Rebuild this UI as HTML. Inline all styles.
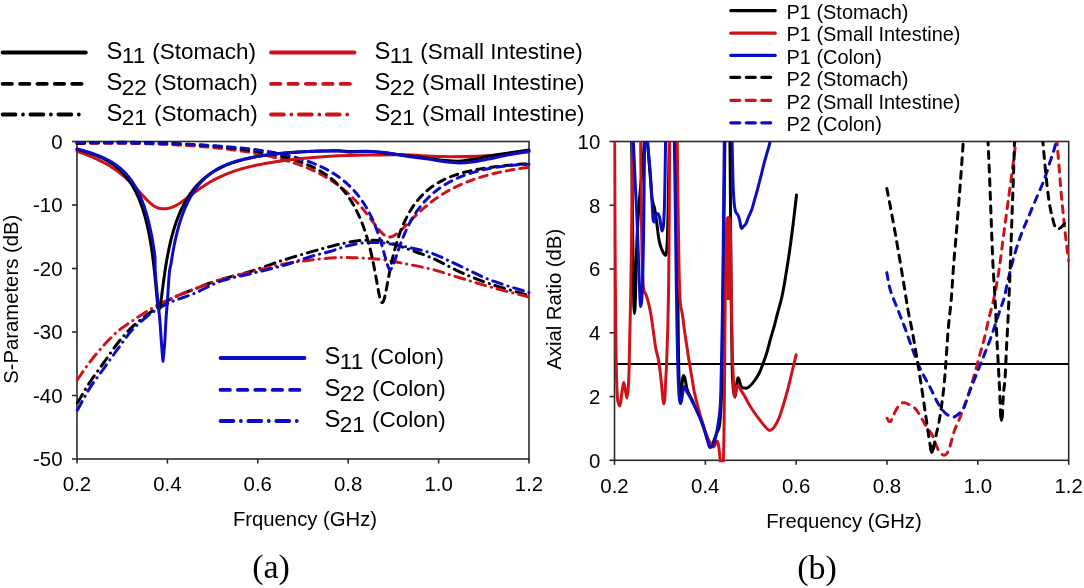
<!DOCTYPE html><html><head><meta charset="utf-8"><title>S-parameters and Axial Ratio</title><style>html,body{margin:0;padding:0;background:#fff;}svg{display:block;will-change:transform}</style></head><body>
<svg width="1084" height="588" viewBox="0 0 1084 588">
<rect width="1084" height="588" fill="#fff"/>
<defs><clipPath id="ca"><rect x="75.0" y="139.5" width="456.0" height="321.5"/></clipPath><clipPath id="cb"><rect x="613.5" y="141.5" width="456.2" height="320.8"/></clipPath></defs>
<g stroke="#2a2a2a" stroke-width="1.6" fill="none">
<rect x="77.0" y="141.5" width="452.0" height="317.5"/>
<line x1="72.0" y1="141.50" x2="77.0" y2="141.50"/>
<line x1="72.0" y1="205.00" x2="77.0" y2="205.00"/>
<line x1="72.0" y1="268.50" x2="77.0" y2="268.50"/>
<line x1="72.0" y1="332.00" x2="77.0" y2="332.00"/>
<line x1="72.0" y1="395.50" x2="77.0" y2="395.50"/>
<line x1="72.0" y1="459.00" x2="77.0" y2="459.00"/>
<line x1="77.00" y1="459.0" x2="77.00" y2="463.5"/>
<line x1="167.40" y1="459.0" x2="167.40" y2="463.5"/>
<line x1="257.80" y1="459.0" x2="257.80" y2="463.5"/>
<line x1="348.20" y1="459.0" x2="348.20" y2="463.5"/>
<line x1="438.60" y1="459.0" x2="438.60" y2="463.5"/>
<line x1="529.00" y1="459.0" x2="529.00" y2="463.5"/>
</g>
<path d="M77.30,403.00 C81.37,396.27 85.13,389.46 89.50,382.80 C93.98,375.96 99.08,369.25 103.90,362.50 C108.72,355.75 113.39,348.50 118.40,342.30 C123.05,336.54 127.35,331.48 132.80,326.40 C138.78,320.83 146.54,315.19 153.10,310.50 C158.90,306.35 163.65,302.89 170.00,299.50 C177.37,295.56 186.57,292.13 195.00,288.80 C203.44,285.47 211.62,282.33 220.60,279.50 C230.28,276.45 241.06,274.43 251.20,271.30 C261.46,268.14 271.55,263.92 281.80,260.60 C291.99,257.29 303.68,253.93 312.50,251.40 C319.13,249.50 324.38,248.04 330.00,246.60 C335.18,245.27 340.16,243.99 345.00,243.00 C349.47,242.09 353.74,241.27 358.00,240.80 C362.07,240.36 366.09,240.23 370.00,240.20 C373.75,240.17 377.21,240.04 381.00,240.60 C385.19,241.22 389.73,242.67 394.00,244.00 C398.26,245.33 401.67,246.79 406.60,248.60 C413.62,251.17 423.54,254.29 432.10,258.00 C441.23,261.95 450.23,267.55 459.70,271.80 C469.35,276.13 478.78,279.95 489.50,283.70 C501.66,287.95 515.83,291.63 529.00,295.60" fill="none" stroke="#000000" stroke-width="3.0" stroke-linecap="round" stroke-linejoin="round" stroke-dasharray="10 5.9 0.2 5.9" clip-path="url(#ca)"/>
<path d="M77.30,379.90 C81.37,374.10 85.14,368.20 89.50,362.50 C93.99,356.63 98.96,350.61 103.90,345.20 C108.61,340.04 113.39,334.91 118.40,330.70 C123.04,326.80 127.55,324.12 132.80,320.60 C138.95,316.48 146.55,311.35 153.10,307.60 C158.91,304.27 163.75,301.86 170.00,299.00 C177.46,295.59 186.58,292.01 195.00,288.80 C203.45,285.58 211.62,282.42 220.60,279.70 C230.28,276.77 241.00,274.55 251.20,272.00 C261.40,269.45 271.54,266.44 281.80,264.40 C291.98,262.38 302.53,260.96 312.50,259.80 C321.90,258.70 332.13,257.75 340.00,257.50 C345.90,257.31 350.42,257.63 355.50,257.80 C360.42,257.97 365.50,258.21 370.00,258.50 C373.92,258.76 376.59,258.82 381.00,259.40 C387.77,260.28 398.09,262.33 406.60,264.00 C415.12,265.67 423.48,267.18 432.10,269.40 C441.17,271.74 450.32,274.97 459.70,277.80 C469.44,280.74 478.84,283.71 489.50,286.70 C501.71,290.13 515.83,293.63 529.00,297.10" fill="none" stroke="#cf1119" stroke-width="3.0" stroke-linecap="round" stroke-linejoin="round" stroke-dasharray="10 5.9 0.2 5.9" clip-path="url(#ca)"/>
<path d="M77.30,410.30 C81.37,403.07 85.07,395.60 89.50,388.60 C93.93,381.60 99.08,375.05 103.90,368.30 C108.72,361.55 113.52,354.68 118.40,348.10 C123.16,341.68 127.24,335.17 132.80,329.30 C138.71,323.06 146.41,316.56 153.10,311.90 C158.79,307.94 163.70,305.42 170.00,302.50 C177.41,299.07 186.68,296.59 195.00,293.10 C203.55,289.51 211.52,284.40 220.60,281.20 C230.19,277.81 241.00,276.15 251.20,273.60 C261.40,271.05 271.64,268.81 281.80,265.90 C292.07,262.95 303.66,258.56 312.50,256.00 C319.11,254.08 324.42,253.15 330.00,251.50 C335.22,249.96 340.15,247.85 345.00,246.50 C349.46,245.26 353.73,244.27 358.00,243.60 C362.06,242.96 366.08,242.63 370.00,242.50 C373.74,242.38 377.19,242.50 381.00,242.80 C385.16,243.13 389.71,243.80 394.00,244.50 C398.24,245.20 401.73,245.92 406.60,247.00 C413.42,248.51 422.67,250.13 431.00,253.00 C440.32,256.21 450.06,261.50 459.70,265.90 C469.55,270.40 478.73,275.47 489.50,279.70 C501.61,284.46 515.83,288.30 529.00,292.60" fill="none" stroke="#0c0cc4" stroke-width="3.0" stroke-linecap="round" stroke-linejoin="round" stroke-dasharray="10 5.9 0.2 5.9" clip-path="url(#ca)"/>
<path d="M77.00,143.55 C77.67,143.54 78.33,143.53 79.00,143.51 C79.67,143.50 80.33,143.49 81.00,143.48 C81.67,143.47 82.33,143.45 83.00,143.44 C83.67,143.43 84.33,143.42 85.00,143.41 C85.67,143.40 86.33,143.39 87.00,143.38 C87.67,143.37 88.33,143.37 89.00,143.36 C89.67,143.35 90.33,143.34 91.00,143.33 C91.67,143.33 92.33,143.32 93.00,143.31 C93.67,143.31 94.33,143.30 95.00,143.29 C95.67,143.29 96.33,143.28 97.00,143.28 C97.67,143.27 98.33,143.27 99.00,143.26 C99.67,143.26 100.33,143.25 101.00,143.25 C101.67,143.25 102.33,143.24 103.00,143.24 C103.67,143.24 104.33,143.23 105.00,143.23 C105.67,143.23 106.33,143.23 107.00,143.23 C107.67,143.23 108.33,143.23 109.00,143.23 C109.67,143.23 110.33,143.23 111.00,143.23 C111.67,143.23 112.33,143.23 113.00,143.23 C113.67,143.23 114.33,143.23 115.00,143.24 C115.67,143.24 116.33,143.24 117.00,143.24 C117.67,143.25 118.33,143.25 119.00,143.25 C119.67,143.26 120.33,143.26 121.00,143.27 C121.67,143.27 122.33,143.28 123.00,143.28 C123.67,143.29 124.33,143.30 125.00,143.30 C125.67,143.31 126.33,143.32 127.00,143.33 C127.67,143.33 128.33,143.34 129.00,143.35 C129.67,143.36 130.33,143.37 131.00,143.38 C131.67,143.39 132.33,143.40 133.00,143.41 C133.67,143.42 134.33,143.43 135.00,143.44 C135.67,143.45 136.33,143.47 137.00,143.48 C137.67,143.49 138.33,143.50 139.00,143.52 C139.67,143.53 140.33,143.54 141.00,143.56 C141.67,143.57 142.33,143.59 143.00,143.60 C143.67,143.62 144.33,143.64 145.00,143.65 C145.67,143.67 146.33,143.69 147.00,143.70 C147.67,143.72 148.33,143.74 149.00,143.76 C149.67,143.78 150.33,143.80 151.00,143.82 C151.67,143.84 152.33,143.86 153.00,143.88 C153.67,143.90 154.33,143.92 155.00,143.94 C155.67,143.96 156.33,143.99 157.00,144.01 C157.67,144.03 158.33,144.06 159.00,144.08 C159.67,144.10 160.33,144.13 161.00,144.15 C161.67,144.18 162.33,144.21 163.00,144.23 C163.67,144.26 164.33,144.29 165.00,144.31 C165.67,144.34 166.33,144.37 167.00,144.40 C167.67,144.43 168.33,144.46 169.00,144.49 C169.67,144.52 170.33,144.55 171.00,144.58 C171.67,144.61 172.33,144.64 173.00,144.68 C173.67,144.71 174.33,144.74 175.00,144.78 C175.67,144.81 176.33,144.85 177.00,144.88 C177.67,144.92 178.33,144.95 179.00,144.99 C179.67,145.03 180.33,145.06 181.00,145.10 C181.67,145.14 182.33,145.18 183.00,145.22 C183.67,145.26 184.33,145.30 185.00,145.34 C185.67,145.38 186.33,145.42 187.00,145.47 C187.67,145.51 188.33,145.55 189.00,145.60 C189.67,145.64 190.33,145.68 191.00,145.73 C191.67,145.78 192.33,145.82 193.00,145.87 C193.67,145.92 194.33,145.96 195.00,146.01 C195.67,146.06 196.33,146.11 197.00,146.16 C197.67,146.21 198.33,146.26 199.00,146.31 C199.67,146.37 200.33,146.42 201.00,146.47 C201.67,146.53 202.33,146.58 203.00,146.64 C203.67,146.69 204.33,146.75 205.00,146.80 C205.67,146.86 206.33,146.92 207.00,146.98 C207.67,147.04 208.33,147.10 209.00,147.16 C209.67,147.22 210.33,147.28 211.00,147.34 C211.67,147.41 212.33,147.47 213.00,147.54 C213.67,147.60 214.33,147.67 215.00,147.73 C215.67,147.80 216.33,147.87 217.00,147.94 C217.67,148.01 218.33,148.08 219.00,148.15 C219.67,148.22 220.33,148.29 221.00,148.36 C221.67,148.44 222.33,148.51 223.00,148.59 C223.67,148.66 224.33,148.74 225.00,148.81 C225.67,148.89 226.33,148.97 227.00,149.05 C227.67,149.13 228.33,149.21 229.00,149.29 C229.67,149.38 230.33,149.46 231.00,149.55 C231.67,149.63 232.33,149.72 233.00,149.80 C233.67,149.89 234.33,149.98 235.00,150.07 C235.67,150.16 236.33,150.25 237.00,150.34 C237.67,150.44 238.33,150.53 239.00,150.63 C239.67,150.72 240.33,150.82 241.00,150.92 C241.67,151.02 242.33,151.12 243.00,151.22 C243.67,151.32 244.33,151.42 245.00,151.53 C245.67,151.63 246.33,151.74 247.00,151.84 C247.67,151.95 248.33,152.06 249.00,152.17 C249.67,152.28 250.33,152.39 251.00,152.51 C251.67,152.62 252.33,152.74 253.00,152.86 C253.67,152.97 254.33,153.09 255.00,153.21 C255.67,153.34 256.33,153.46 257.00,153.58 C257.67,153.71 258.33,153.83 259.00,153.96 C259.67,154.09 260.33,154.22 261.00,154.36 C261.67,154.49 262.33,154.62 263.00,154.76 C263.67,154.90 264.33,155.03 265.00,155.18 C265.67,155.32 266.33,155.46 267.00,155.60 C267.67,155.75 268.33,155.90 269.00,156.05 C269.67,156.20 270.33,156.35 271.00,156.50 C271.67,156.66 272.33,156.81 273.00,156.97 C273.67,157.13 274.33,157.29 275.00,157.46 C275.67,157.62 276.33,157.79 277.00,157.96 C277.67,158.13 278.33,158.30 279.00,158.47 C279.67,158.65 280.33,158.83 281.00,159.01 C281.67,159.19 282.33,159.37 283.00,159.56 C283.67,159.74 284.33,159.93 285.00,160.12 C285.67,160.32 286.33,160.51 287.00,160.71 C287.67,160.91 288.33,161.11 289.00,161.32 C289.67,161.52 290.33,161.73 291.00,161.94 C291.67,162.15 292.33,162.37 293.00,162.59 C293.67,162.81 294.33,163.03 295.00,163.25 C295.67,163.48 296.33,163.71 297.00,163.94 C297.67,164.18 298.33,164.42 299.00,164.66 C299.67,164.90 300.33,165.14 301.00,165.39 C301.67,165.64 302.33,165.90 303.00,166.16 C303.67,166.42 304.33,166.68 305.00,166.95 C305.67,167.21 306.33,167.49 307.00,167.76 C307.67,168.04 308.33,168.32 309.00,168.61 C309.67,168.90 310.33,169.19 311.00,169.49 C311.67,169.78 312.33,170.09 313.00,170.39 C313.67,170.70 314.33,171.01 315.00,171.33 C315.67,171.65 316.33,171.98 317.00,172.31 C317.67,172.64 318.33,172.98 319.00,173.32 C319.67,173.66 320.33,174.01 321.00,174.37 C321.67,174.72 322.33,175.09 323.00,175.45 C323.67,175.82 324.33,176.20 325.00,176.58 C325.67,176.97 326.33,177.36 327.00,177.75 C327.67,178.15 328.45,178.63 329.00,178.97 C329.39,179.21 329.72,179.42 330.00,179.60 C330.20,179.72 330.33,179.81 330.50,179.91 C330.67,180.02 330.83,180.13 331.00,180.24 C331.17,180.34 331.33,180.45 331.50,180.56 C331.67,180.67 331.83,180.78 332.00,180.89 C332.17,181.00 332.33,181.11 332.50,181.22 C332.67,181.33 332.83,181.44 333.00,181.55 C333.17,181.66 333.33,181.77 333.50,181.89 C333.67,182.00 333.83,182.11 334.00,182.23 C334.17,182.34 334.33,182.45 334.50,182.57 C334.67,182.68 334.83,182.80 335.00,182.92 C335.17,183.03 335.33,183.15 335.50,183.27 C335.67,183.38 335.83,183.50 336.00,183.62 C336.17,183.74 336.33,183.86 336.50,183.98 C336.67,184.10 336.83,184.22 337.00,184.34 C337.17,184.46 337.33,184.58 337.50,184.70 C337.67,184.82 337.83,184.95 338.00,185.07 C338.17,185.19 338.33,185.32 338.50,185.44 C338.67,185.56 338.83,185.69 339.00,185.82 C339.17,185.94 339.33,186.07 339.50,186.19 C339.67,186.32 339.83,186.45 340.00,186.58 C340.17,186.71 340.33,186.83 340.50,186.96 C340.67,187.09 340.83,187.22 341.00,187.35 C341.17,187.48 341.33,187.62 341.50,187.75 C341.67,187.88 341.83,188.01 342.00,188.15 C342.17,188.28 342.33,188.41 342.50,188.55 C342.67,188.68 342.83,188.82 343.00,188.96 C343.17,189.09 343.33,189.23 343.50,189.37 C343.67,189.50 343.83,189.64 344.00,189.78 C344.17,189.92 344.33,190.06 344.50,190.20 C344.67,190.34 344.83,190.48 345.00,190.62 C345.17,190.76 345.33,190.91 345.50,191.05 C345.67,191.19 345.83,191.34 346.00,191.48 C346.17,191.63 346.33,191.77 346.50,191.92 C346.67,192.06 346.83,192.21 347.00,192.36 C347.17,192.51 347.33,192.66 347.50,192.80 C347.67,192.95 347.83,193.10 348.00,193.25 C348.17,193.40 348.33,193.56 348.50,193.71 C348.67,193.86 348.83,194.01 349.00,194.17 C349.17,194.32 349.33,194.48 349.50,194.63 C349.67,194.79 349.83,194.94 350.00,195.10 C350.17,195.26 350.33,195.41 350.50,195.57 C350.67,195.73 350.83,195.89 351.00,196.05 C351.17,196.21 351.33,196.37 351.50,196.53 C351.67,196.70 351.83,196.86 352.00,197.02 C352.17,197.19 352.33,197.35 352.50,197.51 C352.67,197.68 352.83,197.85 353.00,198.01 C353.17,198.18 353.33,198.35 353.50,198.51 C353.67,198.68 353.83,198.85 354.00,199.02 C354.17,199.19 354.33,199.36 354.50,199.54 C354.67,199.71 354.83,199.88 355.00,200.05 C355.17,200.23 355.33,200.40 355.50,200.58 C355.67,200.75 355.83,200.93 356.00,201.11 C356.17,201.28 356.33,201.46 356.50,201.64 C356.67,201.82 356.83,202.00 357.00,202.18 C357.17,202.36 357.33,202.54 357.50,202.72 C357.67,202.90 357.83,203.09 358.00,203.27 C358.17,203.46 358.33,203.64 358.50,203.83 C358.67,204.01 358.83,204.20 359.00,204.39 C359.17,204.57 359.33,204.76 359.50,204.95 C359.67,205.14 359.83,205.33 360.00,205.52 C360.17,205.71 360.33,205.91 360.50,206.10 C360.67,206.29 360.83,206.48 361.00,206.68 C361.17,206.87 361.33,207.07 361.50,207.27 C361.67,207.46 361.83,207.66 362.00,207.86 C362.17,208.06 362.33,208.25 362.50,208.45 C362.67,208.65 362.83,208.85 363.00,209.06 C363.17,209.26 363.33,209.46 363.50,209.66 C363.67,209.87 363.83,210.07 364.00,210.27 C364.17,210.48 364.33,210.68 364.50,210.89 C364.67,211.10 364.83,211.30 365.00,211.51 C365.17,211.72 365.33,211.93 365.50,212.14 C365.67,212.35 365.83,212.56 366.00,212.77 C366.17,212.98 366.33,213.19 366.50,213.40 C366.67,213.62 366.83,213.83 367.00,214.04 C367.17,214.26 367.33,214.47 367.50,214.69 C367.67,214.90 367.83,215.12 368.00,215.33 C368.17,215.55 368.33,215.77 368.50,215.98 C368.67,216.20 368.83,216.42 369.00,216.64 C369.17,216.86 369.33,217.08 369.50,217.29 C369.67,217.51 369.83,217.73 370.00,217.95 C370.17,218.17 370.33,218.40 370.50,218.62 C370.67,218.84 370.83,219.06 371.00,219.28 C371.17,219.50 371.33,219.72 371.50,219.95 C371.67,220.17 371.83,220.39 372.00,220.61 C372.17,220.83 372.33,221.06 372.50,221.28 C372.67,221.50 372.83,221.72 373.00,221.95 C373.17,222.17 373.33,222.39 373.50,222.61 C373.67,222.84 373.83,223.06 374.00,223.28 C374.17,223.50 374.33,223.72 374.50,223.94 C374.67,224.17 374.83,224.39 375.00,224.61 C375.17,224.83 375.33,225.05 375.50,225.26 C375.67,225.48 375.83,225.70 376.00,225.92 C376.17,226.14 376.33,226.35 376.50,226.57 C376.67,226.78 376.83,227.00 377.00,227.21 C377.17,227.42 377.33,227.64 377.50,227.85 C377.67,228.06 377.83,228.27 378.00,228.47 C378.17,228.68 378.33,228.89 378.50,229.09 C378.67,229.30 378.83,229.50 379.00,229.70 C379.17,229.90 379.33,230.10 379.50,230.30 C379.67,230.49 379.83,230.69 380.00,230.88 C380.17,231.07 380.33,231.26 380.50,231.45 C380.67,231.63 380.83,231.82 381.00,232.00 C381.17,232.18 381.33,232.36 381.50,232.53 C381.67,232.71 381.83,232.88 382.00,233.05 C382.17,233.21 382.33,233.38 382.50,233.54 C382.67,233.70 382.83,233.86 383.00,234.01 C383.17,234.16 383.33,234.31 383.50,234.45 C383.67,234.60 383.83,234.74 384.00,234.87 C384.17,235.01 384.33,235.14 384.50,235.26 C384.67,235.39 384.83,235.51 385.00,235.62 C385.17,235.74 385.33,235.85 385.50,235.95 C385.67,236.05 385.83,236.15 386.00,236.24 C386.17,236.33 386.33,236.42 386.50,236.50 C386.67,236.58 386.83,236.65 387.00,236.72 C387.17,236.78 387.33,236.84 387.50,236.89 C387.67,236.94 387.83,236.99 388.00,237.02 C388.17,237.06 388.33,237.08 388.50,237.10 C388.67,237.12 388.83,237.12 389.00,237.12 C389.17,237.12 389.33,237.11 389.50,237.10 C389.67,237.08 389.83,237.06 390.00,237.04 C390.17,237.01 390.33,236.98 390.50,236.95 C390.67,236.91 390.83,236.87 391.00,236.83 C391.17,236.78 391.33,236.74 391.50,236.68 C391.67,236.63 391.83,236.57 392.00,236.51 C392.17,236.45 392.33,236.38 392.50,236.31 C392.67,236.24 392.83,236.17 393.00,236.09 C393.17,236.01 393.33,235.93 393.50,235.84 C393.67,235.76 393.83,235.67 394.00,235.58 C394.17,235.49 394.33,235.39 394.50,235.29 C394.67,235.19 394.83,235.09 395.00,234.99 C395.17,234.88 395.33,234.77 395.50,234.66 C395.67,234.55 395.83,234.44 396.00,234.32 C396.17,234.21 396.33,234.09 396.50,233.97 C396.67,233.85 396.83,233.72 397.00,233.60 C397.17,233.47 397.33,233.34 397.50,233.21 C397.67,233.08 397.83,232.95 398.00,232.81 C398.17,232.68 398.33,232.54 398.50,232.40 C398.67,232.26 398.83,232.12 399.00,231.98 C399.17,231.83 399.33,231.69 399.50,231.54 C399.67,231.40 399.83,231.25 400.00,231.10 C400.17,230.95 400.33,230.80 400.50,230.65 C400.67,230.50 400.83,230.34 401.00,230.19 C401.17,230.04 401.33,229.88 401.50,229.72 C401.67,229.57 401.83,229.41 402.00,229.25 C402.17,229.09 402.33,228.93 402.50,228.77 C402.67,228.61 402.83,228.45 403.00,228.28 C403.17,228.12 403.33,227.96 403.50,227.79 C403.67,227.63 403.83,227.46 404.00,227.30 C404.17,227.13 404.33,226.97 404.50,226.80 C404.67,226.63 404.83,226.47 405.00,226.30 C405.17,226.13 405.33,225.96 405.50,225.79 C405.67,225.63 405.83,225.46 406.00,225.29 C406.17,225.12 406.33,224.95 406.50,224.78 C406.67,224.61 406.83,224.44 407.00,224.27 C407.17,224.10 407.33,223.93 407.50,223.76 C407.67,223.59 407.83,223.42 408.00,223.25 C408.17,223.08 408.33,222.91 408.50,222.74 C408.67,222.57 408.83,222.40 409.00,222.23 C409.17,222.06 409.33,221.89 409.50,221.72 C409.67,221.55 409.83,221.38 410.00,221.21 C410.17,221.04 410.33,220.87 410.50,220.70 C410.67,220.53 410.83,220.36 411.00,220.19 C411.17,220.02 411.33,219.85 411.50,219.68 C411.67,219.51 411.83,219.34 412.00,219.18 C412.17,219.01 412.33,218.84 412.50,218.67 C412.67,218.51 412.83,218.34 413.00,218.17 C413.17,218.00 413.33,217.84 413.50,217.67 C413.67,217.51 413.83,217.34 414.00,217.18 C414.17,217.01 414.33,216.84 414.50,216.68 C414.67,216.52 414.83,216.35 415.00,216.19 C415.17,216.02 415.33,215.86 415.50,215.70 C415.67,215.54 415.83,215.37 416.00,215.21 C416.17,215.05 416.33,214.89 416.50,214.73 C416.67,214.57 416.83,214.41 417.00,214.25 C417.17,214.09 417.33,213.93 417.50,213.77 C417.67,213.61 417.83,213.45 418.00,213.29 C418.17,213.14 418.33,212.98 418.50,212.82 C418.67,212.67 418.83,212.51 419.00,212.35 C419.17,212.20 419.33,212.04 419.50,211.89 C419.67,211.73 419.83,211.58 420.00,211.43 C420.17,211.27 420.33,211.12 420.50,210.97 C420.67,210.82 420.83,210.66 421.00,210.51 C421.17,210.36 421.33,210.21 421.50,210.06 C421.67,209.91 421.83,209.76 422.00,209.61 C422.17,209.47 422.33,209.32 422.50,209.17 C422.67,209.02 422.83,208.87 423.00,208.73 C423.17,208.58 423.33,208.44 423.50,208.29 C423.67,208.15 423.83,208.00 424.00,207.86 C424.17,207.71 424.33,207.57 424.50,207.43 C424.67,207.28 424.83,207.14 425.00,207.00 C425.17,206.86 425.33,206.72 425.50,206.58 C425.67,206.44 425.83,206.30 426.00,206.16 C426.17,206.02 426.33,205.88 426.50,205.74 C426.67,205.60 426.83,205.46 427.00,205.33 C427.17,205.19 427.33,205.05 427.50,204.92 C427.67,204.78 427.83,204.65 428.00,204.51 C428.17,204.38 428.33,204.24 428.50,204.11 C428.67,203.98 428.83,203.84 429.00,203.71 C429.17,203.58 429.33,203.45 429.50,203.32 C429.67,203.19 429.83,203.06 430.00,202.93 C430.17,202.80 430.33,202.67 430.50,202.54 C430.67,202.41 430.83,202.28 431.00,202.15 C431.17,202.03 431.33,201.90 431.50,201.77 C431.67,201.65 431.83,201.52 432.00,201.39 C432.17,201.27 432.33,201.14 432.50,201.02 C432.67,200.90 432.83,200.77 433.00,200.65 C433.17,200.53 433.33,200.40 433.50,200.28 C433.67,200.16 433.83,200.04 434.00,199.92 C434.17,199.80 434.33,199.68 434.50,199.56 C434.67,199.44 434.83,199.32 435.00,199.20 C435.17,199.08 435.33,198.96 435.50,198.84 C435.67,198.73 435.83,198.61 436.00,198.49 C436.17,198.38 436.33,198.26 436.50,198.15 C436.67,198.03 436.83,197.91 437.00,197.80 C437.17,197.69 437.33,197.57 437.50,197.46 C437.67,197.35 437.83,197.23 438.00,197.12 C438.17,197.01 438.33,196.90 438.50,196.78 C438.67,196.67 438.83,196.56 439.00,196.45 C439.17,196.34 439.29,196.26 439.50,196.12 C439.87,195.88 440.46,195.50 441.00,195.15 C441.62,194.76 442.33,194.31 443.00,193.90 C443.66,193.49 444.33,193.09 445.00,192.70 C445.67,192.30 446.33,191.92 447.00,191.54 C447.67,191.16 448.33,190.78 449.00,190.42 C449.67,190.05 450.33,189.69 451.00,189.34 C451.67,188.98 452.33,188.64 453.00,188.30 C453.67,187.96 454.33,187.62 455.00,187.30 C455.67,186.97 456.33,186.65 457.00,186.33 C457.67,186.01 458.33,185.70 459.00,185.40 C459.67,185.09 460.33,184.80 461.00,184.50 C461.67,184.21 462.33,183.92 463.00,183.64 C463.67,183.35 464.33,183.08 465.00,182.80 C465.67,182.53 466.33,182.26 467.00,182.00 C467.67,181.74 468.33,181.48 469.00,181.22 C469.67,180.97 470.33,180.72 471.00,180.47 C471.67,180.23 472.33,179.99 473.00,179.75 C473.67,179.52 474.33,179.29 475.00,179.06 C475.67,178.83 476.33,178.61 477.00,178.39 C477.67,178.17 478.33,177.95 479.00,177.74 C479.67,177.53 480.33,177.32 481.00,177.11 C481.67,176.91 482.33,176.71 483.00,176.51 C483.67,176.31 484.33,176.12 485.00,175.93 C485.67,175.74 486.33,175.55 487.00,175.37 C487.67,175.18 488.33,175.00 489.00,174.83 C489.67,174.65 490.33,174.48 491.00,174.30 C491.67,174.13 492.33,173.97 493.00,173.80 C493.67,173.64 494.33,173.47 495.00,173.31 C495.67,173.16 496.33,173.00 497.00,172.85 C497.67,172.69 498.33,172.54 499.00,172.39 C499.67,172.25 500.33,172.10 501.00,171.96 C501.67,171.81 502.33,171.67 503.00,171.54 C503.67,171.40 504.33,171.26 505.00,171.13 C505.67,171.00 506.33,170.87 507.00,170.74 C507.67,170.61 508.33,170.48 509.00,170.36 C509.67,170.24 510.33,170.11 511.00,170.00 C511.67,169.88 512.33,169.76 513.00,169.64 C513.67,169.53 514.33,169.42 515.00,169.31 C515.67,169.19 516.33,169.09 517.00,168.98 C517.67,168.87 518.33,168.77 519.00,168.66 C519.67,168.56 520.33,168.46 521.00,168.36 C521.67,168.26 522.33,168.16 523.00,168.07 C523.67,167.97 524.33,167.88 525.00,167.79 C525.67,167.70 526.33,167.61 527.00,167.52 C527.67,167.43 528.33,167.34 529.00,167.26" fill="none" stroke="#cf1119" stroke-width="3.0" stroke-linecap="round" stroke-linejoin="round" stroke-dasharray="7.6 6.1" clip-path="url(#ca)"/>
<path d="M77.00,143.38 C77.67,143.35 78.33,143.32 79.00,143.29 C79.67,143.26 80.33,143.23 81.00,143.20 C81.67,143.17 82.33,143.14 83.00,143.12 C83.67,143.09 84.33,143.06 85.00,143.04 C85.67,143.01 86.33,142.99 87.00,142.96 C87.67,142.94 88.33,142.91 89.00,142.89 C89.67,142.87 90.33,142.85 91.00,142.83 C91.67,142.80 92.33,142.78 93.00,142.76 C93.67,142.74 94.33,142.72 95.00,142.70 C95.67,142.69 96.33,142.67 97.00,142.65 C97.67,142.63 98.33,142.62 99.00,142.60 C99.67,142.58 100.33,142.57 101.00,142.55 C101.67,142.54 102.33,142.52 103.00,142.51 C103.67,142.50 104.33,142.48 105.00,142.47 C105.67,142.46 106.33,142.45 107.00,142.44 C107.67,142.43 108.33,142.42 109.00,142.41 C109.67,142.40 110.33,142.39 111.00,142.38 C111.67,142.37 112.33,142.36 113.00,142.36 C113.67,142.35 114.33,142.34 115.00,142.34 C115.67,142.33 116.33,142.33 117.00,142.32 C117.67,142.32 118.33,142.32 119.00,142.31 C119.67,142.31 120.33,142.31 121.00,142.31 C121.67,142.30 122.33,142.30 123.00,142.30 C123.67,142.30 124.33,142.30 125.00,142.30 C125.67,142.30 126.33,142.30 127.00,142.31 C127.67,142.31 128.33,142.31 129.00,142.31 C129.67,142.32 130.33,142.32 131.00,142.33 C131.67,142.33 132.33,142.34 133.00,142.34 C133.67,142.35 134.33,142.35 135.00,142.36 C135.67,142.37 136.33,142.38 137.00,142.38 C137.67,142.39 138.33,142.40 139.00,142.41 C139.67,142.42 140.33,142.43 141.00,142.44 C141.67,142.45 142.33,142.46 143.00,142.48 C143.67,142.49 144.33,142.50 145.00,142.51 C145.67,142.53 146.33,142.54 147.00,142.56 C147.67,142.57 148.33,142.59 149.00,142.60 C149.67,142.62 150.33,142.63 151.00,142.65 C151.67,142.67 152.33,142.69 153.00,142.70 C153.67,142.72 154.33,142.74 155.00,142.76 C155.67,142.78 156.33,142.80 157.00,142.82 C157.67,142.84 158.33,142.86 159.00,142.89 C159.67,142.91 160.33,142.93 161.00,142.95 C161.67,142.98 162.33,143.00 163.00,143.02 C163.67,143.05 164.33,143.07 165.00,143.10 C165.67,143.13 166.33,143.15 167.00,143.18 C167.67,143.21 168.33,143.23 169.00,143.26 C169.67,143.29 170.33,143.32 171.00,143.35 C171.67,143.38 172.33,143.41 173.00,143.44 C173.67,143.47 174.33,143.50 175.00,143.53 C175.67,143.57 176.33,143.60 177.00,143.63 C177.67,143.67 178.33,143.70 179.00,143.73 C179.67,143.77 180.33,143.80 181.00,143.84 C181.67,143.88 182.33,143.91 183.00,143.95 C183.67,143.99 184.33,144.03 185.00,144.06 C185.67,144.10 186.33,144.14 187.00,144.18 C187.67,144.22 188.33,144.26 189.00,144.30 C189.67,144.35 190.33,144.39 191.00,144.43 C191.67,144.47 192.33,144.52 193.00,144.56 C193.67,144.60 194.33,144.65 195.00,144.70 C195.67,144.74 196.33,144.79 197.00,144.83 C197.67,144.88 198.33,144.93 199.00,144.98 C199.67,145.02 200.33,145.07 201.00,145.12 C201.67,145.17 202.33,145.22 203.00,145.28 C203.67,145.33 204.33,145.38 205.00,145.43 C205.67,145.48 206.33,145.54 207.00,145.59 C207.67,145.65 208.33,145.70 209.00,145.76 C209.67,145.81 210.33,145.87 211.00,145.93 C211.67,145.98 212.33,146.04 213.00,146.10 C213.67,146.16 214.33,146.22 215.00,146.28 C215.67,146.34 216.33,146.40 217.00,146.46 C217.67,146.53 218.33,146.59 219.00,146.65 C219.67,146.72 220.33,146.78 221.00,146.85 C221.67,146.91 222.33,146.98 223.00,147.05 C223.67,147.12 224.33,147.18 225.00,147.25 C225.67,147.32 226.33,147.39 227.00,147.47 C227.67,147.54 228.33,147.61 229.00,147.68 C229.67,147.76 230.33,147.83 231.00,147.91 C231.67,147.98 232.33,148.06 233.00,148.13 C233.67,148.21 234.33,148.29 235.00,148.37 C235.67,148.45 236.33,148.53 237.00,148.61 C237.67,148.69 238.33,148.78 239.00,148.86 C239.67,148.94 240.33,149.03 241.00,149.11 C241.67,149.20 242.33,149.29 243.00,149.38 C243.67,149.47 244.33,149.56 245.00,149.65 C245.67,149.74 246.33,149.83 247.00,149.92 C247.67,150.02 248.33,150.11 249.00,150.21 C249.67,150.31 250.33,150.40 251.00,150.50 C251.67,150.60 252.33,150.70 253.00,150.81 C253.67,150.91 254.33,151.01 255.00,151.12 C255.67,151.22 256.33,151.33 257.00,151.44 C257.67,151.55 258.33,151.66 259.00,151.77 C259.67,151.88 260.33,151.99 261.00,152.11 C261.67,152.23 262.33,152.34 263.00,152.46 C263.67,152.58 264.33,152.70 265.00,152.82 C265.67,152.95 266.33,153.07 267.00,153.20 C267.67,153.33 268.33,153.45 269.00,153.59 C269.67,153.72 270.33,153.85 271.00,153.99 C271.67,154.12 272.33,154.26 273.00,154.40 C273.67,154.54 274.33,154.68 275.00,154.83 C275.67,154.97 276.33,155.12 277.00,155.27 C277.67,155.42 278.33,155.57 279.00,155.73 C279.67,155.89 280.33,156.04 281.00,156.21 C281.67,156.37 282.33,156.53 283.00,156.70 C283.67,156.87 284.33,157.04 285.00,157.21 C285.67,157.39 286.33,157.56 287.00,157.74 C287.67,157.92 288.33,158.11 289.00,158.30 C289.67,158.49 290.33,158.68 291.00,158.87 C291.67,159.07 292.33,159.27 293.00,159.47 C293.67,159.68 294.33,159.88 295.00,160.10 C295.67,160.31 296.33,160.53 297.00,160.75 C297.67,160.97 298.33,161.20 299.00,161.43 C299.67,161.66 300.33,161.90 301.00,162.14 C301.67,162.38 302.33,162.63 303.00,162.88 C303.67,163.13 304.33,163.39 305.00,163.66 C305.67,163.92 306.33,164.20 307.00,164.47 C307.67,164.75 308.33,165.04 309.00,165.33 C309.67,165.62 310.33,165.92 311.00,166.22 C311.67,166.53 312.33,166.84 313.00,167.16 C313.67,167.49 314.34,167.82 315.00,168.15 C315.67,168.49 316.34,168.84 317.00,169.20 C317.67,169.56 318.34,169.92 319.00,170.30 C319.67,170.67 320.34,171.06 321.00,171.46 C321.67,171.85 322.34,172.26 323.00,172.68 C323.67,173.10 324.34,173.53 325.00,173.97 C325.67,174.42 326.34,174.88 327.00,175.34 C327.67,175.82 328.45,176.39 329.00,176.80 C329.39,177.09 329.78,177.39 330.00,177.56 C330.11,177.64 330.17,177.68 330.25,177.75 C330.33,177.81 330.42,177.88 330.50,177.94 C330.58,178.01 330.67,178.07 330.75,178.14 C330.83,178.21 330.92,178.27 331.00,178.34 C331.08,178.40 331.17,178.47 331.25,178.54 C331.33,178.60 331.42,178.67 331.50,178.74 C331.58,178.80 331.67,178.87 331.75,178.94 C331.83,179.01 331.92,179.07 332.00,179.14 C332.08,179.21 332.17,179.28 332.25,179.35 C332.33,179.42 332.42,179.49 332.50,179.56 C332.58,179.62 332.67,179.69 332.75,179.76 C332.83,179.83 332.92,179.90 333.00,179.97 C333.08,180.04 333.17,180.12 333.25,180.19 C333.33,180.26 333.42,180.33 333.50,180.40 C333.58,180.47 333.67,180.54 333.75,180.61 C333.83,180.69 333.92,180.76 334.00,180.83 C334.08,180.90 334.17,180.98 334.25,181.05 C334.33,181.12 334.42,181.20 334.50,181.27 C334.58,181.34 334.67,181.42 334.75,181.49 C334.83,181.57 334.92,181.64 335.00,181.72 C335.08,181.79 335.17,181.87 335.25,181.94 C335.33,182.02 335.42,182.09 335.50,182.17 C335.58,182.24 335.67,182.32 335.75,182.40 C335.83,182.47 335.92,182.55 336.00,182.63 C336.08,182.71 336.17,182.78 336.25,182.86 C336.33,182.94 336.42,183.02 336.50,183.10 C336.58,183.17 336.67,183.25 336.75,183.33 C336.83,183.41 336.92,183.49 337.00,183.57 C337.08,183.65 337.17,183.73 337.25,183.81 C337.33,183.89 337.42,183.97 337.50,184.05 C337.58,184.14 337.67,184.22 337.75,184.30 C337.83,184.38 337.92,184.46 338.00,184.55 C338.08,184.63 338.17,184.71 338.25,184.79 C338.33,184.88 338.42,184.96 338.50,185.04 C338.58,185.13 338.67,185.21 338.75,185.30 C338.83,185.38 338.92,185.47 339.00,185.55 C339.08,185.64 339.17,185.72 339.25,185.81 C339.33,185.89 339.42,185.98 339.50,186.07 C339.58,186.15 339.67,186.24 339.75,186.33 C339.83,186.42 339.92,186.50 340.00,186.59 C340.08,186.68 340.17,186.77 340.25,186.86 C340.33,186.95 340.42,187.03 340.50,187.12 C340.58,187.21 340.67,187.30 340.75,187.39 C340.83,187.48 340.92,187.58 341.00,187.67 C341.08,187.76 341.17,187.85 341.25,187.94 C341.33,188.03 341.42,188.13 341.50,188.22 C341.58,188.31 341.67,188.40 341.75,188.50 C341.83,188.59 341.92,188.68 342.00,188.78 C342.08,188.87 342.17,188.97 342.25,189.06 C342.33,189.16 342.42,189.25 342.50,189.35 C342.58,189.45 342.67,189.54 342.75,189.64 C342.83,189.74 342.92,189.83 343.00,189.93 C343.08,190.03 343.17,190.13 343.25,190.22 C343.33,190.32 343.42,190.42 343.50,190.52 C343.58,190.62 343.67,190.72 343.75,190.82 C343.83,190.92 343.92,191.02 344.00,191.12 C344.08,191.22 344.17,191.33 344.25,191.43 C344.33,191.53 344.42,191.63 344.50,191.73 C344.58,191.84 344.67,191.94 344.75,192.05 C344.83,192.15 344.92,192.25 345.00,192.36 C345.08,192.46 345.17,192.57 345.25,192.67 C345.33,192.78 345.42,192.89 345.50,192.99 C345.58,193.10 345.67,193.21 345.75,193.31 C345.83,193.42 345.92,193.53 346.00,193.64 C346.08,193.75 346.17,193.86 346.25,193.97 C346.33,194.08 346.42,194.19 346.50,194.30 C346.58,194.41 346.67,194.52 346.75,194.63 C346.83,194.74 346.92,194.85 347.00,194.97 C347.08,195.08 347.17,195.19 347.25,195.31 C347.33,195.42 347.42,195.53 347.50,195.65 C347.58,195.76 347.67,195.88 347.75,195.99 C347.83,196.11 347.92,196.23 348.00,196.34 C348.08,196.46 348.17,196.58 348.25,196.70 C348.33,196.81 348.42,196.93 348.50,197.05 C348.58,197.17 348.67,197.29 348.75,197.41 C348.83,197.53 348.92,197.65 349.00,197.77 C349.08,197.89 349.17,198.02 349.25,198.14 C349.33,198.26 349.42,198.39 349.50,198.51 C349.58,198.63 349.67,198.76 349.75,198.88 C349.83,199.01 349.92,199.13 350.00,199.26 C350.08,199.39 350.17,199.51 350.25,199.64 C350.33,199.77 350.42,199.89 350.50,200.02 C350.58,200.15 350.67,200.28 350.75,200.41 C350.83,200.54 350.92,200.67 351.00,200.80 C351.08,200.93 351.17,201.07 351.25,201.20 C351.33,201.33 351.42,201.46 351.50,201.60 C351.58,201.73 351.67,201.87 351.75,202.00 C351.83,202.14 351.92,202.27 352.00,202.41 C352.08,202.55 352.17,202.68 352.25,202.82 C352.33,202.96 352.42,203.10 352.50,203.24 C352.58,203.38 352.67,203.52 352.75,203.66 C352.83,203.80 352.92,203.94 353.00,204.08 C353.08,204.22 353.17,204.36 353.25,204.51 C353.33,204.65 353.42,204.80 353.50,204.94 C353.58,205.09 353.67,205.23 353.75,205.38 C353.83,205.53 353.92,205.67 354.00,205.82 C354.08,205.97 354.17,206.12 354.25,206.27 C354.33,206.42 354.42,206.57 354.50,206.72 C354.58,206.87 354.67,207.02 354.75,207.17 C354.83,207.33 354.92,207.48 355.00,207.64 C355.08,207.79 355.17,207.95 355.25,208.10 C355.33,208.26 355.42,208.41 355.50,208.57 C355.58,208.73 355.67,208.89 355.75,209.05 C355.83,209.21 355.92,209.37 356.00,209.53 C356.08,209.69 356.17,209.85 356.25,210.01 C356.33,210.18 356.42,210.34 356.50,210.51 C356.58,210.67 356.67,210.84 356.75,211.00 C356.83,211.17 356.92,211.34 357.00,211.51 C357.08,211.67 357.17,211.84 357.25,212.01 C357.33,212.18 357.42,212.35 357.50,212.53 C357.58,212.70 357.67,212.87 357.75,213.05 C357.83,213.22 357.92,213.40 358.00,213.57 C358.08,213.75 358.17,213.92 358.25,214.10 C358.33,214.28 358.42,214.46 358.50,214.64 C358.58,214.82 358.67,215.00 358.75,215.18 C358.83,215.37 358.92,215.55 359.00,215.73 C359.08,215.92 359.17,216.10 359.25,216.29 C359.33,216.48 359.42,216.66 359.50,216.85 C359.58,217.04 359.67,217.23 359.75,217.42 C359.83,217.61 359.92,217.80 360.00,218.00 C360.08,218.19 360.17,218.38 360.25,218.58 C360.33,218.78 360.42,218.97 360.50,219.17 C360.58,219.37 360.67,219.57 360.75,219.77 C360.83,219.97 360.92,220.17 361.00,220.37 C361.08,220.57 361.17,220.78 361.25,220.98 C361.33,221.19 361.42,221.39 361.50,221.60 C361.58,221.81 361.67,222.02 361.75,222.23 C361.83,222.44 361.92,222.65 362.00,222.86 C362.08,223.08 362.17,223.29 362.25,223.51 C362.33,223.72 362.42,223.94 362.50,224.16 C362.58,224.38 362.67,224.60 362.75,224.82 C362.83,225.04 362.92,225.26 363.00,225.48 C363.08,225.71 363.17,225.93 363.25,226.16 C363.33,226.39 363.42,226.62 363.50,226.84 C363.58,227.08 363.67,227.31 363.75,227.54 C363.83,227.77 363.92,228.01 364.00,228.24 C364.08,228.48 364.17,228.72 364.25,228.95 C364.33,229.19 364.42,229.43 364.50,229.68 C364.58,229.92 364.67,230.16 364.75,230.41 C364.83,230.65 364.92,230.90 365.00,231.15 C365.08,231.40 365.17,231.65 365.25,231.90 C365.33,232.15 365.42,232.41 365.50,232.66 C365.58,232.92 365.67,233.18 365.75,233.44 C365.83,233.70 365.92,233.96 366.00,234.22 C366.08,234.48 366.17,234.75 366.25,235.01 C366.33,235.28 366.42,235.55 366.50,235.82 C366.58,236.09 366.67,236.36 366.75,236.64 C366.83,236.91 366.92,237.19 367.00,237.47 C367.08,237.75 367.17,238.03 367.25,238.31 C367.33,238.59 367.42,238.88 367.50,239.16 C367.58,239.45 367.67,239.74 367.75,240.03 C367.83,240.32 367.92,240.61 368.00,240.91 C368.08,241.20 368.17,241.50 368.25,241.80 C368.33,242.10 368.42,242.40 368.50,242.70 C368.58,243.01 368.67,243.31 368.75,243.62 C368.83,243.93 368.92,244.24 369.00,244.56 C369.08,244.87 369.17,245.19 369.25,245.50 C369.33,245.82 369.42,246.14 369.50,246.46 C369.58,246.79 369.67,247.11 369.75,247.44 C369.83,247.77 369.92,248.10 370.00,248.43 C370.08,248.77 370.17,249.10 370.25,249.44 C370.33,249.78 370.42,250.12 370.50,250.46 C370.58,250.81 370.67,251.15 370.75,251.50 C370.83,251.85 370.92,252.20 371.00,252.55 C371.08,252.91 371.17,253.27 371.25,253.63 C371.33,253.99 371.42,254.35 371.50,254.71 C371.58,255.08 371.67,255.45 371.75,255.82 C371.83,256.19 371.92,256.57 372.00,256.94 C372.08,257.32 372.17,257.70 372.25,258.08 C372.33,258.47 372.42,258.85 372.50,259.24 C372.58,259.63 372.67,260.02 372.75,260.42 C372.83,260.81 372.92,261.21 373.00,261.61 C373.08,262.01 373.17,262.42 373.25,262.82 C373.33,263.23 373.42,263.64 373.50,264.05 C373.58,264.47 373.67,264.88 373.75,265.30 C373.83,265.72 373.92,266.14 374.00,266.57 C374.08,266.99 374.17,267.42 374.25,267.85 C374.33,268.28 374.42,268.72 374.50,269.15 C374.58,269.59 374.67,270.03 374.75,270.47 C374.83,270.91 374.92,271.36 375.00,271.80 C375.08,272.25 375.17,272.70 375.25,273.15 C375.33,273.61 375.42,274.06 375.50,274.52 C375.58,274.98 375.67,275.44 375.75,275.90 C375.83,276.36 375.92,276.82 376.00,277.28 C376.08,277.75 376.17,278.22 376.25,278.68 C376.33,279.15 376.42,279.62 376.50,280.09 C376.58,280.56 376.67,281.03 376.75,281.50 C376.83,281.97 376.92,282.44 377.00,282.92 C377.08,283.39 377.17,283.86 377.25,284.33 C377.33,284.80 377.42,285.27 377.50,285.74 C377.58,286.20 377.67,286.67 377.75,287.14 C377.83,287.60 377.92,288.06 378.00,288.52 C378.08,288.97 378.17,289.43 378.25,289.88 C378.33,290.33 378.42,290.77 378.50,291.22 C378.58,291.65 378.67,292.09 378.75,292.52 C378.83,292.94 378.92,293.36 379.00,293.78 C379.08,294.19 379.17,294.59 379.25,294.99 C379.33,295.38 379.42,295.76 379.50,296.14 C379.58,296.50 379.67,296.87 379.75,297.22 C379.83,297.56 379.91,297.90 380.00,298.22 C380.08,298.54 380.16,298.85 380.25,299.14 C380.33,299.42 380.41,299.70 380.50,299.96 C380.58,300.21 380.66,300.46 380.75,300.68 C380.83,300.90 380.91,301.10 381.00,301.29 C381.08,301.46 381.16,301.63 381.25,301.78 C381.33,301.92 381.41,302.04 381.50,302.15 C381.58,302.25 381.66,302.33 381.75,302.40 C381.83,302.46 381.91,302.50 382.00,302.53 C382.08,302.55 382.17,302.55 382.25,302.54 C382.33,302.53 382.42,302.50 382.50,302.45 C382.59,302.41 382.67,302.33 382.75,302.25 C382.84,302.16 382.92,302.05 383.00,301.94 C383.09,301.81 383.17,301.66 383.25,301.51 C383.34,301.34 383.42,301.15 383.50,300.96 C383.59,300.76 383.67,300.54 383.75,300.32 C383.84,300.08 383.92,299.83 384.00,299.57 C384.09,299.30 384.17,299.02 384.25,298.73 C384.34,298.43 384.42,298.13 384.50,297.81 C384.58,297.49 384.67,297.15 384.75,296.82 C384.83,296.47 384.92,296.11 385.00,295.75 C385.08,295.38 385.17,295.01 385.25,294.63 C385.33,294.24 385.42,293.85 385.50,293.46 C385.58,293.06 385.67,292.65 385.75,292.24 C385.83,291.83 385.92,291.41 386.00,290.99 C386.08,290.57 386.17,290.14 386.25,289.71 C386.33,289.28 386.42,288.85 386.50,288.41 C386.58,287.97 386.67,287.53 386.75,287.09 C386.83,286.65 386.92,286.21 387.00,285.77 C387.08,285.32 387.17,284.87 387.25,284.43 C387.33,283.98 387.42,283.54 387.50,283.09 C387.58,282.64 387.67,282.19 387.75,281.75 C387.83,281.30 387.92,280.86 388.00,280.41 C388.08,279.97 388.17,279.52 388.25,279.08 C388.33,278.64 388.42,278.20 388.50,277.76 C388.58,277.32 388.67,276.88 388.75,276.44 C388.83,276.01 388.92,275.57 389.00,275.14 C389.08,274.71 389.17,274.28 389.25,273.85 C389.33,273.43 389.42,273.00 389.50,272.58 C389.58,272.15 389.67,271.73 389.75,271.32 C389.83,270.90 389.92,270.48 390.00,270.07 C390.08,269.66 390.17,269.25 390.25,268.84 C390.33,268.43 390.42,268.03 390.50,267.63 C390.58,267.23 390.67,266.83 390.75,266.43 C390.83,266.03 390.92,265.64 391.00,265.25 C391.08,264.86 391.17,264.47 391.25,264.09 C391.33,263.70 391.42,263.32 391.50,262.94 C391.58,262.56 391.67,262.19 391.75,261.81 C391.83,261.44 391.92,261.07 392.00,260.70 C392.08,260.33 392.17,259.97 392.25,259.60 C392.33,259.24 392.42,258.88 392.50,258.52 C392.58,258.17 392.67,257.81 392.75,257.46 C392.83,257.11 392.92,256.76 393.00,256.42 C393.08,256.07 393.17,255.73 393.25,255.39 C393.33,255.05 393.42,254.71 393.50,254.37 C393.58,254.04 393.67,253.71 393.75,253.38 C393.83,253.05 393.92,252.72 394.00,252.39 C394.08,252.07 394.17,251.75 394.25,251.43 C394.33,251.11 394.42,250.79 394.50,250.47 C394.58,250.16 394.67,249.85 394.75,249.54 C394.83,249.23 394.92,248.92 395.00,248.61 C395.08,248.31 395.17,248.00 395.25,247.70 C395.33,247.40 395.42,247.10 395.50,246.81 C395.58,246.51 395.67,246.22 395.75,245.93 C395.83,245.64 395.92,245.35 396.00,245.06 C396.08,244.77 396.17,244.49 396.25,244.20 C396.33,243.92 396.42,243.64 396.50,243.36 C396.58,243.08 396.67,242.80 396.75,242.53 C396.83,242.25 396.92,241.98 397.00,241.71 C397.08,241.44 397.17,241.17 397.25,240.90 C397.33,240.64 397.42,240.37 397.50,240.11 C397.58,239.85 397.67,239.59 397.75,239.33 C397.83,239.07 397.92,238.81 398.00,238.55 C398.08,238.30 398.17,238.05 398.25,237.79 C398.33,237.54 398.42,237.29 398.50,237.04 C398.58,236.80 398.67,236.55 398.75,236.31 C398.83,236.06 398.92,235.82 399.00,235.58 C399.08,235.34 399.17,235.10 399.25,234.86 C399.33,234.62 399.42,234.38 399.50,234.15 C399.58,233.92 399.67,233.68 399.75,233.45 C399.83,233.22 399.92,232.99 400.00,232.76 C400.08,232.53 400.17,232.31 400.25,232.08 C400.33,231.86 400.42,231.63 400.50,231.41 C400.58,231.19 400.67,230.97 400.75,230.75 C400.83,230.53 400.92,230.31 401.00,230.10 C401.08,229.88 401.17,229.66 401.25,229.45 C401.33,229.24 401.42,229.03 401.50,228.81 C401.58,228.60 401.67,228.40 401.75,228.19 C401.83,227.98 401.92,227.77 402.00,227.57 C402.08,227.36 402.17,227.16 402.25,226.96 C402.33,226.75 402.42,226.55 402.50,226.35 C402.58,226.15 402.67,225.96 402.75,225.76 C402.83,225.56 402.92,225.36 403.00,225.17 C403.08,224.97 403.17,224.78 403.25,224.59 C403.33,224.40 403.42,224.21 403.50,224.01 C403.58,223.83 403.67,223.64 403.75,223.45 C403.83,223.26 403.92,223.07 404.00,222.89 C404.08,222.70 404.17,222.52 404.25,222.34 C404.33,222.15 404.42,221.97 404.50,221.79 C404.58,221.61 404.67,221.43 404.75,221.25 C404.83,221.07 404.92,220.90 405.00,220.72 C405.08,220.54 405.17,220.37 405.25,220.19 C405.33,220.02 405.42,219.85 405.50,219.67 C405.58,219.50 405.67,219.33 405.75,219.16 C405.83,218.99 405.92,218.82 406.00,218.65 C406.08,218.48 406.17,218.32 406.25,218.15 C406.33,217.99 406.42,217.82 406.50,217.66 C406.58,217.49 406.67,217.33 406.75,217.17 C406.83,217.00 406.92,216.84 407.00,216.68 C407.08,216.52 407.17,216.36 407.25,216.20 C407.33,216.04 407.42,215.89 407.50,215.73 C407.58,215.57 407.67,215.42 407.75,215.26 C407.83,215.11 407.92,214.95 408.00,214.80 C408.08,214.65 408.17,214.50 408.25,214.34 C408.33,214.19 408.42,214.04 408.50,213.89 C408.58,213.74 408.67,213.59 408.75,213.44 C408.83,213.30 408.92,213.15 409.00,213.00 C409.08,212.86 409.17,212.71 409.25,212.57 C409.33,212.42 409.42,212.28 409.50,212.13 C409.58,211.99 409.67,211.85 409.75,211.71 C409.83,211.57 409.92,211.43 410.00,211.28 C410.08,211.14 410.17,211.01 410.25,210.87 C410.33,210.73 410.42,210.59 410.50,210.45 C410.58,210.32 410.67,210.18 410.75,210.04 C410.83,209.91 410.92,209.77 411.00,209.64 C411.08,209.51 411.17,209.37 411.25,209.24 C411.33,209.11 411.42,208.98 411.50,208.84 C411.58,208.71 411.67,208.58 411.75,208.45 C411.83,208.32 411.92,208.19 412.00,208.07 C412.08,207.94 412.17,207.81 412.25,207.68 C412.33,207.56 412.42,207.43 412.50,207.30 C412.58,207.18 412.67,207.05 412.75,206.93 C412.83,206.80 412.92,206.68 413.00,206.56 C413.08,206.43 413.17,206.31 413.25,206.19 C413.33,206.07 413.42,205.95 413.50,205.83 C413.58,205.71 413.67,205.59 413.75,205.47 C413.83,205.35 413.92,205.23 414.00,205.11 C414.08,204.99 414.17,204.87 414.25,204.76 C414.33,204.64 414.42,204.52 414.50,204.41 C414.58,204.29 414.67,204.18 414.75,204.06 C414.83,203.95 414.92,203.84 415.00,203.72 C415.08,203.61 415.17,203.50 415.25,203.38 C415.33,203.27 415.42,203.16 415.50,203.05 C415.58,202.94 415.67,202.83 415.75,202.72 C415.83,202.61 415.92,202.50 416.00,202.39 C416.08,202.28 416.17,202.17 416.25,202.06 C416.33,201.96 416.42,201.85 416.50,201.74 C416.58,201.64 416.67,201.53 416.75,201.42 C416.83,201.32 416.92,201.21 417.00,201.11 C417.08,201.00 417.17,200.90 417.25,200.80 C417.33,200.69 417.42,200.59 417.50,200.49 C417.58,200.39 417.67,200.28 417.75,200.18 C417.83,200.08 417.92,199.98 418.00,199.88 C418.08,199.78 418.17,199.68 418.25,199.58 C418.33,199.48 418.42,199.38 418.50,199.28 C418.58,199.18 418.67,199.09 418.75,198.99 C418.83,198.89 418.92,198.79 419.00,198.70 C419.08,198.60 419.17,198.50 419.25,198.41 C419.33,198.31 419.42,198.22 419.50,198.12 C419.58,198.03 419.67,197.93 419.75,197.84 C419.83,197.75 419.92,197.65 420.00,197.56 C420.08,197.47 420.17,197.37 420.25,197.28 C420.33,197.19 420.42,197.10 420.50,197.01 C420.58,196.91 420.67,196.82 420.75,196.73 C420.83,196.64 420.92,196.55 421.00,196.46 C421.08,196.37 421.17,196.29 421.25,196.20 C421.33,196.11 421.42,196.02 421.50,195.93 C421.58,195.84 421.67,195.76 421.75,195.67 C421.83,195.58 421.92,195.50 422.00,195.41 C422.08,195.32 422.17,195.24 422.25,195.15 C422.33,195.07 422.42,194.98 422.50,194.90 C422.58,194.81 422.67,194.73 422.75,194.65 C422.83,194.56 422.92,194.48 423.00,194.40 C423.08,194.31 423.17,194.23 423.25,194.15 C423.33,194.07 423.42,193.98 423.50,193.90 C423.58,193.82 423.67,193.74 423.75,193.66 C423.83,193.58 423.92,193.50 424.00,193.42 C424.08,193.34 424.17,193.26 424.25,193.18 C424.33,193.10 424.42,193.02 424.50,192.94 C424.58,192.86 424.67,192.79 424.75,192.71 C424.83,192.63 424.92,192.55 425.00,192.48 C425.08,192.40 425.17,192.32 425.25,192.25 C425.33,192.17 425.42,192.09 425.50,192.02 C425.58,191.94 425.67,191.87 425.75,191.79 C425.83,191.72 425.92,191.64 426.00,191.57 C426.08,191.49 426.17,191.42 426.25,191.34 C426.33,191.27 426.42,191.20 426.50,191.12 C426.58,191.05 426.67,190.98 426.75,190.91 C426.83,190.83 426.92,190.76 427.00,190.69 C427.08,190.62 427.17,190.55 427.25,190.48 C427.33,190.41 427.42,190.34 427.50,190.26 C427.58,190.19 427.67,190.12 427.75,190.05 C427.83,189.98 427.92,189.92 428.00,189.85 C428.08,189.78 428.17,189.71 428.25,189.64 C428.33,189.57 428.42,189.50 428.50,189.43 C428.58,189.37 428.67,189.30 428.75,189.23 C428.83,189.16 428.92,189.10 429.00,189.03 C429.08,188.96 429.17,188.90 429.25,188.83 C429.33,188.77 429.42,188.70 429.50,188.63 C429.58,188.57 429.67,188.50 429.75,188.44 C429.83,188.37 429.92,188.31 430.00,188.24 C430.08,188.18 430.17,188.12 430.25,188.05 C430.33,187.99 430.42,187.92 430.50,187.86 C430.58,187.80 430.67,187.73 430.75,187.67 C430.83,187.61 430.92,187.55 431.00,187.48 C431.08,187.42 431.17,187.36 431.25,187.30 C431.33,187.24 431.42,187.18 431.50,187.11 C431.58,187.05 431.67,186.99 431.75,186.93 C431.83,186.87 431.92,186.81 432.00,186.75 C432.08,186.69 432.17,186.63 432.25,186.57 C432.33,186.51 432.42,186.45 432.50,186.39 C432.58,186.33 432.67,186.28 432.75,186.22 C432.83,186.16 432.92,186.10 433.00,186.04 C433.08,185.98 433.17,185.93 433.25,185.87 C433.33,185.81 433.42,185.75 433.50,185.70 C433.58,185.64 433.67,185.58 433.75,185.53 C433.83,185.47 433.92,185.41 434.00,185.36 C434.08,185.30 434.17,185.25 434.25,185.19 C434.33,185.13 434.42,185.08 434.50,185.02 C434.58,184.97 434.67,184.91 434.75,184.86 C434.83,184.80 434.92,184.75 435.00,184.70 C435.08,184.64 435.17,184.59 435.25,184.53 C435.33,184.48 435.42,184.43 435.50,184.37 C435.58,184.32 435.67,184.27 435.75,184.21 C435.83,184.16 435.92,184.11 436.00,184.06 C436.08,184.00 436.17,183.95 436.25,183.90 C436.33,183.85 436.42,183.80 436.50,183.74 C436.58,183.69 436.67,183.64 436.75,183.59 C436.83,183.54 436.92,183.49 437.00,183.44 C437.08,183.39 437.17,183.34 437.25,183.29 C437.33,183.24 437.42,183.19 437.50,183.14 C437.58,183.09 437.67,183.04 437.75,182.99 C437.83,182.94 437.92,182.89 438.00,182.84 C438.08,182.79 438.17,182.74 438.25,182.69 C438.33,182.64 438.42,182.60 438.50,182.55 C438.58,182.50 438.67,182.45 438.75,182.40 C438.83,182.36 438.92,182.31 439.00,182.26 C439.08,182.21 439.17,182.17 439.25,182.12 C439.33,182.07 439.42,182.03 439.50,181.98 C439.58,181.93 439.63,181.90 439.75,181.84 C440.01,181.70 440.53,181.41 441.00,181.16 C441.59,180.85 442.33,180.46 443.00,180.13 C443.66,179.80 444.33,179.47 445.00,179.16 C445.66,178.85 446.33,178.55 447.00,178.25 C447.66,177.96 448.33,177.68 449.00,177.40 C449.67,177.13 450.33,176.86 451.00,176.60 C451.67,176.34 452.33,176.09 453.00,175.85 C453.67,175.60 454.33,175.37 455.00,175.14 C455.67,174.91 456.33,174.68 457.00,174.47 C457.67,174.25 458.33,174.04 459.00,173.84 C459.67,173.63 460.33,173.44 461.00,173.24 C461.67,173.05 462.33,172.87 463.00,172.68 C463.67,172.50 464.33,172.33 465.00,172.15 C465.67,171.98 466.33,171.81 467.00,171.65 C467.67,171.49 468.33,171.33 469.00,171.18 C469.67,171.02 470.33,170.87 471.00,170.73 C471.67,170.58 472.33,170.44 473.00,170.30 C473.67,170.16 474.33,170.03 475.00,169.90 C475.67,169.77 476.33,169.64 477.00,169.51 C477.67,169.39 478.33,169.27 479.00,169.15 C479.67,169.03 480.33,168.91 481.00,168.80 C481.67,168.69 482.33,168.58 483.00,168.47 C483.67,168.36 484.33,168.26 485.00,168.15 C485.67,168.05 486.33,167.95 487.00,167.85 C487.67,167.75 488.33,167.66 489.00,167.56 C489.67,167.47 490.33,167.38 491.00,167.29 C491.67,167.20 492.33,167.11 493.00,167.02 C493.67,166.94 494.33,166.85 495.00,166.77 C495.67,166.68 496.33,166.60 497.00,166.52 C497.67,166.44 498.33,166.37 499.00,166.29 C499.67,166.21 500.33,166.14 501.00,166.06 C501.67,165.99 502.33,165.92 503.00,165.85 C503.67,165.77 504.33,165.70 505.00,165.64 C505.67,165.57 506.33,165.50 507.00,165.43 C507.67,165.37 508.33,165.30 509.00,165.24 C509.67,165.17 510.33,165.11 511.00,165.04 C511.67,164.98 512.33,164.92 513.00,164.86 C513.67,164.80 514.33,164.74 515.00,164.68 C515.67,164.62 516.33,164.56 517.00,164.50 C517.67,164.44 518.33,164.39 519.00,164.33 C519.67,164.27 520.33,164.22 521.00,164.16 C521.67,164.11 522.33,164.05 523.00,164.00 C523.67,163.94 524.33,163.89 525.00,163.83 C525.67,163.78 526.33,163.73 527.00,163.68 C527.67,163.62 528.33,163.57 529.00,163.52" fill="none" stroke="#000000" stroke-width="3.0" stroke-linecap="round" stroke-linejoin="round" stroke-dasharray="7.6 6.1" clip-path="url(#ca)"/>
<path d="M77.00,142.61 C77.67,142.62 78.33,142.62 79.00,142.63 C79.67,142.63 80.33,142.64 81.00,142.64 C81.67,142.65 82.33,142.65 83.00,142.66 C83.67,142.66 84.33,142.67 85.00,142.67 C85.67,142.67 86.33,142.68 87.00,142.68 C87.67,142.69 88.33,142.69 89.00,142.70 C89.67,142.70 90.33,142.71 91.00,142.71 C91.67,142.72 92.33,142.72 93.00,142.73 C93.67,142.73 94.33,142.74 95.00,142.74 C95.67,142.75 96.33,142.75 97.00,142.76 C97.67,142.77 98.33,142.77 99.00,142.78 C99.67,142.78 100.33,142.79 101.00,142.79 C101.67,142.80 102.33,142.80 103.00,142.81 C103.67,142.81 104.33,142.82 105.00,142.83 C105.67,142.83 106.33,142.84 107.00,142.84 C107.67,142.85 108.33,142.85 109.00,142.86 C109.67,142.87 110.33,142.87 111.00,142.88 C111.67,142.89 112.33,142.89 113.00,142.90 C113.67,142.90 114.33,142.91 115.00,142.92 C115.67,142.92 116.33,142.93 117.00,142.94 C117.67,142.94 118.33,142.95 119.00,142.96 C119.67,142.97 120.33,142.97 121.00,142.98 C121.67,142.99 122.33,143.00 123.00,143.00 C123.67,143.01 124.33,143.02 125.00,143.03 C125.67,143.03 126.33,143.04 127.00,143.05 C127.67,143.06 128.33,143.07 129.00,143.08 C129.67,143.08 130.33,143.09 131.00,143.10 C131.67,143.11 132.33,143.12 133.00,143.13 C133.67,143.14 134.33,143.15 135.00,143.16 C135.67,143.17 136.33,143.18 137.00,143.18 C137.67,143.19 138.33,143.20 139.00,143.22 C139.67,143.23 140.33,143.24 141.00,143.25 C141.67,143.26 142.33,143.27 143.00,143.28 C143.67,143.29 144.33,143.30 145.00,143.31 C145.67,143.32 146.33,143.34 147.00,143.35 C147.67,143.36 148.33,143.37 149.00,143.38 C149.67,143.40 150.33,143.41 151.00,143.42 C151.67,143.44 152.33,143.45 153.00,143.46 C153.67,143.48 154.33,143.49 155.00,143.50 C155.67,143.52 156.33,143.53 157.00,143.55 C157.67,143.56 158.33,143.58 159.00,143.59 C159.67,143.61 160.33,143.62 161.00,143.64 C161.67,143.65 162.33,143.67 163.00,143.69 C163.67,143.70 164.33,143.72 165.00,143.74 C165.67,143.75 166.33,143.77 167.00,143.79 C167.67,143.81 168.33,143.82 169.00,143.84 C169.67,143.86 170.33,143.88 171.00,143.90 C171.67,143.92 172.33,143.94 173.00,143.96 C173.67,143.98 174.33,144.00 175.00,144.02 C175.67,144.04 176.33,144.06 177.00,144.08 C177.67,144.10 178.33,144.12 179.00,144.15 C179.67,144.17 180.33,144.19 181.00,144.21 C181.67,144.24 182.33,144.26 183.00,144.29 C183.67,144.31 184.33,144.33 185.00,144.36 C185.67,144.38 186.33,144.41 187.00,144.43 C187.67,144.46 188.33,144.49 189.00,144.51 C189.67,144.54 190.33,144.57 191.00,144.60 C191.67,144.62 192.33,144.65 193.00,144.68 C193.67,144.71 194.33,144.74 195.00,144.77 C195.67,144.80 196.33,144.83 197.00,144.86 C197.67,144.89 198.33,144.92 199.00,144.96 C199.67,144.99 200.33,145.02 201.00,145.05 C201.67,145.09 202.33,145.12 203.00,145.16 C203.67,145.19 204.33,145.23 205.00,145.26 C205.67,145.30 206.33,145.33 207.00,145.37 C207.67,145.41 208.33,145.45 209.00,145.49 C209.67,145.52 210.33,145.56 211.00,145.60 C211.67,145.64 212.33,145.68 213.00,145.73 C213.67,145.77 214.33,145.81 215.00,145.85 C215.67,145.90 216.33,145.94 217.00,145.98 C217.67,146.03 218.33,146.07 219.00,146.12 C219.67,146.17 220.33,146.21 221.00,146.26 C221.67,146.31 222.33,146.36 223.00,146.41 C223.67,146.46 224.33,146.51 225.00,146.56 C225.67,146.61 226.33,146.66 227.00,146.71 C227.67,146.77 228.33,146.82 229.00,146.88 C229.67,146.93 230.33,146.99 231.00,147.04 C231.67,147.10 232.33,147.16 233.00,147.22 C233.67,147.28 234.33,147.34 235.00,147.40 C235.67,147.46 236.33,147.52 237.00,147.59 C237.67,147.65 238.33,147.71 239.00,147.78 C239.67,147.84 240.33,147.91 241.00,147.98 C241.67,148.05 242.33,148.12 243.00,148.19 C243.67,148.26 244.33,148.33 245.00,148.40 C245.67,148.48 246.33,148.55 247.00,148.62 C247.67,148.70 248.33,148.78 249.00,148.86 C249.67,148.93 250.33,149.01 251.00,149.09 C251.67,149.18 252.33,149.26 253.00,149.34 C253.67,149.43 254.33,149.51 255.00,149.60 C255.67,149.69 256.33,149.77 257.00,149.86 C257.67,149.95 258.33,150.05 259.00,150.14 C259.67,150.23 260.33,150.33 261.00,150.43 C261.67,150.52 262.33,150.62 263.00,150.72 C263.67,150.82 264.33,150.92 265.00,151.03 C265.67,151.13 266.33,151.24 267.00,151.35 C267.67,151.45 268.33,151.56 269.00,151.68 C269.67,151.79 270.33,151.90 271.00,152.02 C271.67,152.13 272.33,152.25 273.00,152.37 C273.67,152.49 274.33,152.61 275.00,152.74 C275.67,152.86 276.33,152.99 277.00,153.12 C277.67,153.25 278.33,153.38 279.00,153.52 C279.67,153.65 280.33,153.79 281.00,153.93 C281.67,154.07 282.33,154.21 283.00,154.35 C283.67,154.50 284.33,154.65 285.00,154.80 C285.67,154.95 286.33,155.10 287.00,155.26 C287.67,155.41 288.33,155.57 289.00,155.73 C289.67,155.90 290.33,156.06 291.00,156.23 C291.67,156.40 292.33,156.57 293.00,156.75 C293.67,156.92 294.33,157.10 295.00,157.28 C295.67,157.47 296.33,157.65 297.00,157.84 C297.67,158.03 298.33,158.22 299.00,158.42 C299.67,158.62 300.33,158.82 301.00,159.02 C301.67,159.23 302.33,159.44 303.00,159.65 C303.67,159.87 304.33,160.08 305.00,160.31 C305.67,160.53 306.33,160.76 307.00,160.99 C307.67,161.22 308.33,161.46 309.00,161.70 C309.67,161.94 310.33,162.19 311.00,162.44 C311.67,162.69 312.33,162.95 313.00,163.21 C313.67,163.47 314.33,163.74 315.00,164.02 C315.67,164.29 316.33,164.57 317.00,164.86 C317.67,165.15 318.33,165.44 319.00,165.74 C319.67,166.04 320.33,166.34 321.00,166.66 C321.67,166.97 322.33,167.29 323.00,167.62 C323.67,167.94 324.33,168.28 325.00,168.62 C325.67,168.96 326.34,169.31 327.00,169.67 C327.67,170.03 328.45,170.46 329.00,170.77 C329.39,170.99 329.78,171.22 330.00,171.35 C330.11,171.41 330.17,171.44 330.25,171.49 C330.33,171.54 330.42,171.59 330.50,171.64 C330.58,171.68 330.67,171.73 330.75,171.78 C330.83,171.83 330.92,171.88 331.00,171.93 C331.08,171.98 331.17,172.03 331.25,172.08 C331.33,172.13 331.42,172.18 331.50,172.23 C331.58,172.28 331.67,172.33 331.75,172.38 C331.83,172.43 331.92,172.48 332.00,172.53 C332.08,172.58 332.17,172.63 332.25,172.68 C332.33,172.73 332.42,172.78 332.50,172.83 C332.58,172.88 332.67,172.94 332.75,172.99 C332.83,173.04 332.92,173.09 333.00,173.14 C333.08,173.19 333.17,173.25 333.25,173.30 C333.33,173.35 333.42,173.40 333.50,173.45 C333.58,173.51 333.67,173.56 333.75,173.61 C333.83,173.67 333.92,173.72 334.00,173.77 C334.08,173.82 334.17,173.88 334.25,173.93 C334.33,173.98 334.42,174.04 334.50,174.09 C334.58,174.15 334.67,174.20 334.75,174.25 C334.83,174.31 334.92,174.36 335.00,174.42 C335.08,174.47 335.17,174.52 335.25,174.58 C335.33,174.63 335.42,174.69 335.50,174.74 C335.58,174.80 335.67,174.85 335.75,174.91 C335.83,174.97 335.92,175.02 336.00,175.08 C336.08,175.13 336.17,175.19 336.25,175.24 C336.33,175.30 336.42,175.36 336.50,175.41 C336.58,175.47 336.67,175.53 336.75,175.58 C336.83,175.64 336.92,175.70 337.00,175.75 C337.08,175.81 337.17,175.87 337.25,175.93 C337.33,175.98 337.42,176.04 337.50,176.10 C337.58,176.16 337.67,176.22 337.75,176.27 C337.83,176.33 337.92,176.39 338.00,176.45 C338.08,176.51 338.17,176.57 338.25,176.63 C338.33,176.69 338.42,176.74 338.50,176.80 C338.58,176.86 338.67,176.92 338.75,176.98 C338.83,177.04 338.92,177.10 339.00,177.16 C339.08,177.22 339.17,177.28 339.25,177.34 C339.33,177.40 339.42,177.47 339.50,177.53 C339.58,177.59 339.67,177.65 339.75,177.71 C339.83,177.77 339.92,177.83 340.00,177.89 C340.08,177.96 340.17,178.02 340.25,178.08 C340.33,178.14 340.42,178.21 340.50,178.27 C340.58,178.33 340.67,178.39 340.75,178.46 C340.83,178.52 340.92,178.58 341.00,178.65 C341.08,178.71 341.17,178.77 341.25,178.84 C341.33,178.90 341.42,178.96 341.50,179.03 C341.58,179.09 341.67,179.16 341.75,179.22 C341.83,179.29 341.92,179.35 342.00,179.42 C342.08,179.48 342.17,179.55 342.25,179.61 C342.33,179.68 342.42,179.75 342.50,179.81 C342.58,179.88 342.67,179.94 342.75,180.01 C342.83,180.08 342.92,180.14 343.00,180.21 C343.08,180.28 343.17,180.34 343.25,180.41 C343.33,180.48 343.42,180.55 343.50,180.61 C343.58,180.68 343.67,180.75 343.75,180.82 C343.83,180.89 343.92,180.96 344.00,181.02 C344.08,181.09 344.17,181.16 344.25,181.23 C344.33,181.30 344.42,181.37 344.50,181.44 C344.58,181.51 344.67,181.58 344.75,181.65 C344.83,181.72 344.92,181.79 345.00,181.86 C345.08,181.93 345.17,182.00 345.25,182.07 C345.33,182.14 345.42,182.22 345.50,182.29 C345.58,182.36 345.67,182.43 345.75,182.50 C345.83,182.58 345.92,182.65 346.00,182.72 C346.08,182.79 346.17,182.87 346.25,182.94 C346.33,183.01 346.42,183.09 346.50,183.16 C346.58,183.23 346.67,183.31 346.75,183.38 C346.83,183.46 346.92,183.53 347.00,183.61 C347.08,183.68 347.17,183.76 347.25,183.83 C347.33,183.91 347.42,183.98 347.50,184.06 C347.58,184.13 347.67,184.21 347.75,184.29 C347.83,184.36 347.92,184.44 348.00,184.52 C348.08,184.59 348.17,184.67 348.25,184.75 C348.33,184.82 348.42,184.90 348.50,184.98 C348.58,185.06 348.67,185.14 348.75,185.22 C348.83,185.29 348.92,185.37 349.00,185.45 C349.08,185.53 349.17,185.61 349.25,185.69 C349.33,185.77 349.42,185.85 349.50,185.93 C349.58,186.01 349.67,186.09 349.75,186.17 C349.83,186.25 349.92,186.34 350.00,186.42 C350.08,186.50 350.17,186.58 350.25,186.66 C350.33,186.74 350.42,186.83 350.50,186.91 C350.58,186.99 350.67,187.08 350.75,187.16 C350.83,187.24 350.92,187.33 351.00,187.41 C351.08,187.49 351.17,187.58 351.25,187.66 C351.33,187.75 351.42,187.83 351.50,187.92 C351.58,188.00 351.67,188.09 351.75,188.17 C351.83,188.26 351.92,188.35 352.00,188.43 C352.08,188.52 352.17,188.61 352.25,188.69 C352.33,188.78 352.42,188.87 352.50,188.96 C352.58,189.05 352.67,189.13 352.75,189.22 C352.83,189.31 352.92,189.40 353.00,189.49 C353.08,189.58 353.17,189.67 353.25,189.76 C353.33,189.85 353.42,189.94 353.50,190.03 C353.58,190.12 353.67,190.21 353.75,190.30 C353.83,190.39 353.92,190.48 354.00,190.58 C354.08,190.67 354.17,190.76 354.25,190.85 C354.33,190.95 354.42,191.04 354.50,191.13 C354.58,191.23 354.67,191.32 354.75,191.42 C354.83,191.51 354.92,191.60 355.00,191.70 C355.08,191.79 355.17,191.89 355.25,191.99 C355.33,192.08 355.42,192.18 355.50,192.27 C355.58,192.37 355.67,192.47 355.75,192.57 C355.83,192.66 355.92,192.76 356.00,192.86 C356.08,192.96 356.17,193.06 356.25,193.15 C356.33,193.25 356.42,193.35 356.50,193.45 C356.58,193.55 356.67,193.65 356.75,193.75 C356.83,193.85 356.92,193.95 357.00,194.06 C357.08,194.16 357.17,194.26 357.25,194.36 C357.33,194.46 357.42,194.57 357.50,194.67 C357.58,194.77 357.67,194.88 357.75,194.98 C357.83,195.08 357.92,195.19 358.00,195.29 C358.08,195.40 358.17,195.50 358.25,195.61 C358.33,195.71 358.42,195.82 358.50,195.93 C358.58,196.03 358.67,196.14 358.75,196.25 C358.83,196.36 358.92,196.46 359.00,196.57 C359.08,196.68 359.17,196.79 359.25,196.90 C359.33,197.01 359.42,197.12 359.50,197.23 C359.58,197.34 359.67,197.45 359.75,197.56 C359.83,197.67 359.92,197.78 360.00,197.90 C360.08,198.01 360.17,198.12 360.25,198.23 C360.33,198.35 360.42,198.46 360.50,198.57 C360.58,198.69 360.67,198.80 360.75,198.92 C360.83,199.03 360.92,199.15 361.00,199.27 C361.08,199.38 361.17,199.50 361.25,199.62 C361.33,199.73 361.42,199.85 361.50,199.97 C361.58,200.09 361.67,200.21 361.75,200.33 C361.83,200.45 361.92,200.57 362.00,200.69 C362.08,200.81 362.17,200.93 362.25,201.05 C362.33,201.17 362.42,201.29 362.50,201.41 C362.58,201.54 362.67,201.66 362.75,201.78 C362.83,201.91 362.92,202.03 363.00,202.16 C363.08,202.28 363.17,202.41 363.25,202.53 C363.33,202.66 363.42,202.79 363.50,202.91 C363.58,203.04 363.67,203.17 363.75,203.30 C363.83,203.43 363.92,203.55 364.00,203.68 C364.08,203.81 364.17,203.94 364.25,204.07 C364.33,204.21 364.42,204.34 364.50,204.47 C364.58,204.60 364.67,204.73 364.75,204.87 C364.83,205.00 364.92,205.14 365.00,205.27 C365.08,205.40 365.17,205.54 365.25,205.68 C365.33,205.81 365.42,205.95 365.50,206.09 C365.58,206.22 365.67,206.36 365.75,206.50 C365.83,206.64 365.92,206.78 366.00,206.92 C366.08,207.06 366.17,207.20 366.25,207.34 C366.33,207.48 366.42,207.62 366.50,207.76 C366.58,207.91 366.67,208.05 366.75,208.20 C366.83,208.34 366.92,208.48 367.00,208.63 C367.08,208.78 367.17,208.92 367.25,209.07 C367.33,209.22 367.42,209.36 367.50,209.51 C367.58,209.66 367.67,209.81 367.75,209.96 C367.83,210.11 367.92,210.26 368.00,210.41 C368.08,210.56 368.17,210.72 368.25,210.87 C368.33,211.02 368.42,211.18 368.50,211.33 C368.58,211.49 368.67,211.64 368.75,211.80 C368.83,211.96 368.92,212.11 369.00,212.27 C369.08,212.43 369.17,212.59 369.25,212.75 C369.33,212.91 369.42,213.07 369.50,213.23 C369.58,213.39 369.67,213.55 369.75,213.71 C369.83,213.88 369.92,214.04 370.00,214.21 C370.08,214.37 370.17,214.54 370.25,214.70 C370.33,214.87 370.42,215.04 370.50,215.21 C370.58,215.38 370.67,215.54 370.75,215.71 C370.83,215.89 370.92,216.06 371.00,216.23 C371.08,216.40 371.17,216.57 371.25,216.75 C371.33,216.92 371.42,217.10 371.50,217.27 C371.58,217.45 371.67,217.63 371.75,217.80 C371.83,217.98 371.92,218.16 372.00,218.34 C372.08,218.52 372.17,218.70 372.25,218.88 C372.33,219.06 372.42,219.25 372.50,219.43 C372.58,219.62 372.67,219.80 372.75,219.99 C372.83,220.17 372.92,220.36 373.00,220.55 C373.08,220.74 373.17,220.93 373.25,221.11 C373.33,221.31 373.42,221.50 373.50,221.69 C373.58,221.88 373.67,222.08 373.75,222.27 C373.83,222.47 373.92,222.66 374.00,222.86 C374.08,223.06 374.17,223.25 374.25,223.45 C374.33,223.65 374.42,223.85 374.50,224.05 C374.58,224.26 374.67,224.46 374.75,224.66 C374.83,224.87 374.92,225.07 375.00,225.28 C375.08,225.48 375.17,225.69 375.25,225.90 C375.33,226.11 375.42,226.32 375.50,226.53 C375.58,226.74 375.67,226.96 375.75,227.17 C375.83,227.38 375.92,227.60 376.00,227.81 C376.08,228.03 376.17,228.25 376.25,228.47 C376.33,228.69 376.42,228.91 376.50,229.13 C376.58,229.35 376.67,229.57 376.75,229.80 C376.83,230.02 376.92,230.25 377.00,230.48 C377.08,230.70 377.17,230.93 377.25,231.16 C377.33,231.39 377.42,231.62 377.50,231.85 C377.58,232.09 377.67,232.32 377.75,232.56 C377.83,232.79 377.92,233.03 378.00,233.27 C378.08,233.51 378.17,233.74 378.25,233.99 C378.33,234.23 378.42,234.47 378.50,234.71 C378.58,234.96 378.67,235.20 378.75,235.45 C378.83,235.70 378.92,235.94 379.00,236.19 C379.08,236.44 379.17,236.70 379.25,236.95 C379.33,237.20 379.42,237.45 379.50,237.71 C379.58,237.97 379.67,238.22 379.75,238.48 C379.83,238.74 379.92,239.00 380.00,239.26 C380.08,239.52 380.17,239.79 380.25,240.05 C380.33,240.31 380.42,240.58 380.50,240.85 C380.58,241.12 380.67,241.38 380.75,241.65 C380.83,241.93 380.92,242.20 381.00,242.47 C381.08,242.74 381.17,243.02 381.25,243.29 C381.33,243.57 381.42,243.85 381.50,244.13 C381.58,244.40 381.67,244.68 381.75,244.97 C381.83,245.25 381.92,245.53 382.00,245.81 C382.08,246.10 382.17,246.38 382.25,246.67 C382.33,246.96 382.42,247.24 382.50,247.53 C382.58,247.82 382.67,248.11 382.75,248.40 C382.83,248.69 382.92,248.99 383.00,249.28 C383.08,249.57 383.17,249.87 383.25,250.16 C383.33,250.46 383.42,250.75 383.50,251.05 C383.58,251.35 383.67,251.64 383.75,251.94 C383.83,252.24 383.92,252.54 384.00,252.84 C384.08,253.14 384.17,253.44 384.25,253.74 C384.33,254.04 384.42,254.34 384.50,254.64 C384.58,254.94 384.67,255.24 384.75,255.54 C384.83,255.84 384.92,256.14 385.00,256.44 C385.08,256.74 385.17,257.03 385.25,257.33 C385.33,257.63 385.42,257.93 385.50,258.22 C385.58,258.52 385.67,258.82 385.75,259.11 C385.83,259.40 385.92,259.70 386.00,259.99 C386.08,260.28 386.17,260.56 386.25,260.85 C386.33,261.14 386.42,261.42 386.50,261.70 C386.58,261.98 386.67,262.26 386.75,262.54 C386.83,262.81 386.92,263.08 387.00,263.35 C387.08,263.61 387.17,263.88 387.25,264.14 C387.33,264.39 387.42,264.65 387.50,264.90 C387.58,265.14 387.67,265.39 387.75,265.63 C387.83,265.86 387.92,266.09 388.00,266.32 C388.08,266.54 388.17,266.75 388.25,266.97 C388.33,267.17 388.41,267.37 388.50,267.56 C388.58,267.75 388.66,267.93 388.75,268.11 C388.83,268.28 388.91,268.44 389.00,268.59 C389.08,268.74 389.16,268.88 389.25,269.01 C389.33,269.13 389.41,269.24 389.50,269.34 C389.58,269.43 389.66,269.52 389.75,269.59 C389.83,269.64 389.91,269.70 390.00,269.72 C390.08,269.73 390.17,269.71 390.25,269.69 C390.34,269.66 390.42,269.61 390.50,269.56 C390.59,269.50 390.67,269.43 390.75,269.35 C390.84,269.27 390.92,269.18 391.00,269.08 C391.09,268.98 391.17,268.87 391.25,268.76 C391.34,268.64 391.42,268.51 391.50,268.38 C391.59,268.25 391.67,268.10 391.75,267.96 C391.83,267.81 391.92,267.65 392.00,267.50 C392.08,267.33 392.17,267.17 392.25,267.00 C392.33,266.82 392.42,266.64 392.50,266.46 C392.58,266.28 392.67,266.09 392.75,265.90 C392.83,265.70 392.92,265.50 393.00,265.31 C393.08,265.10 393.17,264.90 393.25,264.69 C393.33,264.48 393.42,264.27 393.50,264.05 C393.58,263.83 393.67,263.62 393.75,263.40 C393.83,263.17 393.92,262.95 394.00,262.72 C394.08,262.49 394.17,262.26 394.25,262.03 C394.33,261.80 394.42,261.57 394.50,261.33 C394.58,261.10 394.67,260.86 394.75,260.62 C394.83,260.39 394.92,260.15 395.00,259.90 C395.08,259.66 395.17,259.42 395.25,259.18 C395.33,258.93 395.42,258.69 395.50,258.45 C395.58,258.20 395.67,257.96 395.75,257.71 C395.83,257.46 395.92,257.22 396.00,256.97 C396.08,256.72 396.17,256.48 396.25,256.23 C396.33,255.98 396.42,255.73 396.50,255.48 C396.58,255.24 396.67,254.99 396.75,254.74 C396.83,254.49 396.92,254.25 397.00,254.00 C397.08,253.75 397.17,253.50 397.25,253.26 C397.33,253.01 397.42,252.76 397.50,252.52 C397.58,252.27 397.67,252.03 397.75,251.78 C397.83,251.54 397.92,251.29 398.00,251.05 C398.08,250.80 398.17,250.56 398.25,250.32 C398.33,250.07 398.42,249.83 398.50,249.59 C398.58,249.35 398.67,249.11 398.75,248.87 C398.83,248.63 398.92,248.39 399.00,248.15 C399.08,247.91 399.17,247.67 399.25,247.44 C399.33,247.20 399.42,246.96 399.50,246.73 C399.58,246.49 399.67,246.26 399.75,246.03 C399.83,245.79 399.92,245.56 400.00,245.33 C400.08,245.10 400.17,244.87 400.25,244.64 C400.33,244.41 400.42,244.18 400.50,243.96 C400.58,243.73 400.67,243.50 400.75,243.28 C400.83,243.05 400.92,242.83 401.00,242.60 C401.08,242.38 401.17,242.16 401.25,241.94 C401.33,241.72 401.42,241.50 401.50,241.28 C401.58,241.06 401.67,240.84 401.75,240.62 C401.83,240.41 401.92,240.19 402.00,239.98 C402.08,239.76 402.17,239.55 402.25,239.33 C402.33,239.12 402.42,238.91 402.50,238.70 C402.58,238.49 402.67,238.28 402.75,238.07 C402.83,237.86 402.92,237.65 403.00,237.45 C403.08,237.24 403.17,237.04 403.25,236.83 C403.33,236.63 403.42,236.42 403.50,236.22 C403.58,236.02 403.67,235.82 403.75,235.62 C403.83,235.42 403.92,235.22 404.00,235.02 C404.08,234.82 404.17,234.62 404.25,234.43 C404.33,234.23 404.42,234.04 404.50,233.84 C404.58,233.65 404.67,233.46 404.75,233.26 C404.83,233.07 404.92,232.88 405.00,232.69 C405.08,232.50 405.17,232.31 405.25,232.12 C405.33,231.93 405.42,231.75 405.50,231.56 C405.58,231.38 405.67,231.19 405.75,231.01 C405.83,230.82 405.92,230.64 406.00,230.46 C406.08,230.27 406.17,230.09 406.25,229.91 C406.33,229.73 406.42,229.55 406.50,229.37 C406.58,229.19 406.67,229.02 406.75,228.84 C406.83,228.66 406.92,228.49 407.00,228.31 C407.08,228.14 407.17,227.96 407.25,227.79 C407.33,227.62 407.42,227.45 407.50,227.27 C407.58,227.10 407.67,226.93 407.75,226.76 C407.83,226.59 407.92,226.42 408.00,226.26 C408.08,226.09 408.17,225.92 408.25,225.76 C408.33,225.59 408.42,225.42 408.50,225.26 C408.58,225.10 408.67,224.93 408.75,224.77 C408.83,224.61 408.92,224.44 409.00,224.28 C409.08,224.12 409.17,223.96 409.25,223.80 C409.33,223.64 409.42,223.48 409.50,223.33 C409.58,223.17 409.67,223.01 409.75,222.86 C409.83,222.70 409.92,222.54 410.00,222.39 C410.08,222.23 410.17,222.08 410.25,221.93 C410.33,221.77 410.42,221.62 410.50,221.47 C410.58,221.32 410.67,221.17 410.75,221.02 C410.83,220.87 410.92,220.72 411.00,220.57 C411.08,220.42 411.17,220.27 411.25,220.12 C411.33,219.98 411.42,219.83 411.50,219.69 C411.58,219.54 411.67,219.39 411.75,219.25 C411.83,219.11 411.92,218.96 412.00,218.82 C412.08,218.68 412.17,218.53 412.25,218.39 C412.33,218.25 412.42,218.11 412.50,217.97 C412.58,217.83 412.67,217.69 412.75,217.55 C412.83,217.41 412.92,217.27 413.00,217.14 C413.08,217.00 413.17,216.86 413.25,216.73 C413.33,216.59 413.42,216.45 413.50,216.32 C413.58,216.18 413.67,216.05 413.75,215.92 C413.83,215.78 413.92,215.65 414.00,215.52 C414.08,215.38 414.17,215.25 414.25,215.12 C414.33,214.99 414.42,214.86 414.50,214.73 C414.58,214.60 414.67,214.47 414.75,214.34 C414.83,214.21 414.92,214.09 415.00,213.96 C415.08,213.83 415.17,213.70 415.25,213.58 C415.33,213.45 415.42,213.32 415.50,213.20 C415.58,213.07 415.67,212.95 415.75,212.83 C415.83,212.70 415.92,212.58 416.00,212.45 C416.08,212.33 416.17,212.21 416.25,212.09 C416.33,211.97 416.42,211.84 416.50,211.72 C416.58,211.60 416.67,211.48 416.75,211.36 C416.83,211.24 416.92,211.12 417.00,211.01 C417.08,210.89 417.17,210.77 417.25,210.65 C417.33,210.53 417.42,210.42 417.50,210.30 C417.58,210.18 417.67,210.07 417.75,209.95 C417.83,209.84 417.92,209.72 418.00,209.61 C418.08,209.49 418.17,209.38 418.25,209.27 C418.33,209.15 418.42,209.04 418.50,208.93 C418.58,208.81 418.67,208.70 418.75,208.59 C418.83,208.48 418.92,208.37 419.00,208.26 C419.08,208.15 419.17,208.04 419.25,207.93 C419.33,207.82 419.42,207.71 419.50,207.60 C419.58,207.49 419.67,207.38 419.75,207.28 C419.83,207.17 419.92,207.06 420.00,206.95 C420.08,206.85 420.17,206.74 420.25,206.64 C420.33,206.53 420.42,206.42 420.50,206.32 C420.58,206.21 420.67,206.11 420.75,206.01 C420.83,205.90 420.92,205.80 421.00,205.69 C421.08,205.59 421.17,205.49 421.25,205.39 C421.33,205.28 421.42,205.18 421.50,205.08 C421.58,204.98 421.67,204.88 421.75,204.78 C421.83,204.68 421.92,204.58 422.00,204.48 C422.08,204.38 422.17,204.28 422.25,204.18 C422.33,204.08 422.42,203.98 422.50,203.88 C422.58,203.78 422.67,203.69 422.75,203.59 C422.83,203.49 422.92,203.39 423.00,203.30 C423.08,203.20 423.17,203.11 423.25,203.01 C423.33,202.91 423.42,202.82 423.50,202.72 C423.58,202.63 423.67,202.53 423.75,202.44 C423.83,202.34 423.92,202.25 424.00,202.16 C424.08,202.06 424.17,201.97 424.25,201.88 C424.33,201.79 424.42,201.69 424.50,201.60 C424.58,201.51 424.67,201.42 424.75,201.33 C424.83,201.23 424.92,201.14 425.00,201.05 C425.08,200.96 425.17,200.87 425.25,200.78 C425.33,200.69 425.42,200.60 425.50,200.51 C425.58,200.42 425.67,200.34 425.75,200.25 C425.83,200.16 425.92,200.07 426.00,199.98 C426.08,199.90 426.17,199.81 426.25,199.72 C426.33,199.63 426.42,199.55 426.50,199.46 C426.58,199.37 426.67,199.29 426.75,199.20 C426.83,199.12 426.92,199.03 427.00,198.95 C427.08,198.86 427.17,198.78 427.25,198.69 C427.33,198.61 427.42,198.52 427.50,198.44 C427.58,198.36 427.67,198.27 427.75,198.19 C427.83,198.11 427.92,198.02 428.00,197.94 C428.08,197.86 428.17,197.78 428.25,197.70 C428.33,197.61 428.42,197.53 428.50,197.45 C428.58,197.37 428.67,197.29 428.75,197.21 C428.83,197.13 428.92,197.05 429.00,196.97 C429.08,196.89 429.17,196.81 429.25,196.73 C429.33,196.65 429.42,196.57 429.50,196.49 C429.58,196.41 429.67,196.33 429.75,196.25 C429.83,196.18 429.92,196.10 430.00,196.02 C430.08,195.94 430.17,195.87 430.25,195.79 C430.33,195.71 430.42,195.64 430.50,195.56 C430.58,195.48 430.67,195.41 430.75,195.33 C430.83,195.25 430.92,195.18 431.00,195.10 C431.08,195.03 431.17,194.95 431.25,194.88 C431.33,194.80 431.42,194.73 431.50,194.65 C431.58,194.58 431.67,194.51 431.75,194.43 C431.83,194.36 431.92,194.29 432.00,194.21 C432.08,194.14 432.17,194.07 432.25,193.99 C432.33,193.92 432.42,193.85 432.50,193.78 C432.58,193.70 432.67,193.63 432.75,193.56 C432.83,193.49 432.92,193.42 433.00,193.35 C433.08,193.28 433.17,193.21 433.25,193.13 C433.33,193.06 433.42,192.99 433.50,192.92 C433.58,192.85 433.67,192.78 433.75,192.71 C433.83,192.64 433.92,192.58 434.00,192.51 C434.08,192.44 434.17,192.37 434.25,192.30 C434.33,192.23 434.42,192.16 434.50,192.10 C434.58,192.03 434.67,191.96 434.75,191.89 C434.83,191.82 434.92,191.76 435.00,191.69 C435.08,191.62 435.17,191.56 435.25,191.49 C435.33,191.42 435.42,191.36 435.50,191.29 C435.58,191.22 435.67,191.16 435.75,191.09 C435.83,191.03 435.92,190.96 436.00,190.90 C436.08,190.83 436.17,190.77 436.25,190.70 C436.33,190.64 436.42,190.57 436.50,190.51 C436.58,190.44 436.67,190.38 436.75,190.31 C436.83,190.25 436.92,190.19 437.00,190.12 C437.08,190.06 437.17,190.00 437.25,189.93 C437.33,189.87 437.42,189.81 437.50,189.75 C437.58,189.68 437.67,189.62 437.75,189.56 C437.83,189.50 437.92,189.44 438.00,189.37 C438.08,189.31 438.17,189.25 438.25,189.19 C438.33,189.13 438.42,189.07 438.50,189.01 C438.58,188.95 438.67,188.88 438.75,188.82 C438.83,188.76 438.92,188.70 439.00,188.64 C439.08,188.58 439.17,188.52 439.25,188.46 C439.33,188.40 439.42,188.35 439.50,188.29 C439.58,188.23 439.63,188.19 439.75,188.11 C440.01,187.93 440.53,187.56 441.00,187.24 C441.59,186.84 442.33,186.35 443.00,185.92 C443.66,185.49 444.33,185.07 445.00,184.66 C445.66,184.25 446.33,183.85 447.00,183.46 C447.66,183.08 448.33,182.70 449.00,182.33 C449.66,181.97 450.33,181.61 451.00,181.26 C451.66,180.91 452.33,180.57 453.00,180.24 C453.66,179.91 454.33,179.58 455.00,179.27 C455.67,178.95 456.33,178.65 457.00,178.34 C457.67,178.05 458.33,177.75 459.00,177.47 C459.67,177.18 460.33,176.91 461.00,176.64 C461.67,176.37 462.33,176.10 463.00,175.84 C463.67,175.59 464.33,175.34 465.00,175.09 C465.67,174.85 466.33,174.61 467.00,174.38 C467.67,174.14 468.33,173.92 469.00,173.70 C469.67,173.48 470.33,173.26 471.00,173.05 C471.67,172.84 472.33,172.64 473.00,172.44 C473.67,172.24 474.33,172.04 475.00,171.85 C475.67,171.66 476.33,171.48 477.00,171.30 C477.67,171.12 478.33,170.94 479.00,170.77 C479.67,170.60 480.33,170.43 481.00,170.27 C481.67,170.11 482.33,169.95 483.00,169.80 C483.67,169.65 484.33,169.50 485.00,169.35 C485.67,169.21 486.33,169.06 487.00,168.93 C487.67,168.79 488.33,168.66 489.00,168.53 C489.67,168.40 490.33,168.27 491.00,168.15 C491.67,168.02 492.33,167.90 493.00,167.79 C493.67,167.67 494.33,167.56 495.00,167.45 C495.67,167.34 496.33,167.24 497.00,167.13 C497.67,167.03 498.33,166.93 499.00,166.83 C499.67,166.74 500.33,166.64 501.00,166.55 C501.67,166.46 502.33,166.38 503.00,166.29 C503.67,166.21 504.33,166.13 505.00,166.05 C505.67,165.97 506.33,165.89 507.00,165.82 C507.67,165.74 508.33,165.67 509.00,165.61 C509.67,165.54 510.33,165.47 511.00,165.41 C511.67,165.35 512.33,165.29 513.00,165.23 C513.67,165.17 514.33,165.11 515.00,165.06 C515.67,165.01 516.33,164.96 517.00,164.91 C517.67,164.86 518.33,164.81 519.00,164.77 C519.67,164.72 520.33,164.68 521.00,164.64 C521.67,164.60 522.33,164.57 523.00,164.53 C523.67,164.50 524.33,164.46 525.00,164.43 C525.67,164.40 526.33,164.37 527.00,164.34 C527.67,164.32 528.33,164.30 529.00,164.27" fill="none" stroke="#0c0cc4" stroke-width="3.0" stroke-linecap="round" stroke-linejoin="round" stroke-dasharray="7.6 6.1" clip-path="url(#ca)"/>
<path d="M77.00,151.16 C77.67,151.40 78.33,151.63 79.00,151.87 C79.67,152.11 80.33,152.36 81.00,152.60 C81.67,152.85 82.33,153.10 83.00,153.35 C83.67,153.60 84.33,153.85 85.00,154.11 C85.67,154.37 86.33,154.63 87.00,154.89 C87.67,155.16 88.33,155.43 89.00,155.70 C89.67,155.98 90.33,156.25 91.00,156.53 C91.67,156.82 92.33,157.10 93.00,157.39 C93.67,157.69 94.33,157.98 95.00,158.28 C95.67,158.58 96.33,158.89 97.00,159.20 C97.67,159.52 98.33,159.83 99.00,160.16 C99.67,160.48 100.33,160.81 101.00,161.15 C101.67,161.49 102.33,161.83 103.00,162.19 C103.67,162.54 104.33,162.90 105.00,163.26 C105.67,163.63 106.34,164.01 107.00,164.39 C107.67,164.77 108.34,165.17 109.00,165.57 C109.67,165.97 110.34,166.38 111.00,166.80 C111.67,167.22 112.34,167.65 113.00,168.09 C113.67,168.53 114.34,168.98 115.00,169.44 C115.67,169.90 116.34,170.37 117.00,170.86 C117.67,171.34 118.45,171.93 119.00,172.34 C119.39,172.64 119.72,172.90 120.00,173.11 C120.20,173.27 120.33,173.38 120.50,173.51 C120.67,173.64 120.83,173.77 121.00,173.90 C121.17,174.04 121.33,174.17 121.50,174.31 C121.67,174.44 121.83,174.58 122.00,174.71 C122.17,174.85 122.33,174.99 122.50,175.12 C122.67,175.26 122.83,175.40 123.00,175.54 C123.17,175.68 123.33,175.82 123.50,175.96 C123.67,176.10 123.83,176.24 124.00,176.39 C124.17,176.53 124.33,176.67 124.50,176.82 C124.67,176.96 124.83,177.11 125.00,177.25 C125.17,177.40 125.33,177.55 125.50,177.69 C125.67,177.84 125.83,177.99 126.00,178.14 C126.17,178.29 126.33,178.44 126.50,178.59 C126.67,178.74 126.83,178.89 127.00,179.05 C127.17,179.20 127.33,179.35 127.50,179.51 C127.67,179.66 127.83,179.82 128.00,179.97 C128.17,180.13 128.33,180.29 128.50,180.44 C128.67,180.60 128.83,180.76 129.00,180.92 C129.17,181.08 129.33,181.24 129.50,181.40 C129.67,181.56 129.83,181.72 130.00,181.89 C130.17,182.05 130.33,182.21 130.50,182.38 C130.67,182.54 130.83,182.71 131.00,182.87 C131.17,183.04 131.33,183.20 131.50,183.37 C131.67,183.54 131.83,183.71 132.00,183.87 C132.17,184.04 132.33,184.21 132.50,184.38 C132.67,184.55 132.83,184.72 133.00,184.89 C133.17,185.07 133.33,185.24 133.50,185.41 C133.67,185.58 133.83,185.76 134.00,185.93 C134.17,186.11 134.33,186.28 134.50,186.46 C134.67,186.63 134.83,186.81 135.00,186.99 C135.17,187.16 135.33,187.34 135.50,187.52 C135.67,187.70 135.83,187.87 136.00,188.05 C136.17,188.23 136.33,188.41 136.50,188.59 C136.67,188.77 136.83,188.95 137.00,189.13 C137.17,189.31 137.33,189.50 137.50,189.68 C137.67,189.86 137.83,190.04 138.00,190.22 C138.17,190.41 138.33,190.59 138.50,190.77 C138.67,190.95 138.83,191.14 139.00,191.32 C139.17,191.50 139.33,191.69 139.50,191.87 C139.67,192.06 139.83,192.24 140.00,192.42 C140.17,192.61 140.33,192.79 140.50,192.98 C140.67,193.16 140.83,193.35 141.00,193.53 C141.17,193.71 141.33,193.90 141.50,194.08 C141.67,194.27 141.83,194.45 142.00,194.63 C142.17,194.82 142.33,195.00 142.50,195.18 C142.67,195.37 142.83,195.55 143.00,195.73 C143.17,195.91 143.33,196.10 143.50,196.28 C143.67,196.46 143.83,196.64 144.00,196.82 C144.17,197.00 144.33,197.18 144.50,197.36 C144.67,197.54 144.83,197.72 145.00,197.90 C145.17,198.07 145.33,198.25 145.50,198.43 C145.67,198.60 145.83,198.78 146.00,198.95 C146.17,199.12 146.33,199.30 146.50,199.47 C146.67,199.64 146.83,199.81 147.00,199.98 C147.17,200.15 147.33,200.32 147.50,200.48 C147.67,200.65 147.83,200.82 148.00,200.98 C148.17,201.14 148.33,201.30 148.50,201.47 C148.67,201.62 148.83,201.78 149.00,201.94 C149.17,202.10 149.33,202.25 149.50,202.41 C149.67,202.56 149.83,202.71 150.00,202.86 C150.17,203.01 150.33,203.15 150.50,203.30 C150.67,203.44 150.83,203.59 151.00,203.73 C151.17,203.87 151.33,204.01 151.50,204.14 C151.67,204.28 151.83,204.41 152.00,204.54 C152.17,204.67 152.33,204.80 152.50,204.92 C152.67,205.05 152.83,205.17 153.00,205.29 C153.17,205.41 153.33,205.53 153.50,205.64 C153.67,205.76 153.83,205.87 154.00,205.98 C154.17,206.08 154.33,206.19 154.50,206.29 C154.67,206.39 154.83,206.49 155.00,206.59 C155.17,206.68 155.33,206.78 155.50,206.87 C155.67,206.96 155.83,207.04 156.00,207.13 C156.17,207.21 156.33,207.29 156.50,207.37 C156.67,207.44 156.83,207.51 157.00,207.59 C157.17,207.65 157.33,207.72 157.50,207.79 C157.67,207.85 157.83,207.91 158.00,207.97 C158.17,208.02 158.33,208.08 158.50,208.13 C158.67,208.18 158.83,208.22 159.00,208.27 C159.17,208.31 159.33,208.35 159.50,208.39 C159.67,208.42 159.83,208.46 160.00,208.49 C160.17,208.52 160.33,208.55 160.50,208.57 C160.67,208.60 160.83,208.62 161.00,208.64 C161.17,208.66 161.33,208.68 161.50,208.69 C161.67,208.71 161.83,208.72 162.00,208.73 C162.17,208.74 162.33,208.75 162.50,208.75 C162.67,208.76 162.83,208.77 163.00,208.77 C163.17,208.78 163.33,208.78 163.50,208.79 C163.67,208.79 163.83,208.79 164.00,208.79 C164.17,208.79 164.33,208.78 164.50,208.78 C164.67,208.77 164.83,208.77 165.00,208.76 C165.17,208.75 165.33,208.74 165.50,208.73 C165.67,208.71 165.83,208.70 166.00,208.68 C166.17,208.67 166.33,208.65 166.50,208.63 C166.67,208.61 166.83,208.59 167.00,208.56 C167.17,208.54 167.33,208.51 167.50,208.49 C167.67,208.46 167.83,208.43 168.00,208.40 C168.17,208.36 168.33,208.33 168.50,208.29 C168.67,208.26 168.83,208.22 169.00,208.18 C169.17,208.14 169.33,208.10 169.50,208.06 C169.67,208.01 169.83,207.97 170.00,207.92 C170.17,207.87 170.33,207.82 170.50,207.77 C170.67,207.72 170.83,207.67 171.00,207.61 C171.17,207.56 171.33,207.50 171.50,207.44 C171.67,207.38 171.83,207.32 172.00,207.26 C172.17,207.19 172.33,207.13 172.50,207.06 C172.67,207.00 172.83,206.93 173.00,206.86 C173.17,206.79 173.33,206.72 173.50,206.65 C173.67,206.57 173.83,206.50 174.00,206.42 C174.17,206.34 174.33,206.27 174.50,206.19 C174.67,206.11 174.83,206.02 175.00,205.94 C175.17,205.86 175.33,205.77 175.50,205.69 C175.67,205.60 175.83,205.51 176.00,205.43 C176.17,205.34 176.33,205.25 176.50,205.16 C176.67,205.06 176.83,204.97 177.00,204.88 C177.17,204.78 177.33,204.69 177.50,204.59 C177.67,204.49 177.83,204.39 178.00,204.29 C178.17,204.19 178.33,204.09 178.50,203.99 C178.67,203.89 178.83,203.79 179.00,203.68 C179.17,203.58 179.33,203.47 179.50,203.37 C179.67,203.26 179.83,203.15 180.00,203.05 C180.17,202.94 180.33,202.83 180.50,202.72 C180.67,202.61 180.83,202.50 181.00,202.39 C181.17,202.28 181.33,202.16 181.50,202.05 C181.67,201.94 181.83,201.82 182.00,201.71 C182.17,201.59 182.33,201.48 182.50,201.36 C182.67,201.24 182.83,201.13 183.00,201.01 C183.17,200.89 183.33,200.77 183.50,200.65 C183.67,200.54 183.83,200.42 184.00,200.30 C184.17,200.18 184.33,200.06 184.50,199.94 C184.67,199.81 184.83,199.69 185.00,199.57 C185.17,199.45 185.33,199.33 185.50,199.21 C185.67,199.08 185.83,198.96 186.00,198.84 C186.17,198.71 186.33,198.59 186.50,198.47 C186.67,198.34 186.83,198.22 187.00,198.09 C187.17,197.97 187.33,197.85 187.50,197.72 C187.67,197.60 187.83,197.47 188.00,197.35 C188.17,197.22 188.33,197.10 188.50,196.97 C188.67,196.85 188.83,196.72 189.00,196.59 C189.17,196.47 189.33,196.34 189.50,196.22 C189.67,196.09 189.83,195.97 190.00,195.84 C190.17,195.72 190.33,195.59 190.50,195.46 C190.67,195.34 190.83,195.21 191.00,195.09 C191.17,194.96 191.33,194.84 191.50,194.71 C191.67,194.59 191.83,194.46 192.00,194.34 C192.17,194.21 192.33,194.09 192.50,193.96 C192.67,193.84 192.83,193.71 193.00,193.59 C193.17,193.46 193.33,193.34 193.50,193.21 C193.67,193.09 193.83,192.97 194.00,192.84 C194.17,192.72 194.33,192.60 194.50,192.47 C194.67,192.35 194.83,192.23 195.00,192.10 C195.17,191.98 195.33,191.86 195.50,191.74 C195.67,191.61 195.83,191.49 196.00,191.37 C196.17,191.25 196.33,191.13 196.50,191.01 C196.67,190.89 196.83,190.77 197.00,190.65 C197.17,190.53 197.33,190.41 197.50,190.29 C197.67,190.17 197.83,190.05 198.00,189.93 C198.17,189.81 198.33,189.69 198.50,189.57 C198.67,189.45 198.83,189.34 199.00,189.22 C199.17,189.10 199.33,188.99 199.50,188.87 C199.67,188.75 199.83,188.64 200.00,188.52 C200.17,188.40 200.33,188.29 200.50,188.17 C200.67,188.06 200.83,187.95 201.00,187.83 C201.17,187.72 201.33,187.60 201.50,187.49 C201.67,187.38 201.83,187.26 202.00,187.15 C202.17,187.04 202.33,186.93 202.50,186.82 C202.67,186.71 202.83,186.59 203.00,186.48 C203.17,186.37 203.33,186.26 203.50,186.15 C203.67,186.04 203.83,185.94 204.00,185.83 C204.17,185.72 204.33,185.61 204.50,185.50 C204.67,185.39 204.78,185.32 205.00,185.18 C205.44,184.90 206.33,184.34 207.00,183.92 C207.66,183.51 208.33,183.11 209.00,182.71 C209.66,182.32 210.33,181.93 211.00,181.55 C211.66,181.17 212.33,180.80 213.00,180.43 C213.67,180.07 214.33,179.71 215.00,179.36 C215.67,179.01 216.33,178.67 217.00,178.34 C217.67,178.00 218.33,177.68 219.00,177.36 C219.67,177.04 220.33,176.73 221.00,176.42 C221.67,176.11 222.33,175.82 223.00,175.52 C223.67,175.23 224.33,174.95 225.00,174.67 C225.67,174.39 226.33,174.11 227.00,173.85 C227.67,173.58 228.33,173.32 229.00,173.06 C229.67,172.81 230.33,172.56 231.00,172.32 C231.67,172.07 232.33,171.83 233.00,171.60 C233.67,171.37 234.33,171.14 235.00,170.92 C235.67,170.69 236.33,170.48 237.00,170.26 C237.67,170.05 238.33,169.84 239.00,169.64 C239.67,169.44 240.33,169.24 241.00,169.04 C241.67,168.85 242.33,168.66 243.00,168.47 C243.67,168.28 244.33,168.10 245.00,167.92 C245.67,167.74 246.33,167.57 247.00,167.40 C247.67,167.22 248.33,167.06 249.00,166.89 C249.67,166.73 250.33,166.57 251.00,166.41 C251.67,166.25 252.33,166.10 253.00,165.95 C253.67,165.79 254.33,165.65 255.00,165.50 C255.67,165.36 256.33,165.21 257.00,165.07 C257.67,164.93 258.33,164.80 259.00,164.66 C259.67,164.53 260.33,164.40 261.00,164.27 C261.67,164.14 262.33,164.01 263.00,163.89 C263.67,163.76 264.33,163.64 265.00,163.52 C265.67,163.40 266.33,163.28 267.00,163.17 C267.67,163.05 268.33,162.94 269.00,162.83 C269.67,162.71 270.33,162.60 271.00,162.50 C271.67,162.39 272.33,162.28 273.00,162.18 C273.67,162.08 274.33,161.97 275.00,161.87 C275.67,161.77 276.33,161.67 277.00,161.58 C277.67,161.48 278.33,161.38 279.00,161.29 C279.67,161.20 280.33,161.10 281.00,161.01 C281.67,160.92 282.33,160.83 283.00,160.74 C283.67,160.65 284.33,160.57 285.00,160.48 C285.67,160.40 286.33,160.31 287.00,160.23 C287.67,160.15 288.33,160.07 289.00,159.99 C289.67,159.91 290.33,159.83 291.00,159.75 C291.67,159.67 292.33,159.59 293.00,159.52 C293.67,159.44 294.33,159.37 295.00,159.29 C295.67,159.22 296.33,159.15 297.00,159.08 C297.67,159.01 298.33,158.94 299.00,158.87 C299.67,158.80 300.33,158.73 301.00,158.66 C301.67,158.60 302.33,158.53 303.00,158.46 C303.67,158.40 304.33,158.33 305.00,158.27 C305.67,158.21 306.33,158.15 307.00,158.08 C307.67,158.02 308.33,157.96 309.00,157.90 C309.67,157.84 310.33,157.78 311.00,157.72 C311.67,157.67 312.33,157.61 313.00,157.55 C313.67,157.50 314.33,157.44 315.00,157.39 C315.67,157.33 316.33,157.28 317.00,157.22 C317.67,157.17 318.33,157.12 319.00,157.07 C319.67,157.02 320.33,156.97 321.00,156.92 C321.67,156.87 322.33,156.82 323.00,156.77 C323.67,156.72 324.33,156.67 325.00,156.62 C325.67,156.58 326.33,156.53 327.00,156.49 C327.67,156.44 328.33,156.40 329.00,156.35 C329.67,156.31 330.33,156.27 331.00,156.22 C331.67,156.18 332.33,156.14 333.00,156.10 C333.67,156.06 334.33,156.02 335.00,155.98 C335.67,155.94 336.33,155.90 337.00,155.86 C337.67,155.82 337.95,155.79 339.00,155.75 C342.94,155.60 357.03,155.26 367.00,155.10 C378.43,154.92 391.53,154.55 403.80,154.80 C416.10,155.05 428.40,156.37 440.70,156.60 C453.00,156.83 466.22,156.61 477.60,156.20 C487.42,155.84 496.18,155.23 505.00,154.50 C513.27,153.81 521.00,152.83 529.00,152.00" fill="none" stroke="#cf1119" stroke-width="3.0" stroke-linecap="round" stroke-linejoin="round" clip-path="url(#ca)"/>
<path d="M77.00,149.34 C77.67,149.51 78.33,149.67 79.00,149.85 C79.67,150.02 80.33,150.20 81.00,150.38 C81.67,150.56 82.33,150.75 83.00,150.94 C83.67,151.13 84.33,151.32 85.00,151.52 C85.67,151.72 86.33,151.93 87.00,152.13 C87.67,152.34 88.33,152.56 89.00,152.78 C89.67,153.00 90.33,153.23 91.00,153.46 C91.67,153.69 92.33,153.93 93.00,154.17 C93.67,154.42 94.33,154.67 95.00,154.93 C95.67,155.19 96.33,155.46 97.00,155.73 C97.67,156.01 98.33,156.29 99.00,156.58 C99.67,156.88 100.34,157.18 101.00,157.49 C101.67,157.80 102.34,158.12 103.00,158.45 C103.67,158.79 104.34,159.13 105.00,159.48 C105.67,159.84 106.34,160.21 107.00,160.59 C107.67,160.97 108.34,161.36 109.00,161.77 C109.67,162.18 110.34,162.60 111.00,163.04 C111.67,163.48 112.34,163.93 113.00,164.40 C113.67,164.88 114.34,165.37 115.00,165.88 C115.67,166.39 116.34,166.92 117.00,167.47 C117.67,168.03 118.45,168.71 119.00,169.20 C119.39,169.55 119.78,169.91 120.00,170.12 C120.11,170.22 120.17,170.28 120.25,170.35 C120.33,170.43 120.42,170.51 120.50,170.59 C120.58,170.67 120.67,170.75 120.75,170.83 C120.83,170.91 120.92,170.99 121.00,171.08 C121.08,171.16 121.17,171.24 121.25,171.32 C121.33,171.40 121.42,171.49 121.50,171.57 C121.58,171.65 121.67,171.74 121.75,171.82 C121.83,171.91 121.92,171.99 122.00,172.08 C122.08,172.16 122.17,172.25 122.25,172.33 C122.33,172.42 122.42,172.50 122.50,172.59 C122.58,172.68 122.67,172.77 122.75,172.85 C122.83,172.94 122.92,173.03 123.00,173.12 C123.08,173.21 123.17,173.30 123.25,173.39 C123.33,173.48 123.42,173.57 123.50,173.66 C123.58,173.75 123.67,173.84 123.75,173.93 C123.83,174.02 123.92,174.12 124.00,174.21 C124.08,174.30 124.17,174.40 124.25,174.49 C124.33,174.58 124.42,174.68 124.50,174.77 C124.58,174.87 124.67,174.96 124.75,175.06 C124.83,175.16 124.92,175.25 125.00,175.35 C125.08,175.45 125.17,175.55 125.25,175.64 C125.33,175.74 125.42,175.84 125.50,175.94 C125.58,176.04 125.67,176.14 125.75,176.24 C125.83,176.34 125.92,176.44 126.00,176.54 C126.08,176.65 126.17,176.75 126.25,176.85 C126.33,176.95 126.42,177.06 126.50,177.16 C126.58,177.26 126.67,177.37 126.75,177.47 C126.83,177.58 126.92,177.69 127.00,177.79 C127.08,177.90 127.17,178.01 127.25,178.11 C127.33,178.22 127.42,178.33 127.50,178.44 C127.58,178.55 127.67,178.66 127.75,178.77 C127.83,178.88 127.92,178.99 128.00,179.10 C128.08,179.21 128.17,179.33 128.25,179.44 C128.33,179.55 128.42,179.67 128.50,179.78 C128.58,179.89 128.67,180.01 128.75,180.12 C128.83,180.24 128.92,180.36 129.00,180.47 C129.08,180.59 129.17,180.71 129.25,180.83 C129.33,180.95 129.42,181.07 129.50,181.19 C129.58,181.31 129.67,181.43 129.75,181.55 C129.83,181.67 129.92,181.79 130.00,181.92 C130.08,182.04 130.17,182.16 130.25,182.29 C130.33,182.41 130.42,182.54 130.50,182.66 C130.58,182.79 130.67,182.92 130.75,183.04 C130.83,183.17 130.92,183.30 131.00,183.43 C131.08,183.56 131.17,183.69 131.25,183.82 C131.33,183.95 131.42,184.08 131.50,184.21 C131.58,184.35 131.67,184.48 131.75,184.61 C131.83,184.75 131.92,184.88 132.00,185.02 C132.08,185.16 132.17,185.29 132.25,185.43 C132.33,185.57 132.42,185.71 132.50,185.85 C132.58,185.99 132.67,186.13 132.75,186.27 C132.83,186.41 132.92,186.55 133.00,186.70 C133.08,186.84 133.17,186.98 133.25,187.13 C133.33,187.27 133.42,187.42 133.50,187.57 C133.58,187.71 133.67,187.86 133.75,188.01 C133.83,188.16 133.92,188.31 134.00,188.46 C134.08,188.61 134.17,188.76 134.25,188.92 C134.33,189.07 134.42,189.23 134.50,189.38 C134.58,189.54 134.67,189.69 134.75,189.85 C134.83,190.01 134.92,190.16 135.00,190.32 C135.08,190.48 135.17,190.64 135.25,190.81 C135.33,190.97 135.42,191.13 135.50,191.29 C135.58,191.46 135.67,191.62 135.75,191.79 C135.83,191.96 135.92,192.12 136.00,192.29 C136.08,192.46 136.17,192.63 136.25,192.80 C136.33,192.97 136.42,193.14 136.50,193.32 C136.58,193.49 136.67,193.66 136.75,193.84 C136.83,194.02 136.92,194.19 137.00,194.37 C137.08,194.55 137.17,194.73 137.25,194.91 C137.33,195.09 137.42,195.27 137.50,195.46 C137.58,195.64 137.67,195.83 137.75,196.01 C137.83,196.20 137.92,196.39 138.00,196.58 C138.08,196.76 138.17,196.96 138.25,197.15 C138.33,197.34 138.42,197.53 138.50,197.73 C138.58,197.92 138.67,198.12 138.75,198.32 C138.83,198.51 138.92,198.71 139.00,198.91 C139.08,199.11 139.17,199.32 139.25,199.52 C139.33,199.72 139.42,199.93 139.50,200.14 C139.58,200.34 139.67,200.55 139.75,200.76 C139.83,200.97 139.92,201.19 140.00,201.40 C140.08,201.61 140.17,201.83 140.25,202.04 C140.33,202.26 140.42,202.48 140.50,202.70 C140.58,202.92 140.67,203.14 140.75,203.37 C140.83,203.59 140.92,203.82 141.00,204.04 C141.08,204.27 141.17,204.50 141.25,204.73 C141.33,204.97 141.42,205.20 141.50,205.43 C141.58,205.67 141.67,205.91 141.75,206.14 C141.83,206.38 141.92,206.63 142.00,206.87 C142.08,207.11 142.17,207.36 142.25,207.60 C142.33,207.85 142.42,208.10 142.50,208.35 C142.58,208.61 142.67,208.86 142.75,209.11 C142.83,209.37 142.92,209.63 143.00,209.89 C143.08,210.15 143.17,210.41 143.25,210.68 C143.33,210.94 143.42,211.21 143.50,211.48 C143.58,211.75 143.67,212.02 143.75,212.30 C143.83,212.57 143.92,212.85 144.00,213.13 C144.08,213.41 144.17,213.69 144.25,213.98 C144.33,214.26 144.42,214.55 144.50,214.84 C144.58,215.13 144.67,215.42 144.75,215.72 C144.83,216.02 144.92,216.32 145.00,216.62 C145.08,216.92 145.17,217.22 145.25,217.53 C145.33,217.84 145.42,218.15 145.50,218.46 C145.58,218.78 145.67,219.09 145.75,219.41 C145.83,219.73 145.92,220.06 146.00,220.38 C146.08,220.71 146.17,221.04 146.25,221.37 C146.33,221.70 146.42,222.04 146.50,222.38 C146.58,222.72 146.67,223.06 146.75,223.41 C146.83,223.76 146.92,224.11 147.00,224.46 C147.08,224.82 147.17,225.17 147.25,225.53 C147.33,225.90 147.42,226.26 147.50,226.63 C147.58,227.00 147.67,227.38 147.75,227.75 C147.83,228.13 147.92,228.52 148.00,228.90 C148.08,229.29 148.17,229.68 148.25,230.07 C148.33,230.47 148.42,230.87 148.50,231.27 C148.58,231.68 148.67,232.09 148.75,232.50 C148.83,232.92 148.92,233.34 149.00,233.76 C149.08,234.19 149.17,234.62 149.25,235.05 C149.33,235.48 149.42,235.92 149.50,236.37 C149.58,236.81 149.67,237.27 149.75,237.72 C149.83,238.18 149.92,238.64 150.00,239.11 C150.08,239.58 150.17,240.05 150.25,240.53 C150.33,241.01 150.42,241.50 150.50,241.99 C150.58,242.48 150.67,242.98 150.75,243.48 C150.83,243.99 150.92,244.51 151.00,245.02 C151.08,245.55 151.17,246.07 151.25,246.60 C151.33,247.14 151.42,247.68 151.50,248.23 C151.58,248.78 151.67,249.34 151.75,249.90 C151.83,250.47 151.92,251.04 152.00,251.62 C152.08,252.21 152.17,252.80 152.25,253.39 C152.33,253.99 152.42,254.60 152.50,255.21 C152.58,255.83 152.67,256.46 152.75,257.09 C152.83,257.73 152.92,258.37 153.00,259.02 C153.08,259.68 153.17,260.34 153.25,261.01 C153.33,261.69 153.42,262.38 153.50,263.07 C153.58,263.77 153.67,264.47 153.75,265.18 C153.83,265.90 153.92,266.63 154.00,267.36 C154.08,268.11 154.17,268.86 154.25,269.61 C154.33,270.38 154.42,271.15 154.50,271.93 C154.58,272.72 154.67,273.51 154.75,274.31 C154.83,275.12 154.92,275.94 155.00,276.76 C155.08,277.59 155.17,278.43 155.25,279.27 C155.33,280.12 155.42,280.98 155.50,281.84 C155.58,282.72 155.67,283.59 155.75,284.47 C155.83,285.36 155.92,286.25 156.00,287.14 C156.08,288.03 156.17,288.93 156.25,289.83 C156.33,290.73 156.42,291.63 156.50,292.53 C156.58,293.42 156.67,294.32 156.75,295.20 C156.83,296.08 156.92,296.95 157.00,297.81 C157.08,298.66 157.17,299.50 157.25,300.32 C157.33,301.11 157.41,301.89 157.50,302.65 C157.58,303.37 157.66,304.08 157.75,304.75 C157.83,305.37 157.91,305.98 158.00,306.55 C158.08,307.04 158.16,307.53 158.25,307.96 C158.33,308.31 158.40,308.66 158.50,308.92 C158.57,309.11 158.64,309.32 158.75,309.38 C158.82,309.42 158.92,309.41 159.00,309.37 C159.09,309.33 159.17,309.19 159.25,309.07 C159.35,308.92 159.42,308.71 159.50,308.51 C159.59,308.26 159.67,307.98 159.75,307.69 C159.84,307.36 159.92,307.01 160.00,306.64 C160.09,306.25 160.17,305.83 160.25,305.40 C160.34,304.94 160.42,304.46 160.50,303.98 C160.59,303.47 160.67,302.94 160.75,302.41 C160.83,301.86 160.92,301.29 161.00,300.73 C161.08,300.14 161.17,299.55 161.25,298.95 C161.33,298.34 161.42,297.72 161.50,297.10 C161.58,296.48 161.67,295.84 161.75,295.21 C161.83,294.57 161.92,293.93 162.00,293.28 C162.08,292.64 162.17,291.99 162.25,291.34 C162.33,290.69 162.42,290.04 162.50,289.40 C162.58,288.75 162.67,288.10 162.75,287.45 C162.83,286.81 162.92,286.17 163.00,285.53 C163.08,284.89 163.17,284.25 163.25,283.62 C163.33,282.99 163.42,282.36 163.50,281.73 C163.58,281.11 163.67,280.50 163.75,279.88 C163.83,279.27 163.92,278.66 164.00,278.05 C164.08,277.45 164.17,276.86 164.25,276.26 C164.33,275.67 164.42,275.09 164.50,274.51 C164.58,273.93 164.67,273.35 164.75,272.78 C164.83,272.22 164.92,271.66 165.00,271.10 C165.08,270.54 165.17,269.99 165.25,269.45 C165.33,268.90 165.42,268.36 165.50,267.83 C165.58,267.30 165.67,266.77 165.75,266.25 C165.83,265.73 165.92,265.21 166.00,264.70 C166.08,264.19 166.17,263.69 166.25,263.19 C166.33,262.69 166.42,262.20 166.50,261.71 C166.58,261.22 166.67,260.74 166.75,260.26 C166.83,259.79 166.92,259.31 167.00,258.84 C167.08,258.38 167.17,257.92 167.25,257.46 C167.33,257.01 167.42,256.55 167.50,256.10 C167.58,255.66 167.67,255.22 167.75,254.78 C167.83,254.34 167.92,253.91 168.00,253.48 C168.08,253.05 168.17,252.63 168.25,252.21 C168.33,251.79 168.42,251.38 168.50,250.96 C168.58,250.56 168.67,250.15 168.75,249.75 C168.83,249.35 168.92,248.95 169.00,248.55 C169.08,248.16 169.17,247.77 169.25,247.38 C169.33,247.00 169.42,246.62 169.50,246.24 C169.58,245.86 169.67,245.48 169.75,245.11 C169.83,244.74 169.92,244.38 170.00,244.01 C170.08,243.65 170.17,243.29 170.25,242.93 C170.33,242.57 170.42,242.22 170.50,241.87 C170.58,241.52 170.67,241.18 170.75,240.83 C170.83,240.49 170.92,240.15 171.00,239.81 C171.08,239.47 171.17,239.14 171.25,238.81 C171.33,238.48 171.42,238.15 171.50,237.83 C171.58,237.50 171.67,237.18 171.75,236.86 C171.83,236.54 171.92,236.23 172.00,235.91 C172.08,235.60 172.17,235.29 172.25,234.98 C172.33,234.67 172.42,234.37 172.50,234.07 C172.58,233.76 172.67,233.47 172.75,233.17 C172.83,232.87 172.92,232.58 173.00,232.28 C173.08,231.99 173.17,231.70 173.25,231.41 C173.33,231.13 173.42,230.84 173.50,230.56 C173.58,230.28 173.67,230.00 173.75,229.72 C173.83,229.44 173.92,229.17 174.00,228.89 C174.08,228.62 174.17,228.35 174.25,228.08 C174.33,227.81 174.42,227.54 174.50,227.28 C174.58,227.02 174.67,226.75 174.75,226.49 C174.83,226.23 174.92,225.97 175.00,225.72 C175.08,225.46 175.17,225.21 175.25,224.95 C175.33,224.70 175.42,224.45 175.50,224.20 C175.58,223.96 175.67,223.71 175.75,223.46 C175.83,223.22 175.92,222.98 176.00,222.73 C176.08,222.49 176.17,222.26 176.25,222.02 C176.33,221.78 176.42,221.54 176.50,221.31 C176.58,221.08 176.67,220.84 176.75,220.61 C176.83,220.38 176.92,220.16 177.00,219.93 C177.08,219.70 177.17,219.48 177.25,219.25 C177.33,219.03 177.42,218.81 177.50,218.58 C177.58,218.36 177.67,218.14 177.75,217.93 C177.83,217.71 177.92,217.49 178.00,217.28 C178.08,217.06 178.17,216.85 178.25,216.64 C178.33,216.43 178.42,216.22 178.50,216.01 C178.58,215.80 178.67,215.59 178.75,215.39 C178.83,215.18 178.92,214.98 179.00,214.77 C179.08,214.57 179.17,214.37 179.25,214.17 C179.33,213.97 179.42,213.77 179.50,213.57 C179.58,213.38 179.67,213.18 179.75,212.98 C179.83,212.79 179.92,212.60 180.00,212.40 C180.08,212.21 180.17,212.02 180.25,211.83 C180.33,211.64 180.42,211.45 180.50,211.26 C180.58,211.08 180.67,210.89 180.75,210.71 C180.83,210.52 180.92,210.34 181.00,210.16 C181.08,209.97 181.17,209.79 181.25,209.61 C181.33,209.43 181.42,209.25 181.50,209.07 C181.58,208.90 181.67,208.72 181.75,208.54 C181.83,208.37 181.92,208.19 182.00,208.02 C182.08,207.85 182.17,207.67 182.25,207.50 C182.33,207.33 182.42,207.16 182.50,206.99 C182.58,206.82 182.67,206.65 182.75,206.49 C182.83,206.32 182.92,206.15 183.00,205.99 C183.08,205.82 183.17,205.66 183.25,205.49 C183.33,205.33 183.42,205.17 183.50,205.01 C183.58,204.85 183.67,204.69 183.75,204.53 C183.83,204.37 183.92,204.21 184.00,204.05 C184.08,203.89 184.17,203.74 184.25,203.58 C184.33,203.43 184.42,203.27 184.50,203.12 C184.58,202.96 184.67,202.81 184.75,202.66 C184.83,202.51 184.92,202.36 185.00,202.20 C185.08,202.05 185.17,201.91 185.25,201.76 C185.33,201.61 185.42,201.46 185.50,201.31 C185.58,201.17 185.67,201.02 185.75,200.88 C185.83,200.73 185.92,200.59 186.00,200.44 C186.08,200.30 186.17,200.16 186.25,200.01 C186.33,199.87 186.42,199.73 186.50,199.59 C186.58,199.45 186.67,199.31 186.75,199.17 C186.83,199.03 186.92,198.90 187.00,198.76 C187.08,198.62 187.17,198.48 187.25,198.35 C187.33,198.21 187.42,198.08 187.50,197.94 C187.58,197.81 187.67,197.68 187.75,197.54 C187.83,197.41 187.92,197.28 188.00,197.15 C188.08,197.02 188.17,196.89 188.25,196.76 C188.33,196.63 188.42,196.50 188.50,196.37 C188.58,196.24 188.67,196.11 188.75,195.98 C188.83,195.86 188.92,195.73 189.00,195.61 C189.08,195.48 189.17,195.35 189.25,195.23 C189.33,195.11 189.42,194.98 189.50,194.86 C189.58,194.74 189.67,194.61 189.75,194.49 C189.83,194.37 189.92,194.25 190.00,194.13 C190.08,194.01 190.17,193.89 190.25,193.77 C190.33,193.65 190.42,193.53 190.50,193.41 C190.58,193.29 190.67,193.18 190.75,193.06 C190.83,192.94 190.92,192.83 191.00,192.71 C191.08,192.60 191.17,192.48 191.25,192.37 C191.33,192.25 191.42,192.14 191.50,192.02 C191.58,191.91 191.67,191.80 191.75,191.69 C191.83,191.57 191.92,191.46 192.00,191.35 C192.08,191.24 192.17,191.13 192.25,191.02 C192.33,190.91 192.42,190.80 192.50,190.69 C192.58,190.58 192.67,190.48 192.75,190.37 C192.83,190.26 192.92,190.15 193.00,190.05 C193.08,189.94 193.17,189.83 193.25,189.73 C193.33,189.62 193.42,189.52 193.50,189.41 C193.58,189.31 193.67,189.21 193.75,189.10 C193.83,189.00 193.92,188.90 194.00,188.79 C194.08,188.69 194.17,188.59 194.25,188.49 C194.33,188.39 194.42,188.29 194.50,188.18 C194.58,188.08 194.67,187.98 194.75,187.88 C194.83,187.79 194.92,187.69 195.00,187.59 C195.08,187.49 195.17,187.39 195.25,187.29 C195.33,187.20 195.42,187.10 195.50,187.00 C195.58,186.91 195.67,186.81 195.75,186.71 C195.83,186.62 195.92,186.52 196.00,186.43 C196.08,186.33 196.17,186.24 196.25,186.15 C196.33,186.05 196.42,185.96 196.50,185.87 C196.58,185.77 196.67,185.68 196.75,185.59 C196.83,185.50 196.92,185.40 197.00,185.31 C197.08,185.22 197.17,185.13 197.25,185.04 C197.33,184.95 197.42,184.86 197.50,184.77 C197.58,184.68 197.67,184.59 197.75,184.50 C197.83,184.42 197.92,184.33 198.00,184.24 C198.08,184.15 198.17,184.06 198.25,183.98 C198.33,183.89 198.42,183.80 198.50,183.72 C198.58,183.63 198.67,183.55 198.75,183.46 C198.83,183.37 198.92,183.29 199.00,183.20 C199.08,183.12 199.17,183.04 199.25,182.95 C199.33,182.87 199.42,182.78 199.50,182.70 C199.58,182.62 199.63,182.57 199.75,182.45 C200.01,182.20 200.53,181.69 201.00,181.25 C201.59,180.70 202.33,180.02 203.00,179.43 C203.66,178.84 204.33,178.28 205.00,177.73 C205.66,177.19 206.33,176.66 207.00,176.15 C207.66,175.64 208.33,175.15 209.00,174.67 C209.66,174.19 210.33,173.73 211.00,173.29 C211.66,172.84 212.33,172.41 213.00,171.99 C213.66,171.57 214.33,171.17 215.00,170.78 C215.66,170.39 216.33,170.01 217.00,169.64 C217.66,169.27 218.33,168.92 219.00,168.57 C219.66,168.23 220.33,167.89 221.00,167.57 C221.66,167.24 222.33,166.93 223.00,166.62 C223.66,166.31 224.33,166.02 225.00,165.73 C225.67,165.44 226.33,165.16 227.00,164.89 C227.67,164.62 228.33,164.36 229.00,164.10 C229.67,163.84 230.33,163.60 231.00,163.35 C231.67,163.11 232.33,162.88 233.00,162.65 C233.67,162.42 234.33,162.20 235.00,161.98 C235.67,161.77 236.33,161.56 237.00,161.35 C237.67,161.15 238.33,160.95 239.00,160.76 C239.67,160.56 240.33,160.37 241.00,160.19 C241.67,160.01 242.33,159.83 243.00,159.66 C243.67,159.48 244.33,159.31 245.00,159.15 C245.67,158.98 246.33,158.82 247.00,158.67 C247.67,158.51 248.33,158.36 249.00,158.21 C249.67,158.06 250.33,157.92 251.00,157.78 C251.67,157.64 252.33,157.50 253.00,157.37 C253.67,157.23 254.33,157.10 255.00,156.98 C255.67,156.85 256.33,156.73 257.00,156.60 C257.67,156.48 258.33,156.37 259.00,156.25 C259.67,156.14 260.33,156.02 261.00,155.92 C261.67,155.81 262.33,155.70 263.00,155.60 C263.67,155.49 264.33,155.39 265.00,155.29 C265.67,155.19 266.33,155.10 267.00,155.00 C267.67,154.91 268.33,154.82 269.00,154.73 C269.67,154.64 270.33,154.55 271.00,154.47 C271.67,154.38 272.33,154.30 273.00,154.22 C273.67,154.14 274.33,154.06 275.00,153.98 C275.67,153.90 276.33,153.83 277.00,153.76 C277.67,153.68 278.33,153.61 279.00,153.54 C279.67,153.47 280.33,153.41 281.00,153.34 C281.67,153.27 282.33,153.21 283.00,153.15 C283.67,153.08 284.33,153.02 285.00,152.96 C285.67,152.90 286.33,152.84 287.00,152.79 C287.67,152.73 288.33,152.68 289.00,152.62 C289.67,152.57 290.33,152.52 291.00,152.47 C291.67,152.42 292.33,152.37 293.00,152.32 C293.67,152.27 294.33,152.22 295.00,152.18 C295.67,152.13 296.33,152.09 297.00,152.05 C297.67,152.00 298.33,151.96 299.00,151.92 C299.67,151.88 300.33,151.84 301.00,151.81 C301.67,151.77 302.33,151.73 303.00,151.70 C303.67,151.66 304.33,151.63 305.00,151.59 C305.67,151.56 306.33,151.53 307.00,151.50 C307.67,151.47 308.33,151.44 309.00,151.41 C309.67,151.38 310.33,151.36 311.00,151.33 C311.67,151.30 312.33,151.28 313.00,151.25 C313.67,151.23 314.33,151.21 315.00,151.19 C315.67,151.16 316.33,151.14 317.00,151.12 C317.67,151.10 318.33,151.09 319.00,151.07 C319.67,151.05 320.33,151.03 321.00,151.02 C321.67,151.00 322.33,150.99 323.00,150.98 C323.67,150.96 324.33,150.95 325.00,150.94 C325.67,150.93 326.33,150.92 327.00,150.91 C327.67,150.90 328.33,150.89 329.00,150.88 C329.67,150.88 330.33,150.87 331.00,150.86 C331.67,150.86 332.33,150.86 333.00,150.85 C333.67,150.85 334.33,150.85 335.00,150.85 C335.67,150.85 336.33,150.85 337.00,150.85 C337.67,150.85 338.09,150.82 339.00,150.85 C340.92,150.94 344.44,151.49 348.00,151.60 C353.16,151.76 359.64,150.87 367.00,151.20 C377.27,151.66 392.41,153.95 403.80,155.30 C413.69,156.48 423.91,157.84 431.50,158.80 C436.80,159.47 440.45,160.10 445.00,160.50 C449.62,160.91 454.43,161.38 459.00,161.20 C463.42,161.02 467.54,160.23 472.00,159.50 C476.79,158.72 481.61,157.55 486.80,156.60 C492.55,155.55 498.51,154.53 505.00,153.50 C512.44,152.32 521.00,151.17 529.00,150.00" fill="none" stroke="#000000" stroke-width="3.0" stroke-linecap="round" stroke-linejoin="round" clip-path="url(#ca)"/>
<path d="M77.00,148.91 C77.67,149.09 78.33,149.26 79.00,149.44 C79.67,149.61 80.33,149.79 81.00,149.98 C81.67,150.16 82.33,150.34 83.00,150.53 C83.67,150.72 84.33,150.91 85.00,151.11 C85.67,151.30 86.33,151.50 87.00,151.70 C87.67,151.91 88.33,152.11 89.00,152.32 C89.67,152.54 90.33,152.75 91.00,152.97 C91.67,153.19 92.33,153.42 93.00,153.65 C93.67,153.88 94.33,154.11 95.00,154.35 C95.67,154.60 96.33,154.84 97.00,155.10 C97.67,155.35 98.33,155.61 99.00,155.88 C99.67,156.15 100.33,156.43 101.00,156.71 C101.67,156.99 102.34,157.29 103.00,157.59 C103.67,157.89 104.34,158.20 105.00,158.52 C105.67,158.84 106.34,159.17 107.00,159.51 C107.67,159.85 108.34,160.21 109.00,160.57 C109.67,160.94 110.34,161.32 111.00,161.71 C111.67,162.10 112.34,162.51 113.00,162.93 C113.67,163.35 114.34,163.79 115.00,164.25 C115.67,164.70 116.34,165.18 117.00,165.67 C117.67,166.16 118.45,166.77 119.00,167.21 C119.39,167.52 119.78,167.84 120.00,168.03 C120.11,168.12 120.17,168.17 120.25,168.24 C120.33,168.31 120.42,168.38 120.50,168.45 C120.58,168.52 120.67,168.59 120.75,168.66 C120.83,168.73 120.92,168.81 121.00,168.88 C121.08,168.95 121.17,169.03 121.25,169.10 C121.33,169.17 121.42,169.25 121.50,169.32 C121.58,169.39 121.67,169.47 121.75,169.54 C121.83,169.62 121.92,169.70 122.00,169.77 C122.08,169.85 122.17,169.92 122.25,170.00 C122.33,170.08 122.42,170.15 122.50,170.23 C122.58,170.31 122.67,170.39 122.75,170.46 C122.83,170.54 122.92,170.62 123.00,170.70 C123.08,170.78 123.17,170.86 123.25,170.94 C123.33,171.02 123.42,171.10 123.50,171.18 C123.58,171.26 123.67,171.34 123.75,171.43 C123.83,171.51 123.92,171.59 124.00,171.67 C124.08,171.76 124.17,171.84 124.25,171.92 C124.33,172.01 124.42,172.09 124.50,172.18 C124.58,172.26 124.67,172.35 124.75,172.43 C124.83,172.52 124.92,172.60 125.00,172.69 C125.08,172.78 125.17,172.86 125.25,172.95 C125.33,173.04 125.42,173.13 125.50,173.22 C125.58,173.31 125.67,173.39 125.75,173.48 C125.83,173.57 125.92,173.66 126.00,173.76 C126.08,173.85 126.17,173.94 126.25,174.03 C126.33,174.12 126.42,174.21 126.50,174.31 C126.58,174.40 126.67,174.49 126.75,174.59 C126.83,174.68 126.92,174.77 127.00,174.87 C127.08,174.96 127.17,175.06 127.25,175.16 C127.33,175.25 127.42,175.35 127.50,175.45 C127.58,175.54 127.67,175.64 127.75,175.74 C127.83,175.84 127.92,175.94 128.00,176.04 C128.08,176.14 128.17,176.24 128.25,176.34 C128.33,176.44 128.42,176.54 128.50,176.64 C128.58,176.74 128.67,176.85 128.75,176.95 C128.83,177.05 128.92,177.16 129.00,177.26 C129.08,177.37 129.17,177.47 129.25,177.58 C129.33,177.68 129.42,177.79 129.50,177.90 C129.58,178.00 129.67,178.11 129.75,178.22 C129.83,178.33 129.92,178.44 130.00,178.55 C130.08,178.66 130.17,178.77 130.25,178.88 C130.33,178.99 130.42,179.10 130.50,179.21 C130.58,179.33 130.67,179.44 130.75,179.55 C130.83,179.67 130.92,179.78 131.00,179.90 C131.08,180.01 131.17,180.13 131.25,180.25 C131.33,180.36 131.42,180.48 131.50,180.60 C131.58,180.72 131.67,180.84 131.75,180.96 C131.83,181.08 131.92,181.20 132.00,181.32 C132.08,181.44 132.17,181.56 132.25,181.68 C132.33,181.81 132.42,181.93 132.50,182.05 C132.58,182.18 132.67,182.30 132.75,182.43 C132.83,182.56 132.92,182.68 133.00,182.81 C133.08,182.94 133.17,183.07 133.25,183.19 C133.33,183.32 133.42,183.45 133.50,183.59 C133.58,183.72 133.67,183.85 133.75,183.98 C133.83,184.11 133.92,184.25 134.00,184.38 C134.08,184.52 134.17,184.65 134.25,184.79 C134.33,184.92 134.42,185.06 134.50,185.20 C134.58,185.34 134.67,185.48 134.75,185.62 C134.83,185.76 134.92,185.90 135.00,186.04 C135.08,186.18 135.17,186.32 135.25,186.47 C135.33,186.61 135.42,186.75 135.50,186.90 C135.58,187.05 135.67,187.19 135.75,187.34 C135.83,187.49 135.92,187.64 136.00,187.78 C136.08,187.93 136.17,188.08 136.25,188.24 C136.33,188.39 136.42,188.54 136.50,188.69 C136.58,188.85 136.67,189.00 136.75,189.16 C136.83,189.31 136.92,189.47 137.00,189.63 C137.08,189.79 137.17,189.95 137.25,190.11 C137.33,190.27 137.42,190.43 137.50,190.59 C137.58,190.75 137.67,190.92 137.75,191.08 C137.83,191.25 137.92,191.41 138.00,191.58 C138.08,191.75 138.17,191.91 138.25,192.08 C138.33,192.25 138.42,192.42 138.50,192.59 C138.58,192.77 138.67,192.94 138.75,193.11 C138.83,193.29 138.92,193.46 139.00,193.64 C139.08,193.82 139.17,194.00 139.25,194.18 C139.33,194.36 139.42,194.54 139.50,194.72 C139.58,194.90 139.67,195.08 139.75,195.27 C139.83,195.45 139.92,195.64 140.00,195.83 C140.08,196.01 140.17,196.20 140.25,196.39 C140.33,196.58 140.42,196.78 140.50,196.97 C140.58,197.16 140.67,197.36 140.75,197.55 C140.83,197.75 140.92,197.95 141.00,198.15 C141.08,198.35 141.17,198.55 141.25,198.75 C141.33,198.95 141.42,199.15 141.50,199.36 C141.58,199.56 141.67,199.77 141.75,199.98 C141.83,200.19 141.92,200.40 142.00,200.61 C142.08,200.82 142.17,201.03 142.25,201.25 C142.33,201.46 142.42,201.68 142.50,201.90 C142.58,202.12 142.67,202.34 142.75,202.56 C142.83,202.78 142.92,203.01 143.00,203.23 C143.08,203.46 143.17,203.68 143.25,203.91 C143.33,204.14 143.42,204.37 143.50,204.61 C143.58,204.84 143.67,205.07 143.75,205.31 C143.83,205.55 143.92,205.79 144.00,206.03 C144.08,206.27 144.17,206.51 144.25,206.76 C144.33,207.00 144.42,207.25 144.50,207.50 C144.58,207.75 144.67,208.00 144.75,208.25 C144.83,208.50 144.92,208.76 145.00,209.01 C145.08,209.27 145.17,209.53 145.25,209.79 C145.33,210.06 145.42,210.32 145.50,210.59 C145.58,210.85 145.67,211.12 145.75,211.39 C145.83,211.67 145.92,211.94 146.00,212.21 C146.08,212.49 146.17,212.77 146.25,213.05 C146.33,213.33 146.42,213.62 146.50,213.90 C146.58,214.19 146.67,214.48 146.75,214.77 C146.83,215.06 146.92,215.35 147.00,215.65 C147.08,215.95 147.17,216.25 147.25,216.55 C147.33,216.85 147.42,217.16 147.50,217.47 C147.58,217.78 147.67,218.09 147.75,218.40 C147.83,218.72 147.92,219.03 148.00,219.35 C148.08,219.67 148.17,220.00 148.25,220.32 C148.33,220.65 148.42,220.98 148.50,221.31 C148.58,221.65 148.67,221.98 148.75,222.32 C148.83,222.66 148.92,223.01 149.00,223.35 C149.08,223.70 149.17,224.05 149.25,224.40 C149.33,224.76 149.42,225.12 149.50,225.48 C149.58,225.84 149.67,226.21 149.75,226.58 C149.83,226.95 149.92,227.32 150.00,227.70 C150.08,228.08 150.17,228.46 150.25,228.84 C150.33,229.23 150.42,229.62 150.50,230.01 C150.58,230.41 150.67,230.81 150.75,231.21 C150.83,231.62 150.92,232.02 151.00,232.43 C151.08,232.85 151.17,233.27 151.25,233.69 C151.33,234.11 151.42,234.54 151.50,234.97 C151.58,235.41 151.67,235.85 151.75,236.29 C151.83,236.73 151.92,237.18 152.00,237.63 C152.08,238.09 152.17,238.55 152.25,239.01 C152.33,239.48 152.42,239.96 152.50,240.43 C152.58,240.91 152.67,241.40 152.75,241.88 C152.83,242.38 152.92,242.88 153.00,243.38 C153.08,243.89 153.17,244.40 153.25,244.91 C153.33,245.43 153.42,245.96 153.50,246.49 C153.58,247.02 153.67,247.56 153.75,248.11 C153.83,248.66 153.92,249.22 154.00,249.78 C154.08,250.35 154.17,250.92 154.25,251.50 C154.33,252.08 154.42,252.67 154.50,253.27 C154.58,253.87 154.67,254.48 154.75,255.10 C154.83,255.72 154.93,256.07 155.00,256.98 C155.18,259.37 154.93,264.77 155.20,270.00 C155.60,277.95 156.95,290.89 157.80,300.00 C158.51,307.63 159.28,313.76 159.90,321.00 C160.56,328.73 161.13,338.72 161.60,345.00 C161.91,349.05 162.14,352.02 162.40,355.00 C162.61,357.40 162.80,361.50 163.00,361.50 C163.20,361.50 163.37,357.40 163.60,355.00 C163.89,352.02 164.29,349.06 164.60,345.00 C165.08,338.73 165.40,328.73 165.90,321.00 C166.37,313.76 166.93,307.62 167.50,300.00 C168.18,290.89 168.81,276.17 169.70,270.00 C170.10,267.21 170.75,265.38 171.00,263.98 C171.13,263.24 171.17,262.83 171.25,262.27 C171.33,261.71 171.42,261.15 171.50,260.60 C171.58,260.05 171.67,259.51 171.75,258.98 C171.83,258.45 171.92,257.92 172.00,257.40 C172.08,256.89 172.17,256.37 172.25,255.87 C172.33,255.36 172.42,254.87 172.50,254.37 C172.58,253.88 172.67,253.40 172.75,252.91 C172.83,252.44 172.92,251.96 173.00,251.49 C173.08,251.03 173.17,250.57 173.25,250.11 C173.33,249.66 173.42,249.21 173.50,248.76 C173.58,248.31 173.67,247.87 173.75,247.44 C173.83,247.01 173.92,246.58 174.00,246.15 C174.08,245.73 174.17,245.31 174.25,244.89 C174.33,244.48 174.42,244.06 174.50,243.66 C174.58,243.25 174.67,242.85 174.75,242.45 C174.83,242.06 174.92,241.66 175.00,241.27 C175.08,240.89 175.17,240.50 175.25,240.12 C175.33,239.74 175.42,239.36 175.50,238.99 C175.58,238.62 175.67,238.25 175.75,237.88 C175.83,237.52 175.92,237.16 176.00,236.80 C176.08,236.44 176.17,236.09 176.25,235.74 C176.33,235.39 176.42,235.04 176.50,234.69 C176.58,234.35 176.67,234.01 176.75,233.67 C176.83,233.34 176.92,233.00 177.00,232.67 C177.08,232.34 177.17,232.01 177.25,231.69 C177.33,231.37 177.42,231.04 177.50,230.72 C177.58,230.41 177.67,230.09 177.75,229.78 C177.83,229.47 177.92,229.16 178.00,228.85 C178.08,228.54 178.17,228.24 178.25,227.94 C178.33,227.63 178.42,227.34 178.50,227.04 C178.58,226.74 178.67,226.45 178.75,226.16 C178.83,225.87 178.92,225.58 179.00,225.29 C179.08,225.01 179.17,224.72 179.25,224.44 C179.33,224.16 179.42,223.88 179.50,223.60 C179.58,223.33 179.67,223.05 179.75,222.78 C179.83,222.51 179.92,222.24 180.00,221.97 C180.08,221.71 180.17,221.44 180.25,221.18 C180.33,220.91 180.42,220.65 180.50,220.39 C180.58,220.14 180.67,219.88 180.75,219.62 C180.83,219.37 180.92,219.12 181.00,218.87 C181.08,218.62 181.17,218.37 181.25,218.12 C181.33,217.87 181.42,217.63 181.50,217.39 C181.58,217.14 181.67,216.90 181.75,216.66 C181.83,216.42 181.92,216.19 182.00,215.95 C182.08,215.72 182.17,215.48 182.25,215.25 C182.33,215.02 182.42,214.79 182.50,214.56 C182.58,214.33 182.67,214.11 182.75,213.88 C182.83,213.66 182.92,213.43 183.00,213.21 C183.08,212.99 183.17,212.77 183.25,212.55 C183.33,212.33 183.42,212.12 183.50,211.90 C183.58,211.68 183.67,211.47 183.75,211.26 C183.83,211.05 183.92,210.84 184.00,210.63 C184.08,210.42 184.17,210.21 184.25,210.00 C184.33,209.80 184.42,209.59 184.50,209.39 C184.58,209.19 184.67,208.99 184.75,208.78 C184.83,208.58 184.92,208.39 185.00,208.19 C185.08,207.99 185.17,207.79 185.25,207.60 C185.33,207.41 185.42,207.21 185.50,207.02 C185.58,206.83 185.67,206.64 185.75,206.45 C185.83,206.26 185.92,206.07 186.00,205.88 C186.08,205.70 186.17,205.51 186.25,205.33 C186.33,205.14 186.42,204.96 186.50,204.78 C186.58,204.59 186.67,204.41 186.75,204.23 C186.83,204.05 186.92,203.88 187.00,203.70 C187.08,203.52 187.17,203.35 187.25,203.17 C187.33,203.00 187.42,202.82 187.50,202.65 C187.58,202.48 187.67,202.31 187.75,202.14 C187.83,201.97 187.92,201.80 188.00,201.63 C188.08,201.46 188.17,201.29 188.25,201.13 C188.33,200.96 188.42,200.80 188.50,200.63 C188.58,200.47 188.67,200.31 188.75,200.15 C188.83,199.98 188.92,199.82 189.00,199.66 C189.08,199.50 189.17,199.35 189.25,199.19 C189.33,199.03 189.42,198.87 189.50,198.72 C189.58,198.56 189.67,198.41 189.75,198.25 C189.83,198.10 189.92,197.95 190.00,197.80 C190.08,197.64 190.17,197.49 190.25,197.34 C190.33,197.19 190.42,197.05 190.50,196.90 C190.58,196.75 190.67,196.60 190.75,196.46 C190.83,196.31 190.92,196.16 191.00,196.02 C191.08,195.88 191.17,195.73 191.25,195.59 C191.33,195.45 191.42,195.31 191.50,195.16 C191.58,195.02 191.67,194.88 191.75,194.74 C191.83,194.61 191.92,194.47 192.00,194.33 C192.08,194.19 192.17,194.06 192.25,193.92 C192.33,193.78 192.42,193.65 192.50,193.51 C192.58,193.38 192.67,193.25 192.75,193.11 C192.83,192.98 192.92,192.85 193.00,192.72 C193.08,192.59 193.17,192.46 193.25,192.33 C193.33,192.20 193.42,192.07 193.50,191.94 C193.58,191.81 193.67,191.69 193.75,191.56 C193.83,191.43 193.92,191.31 194.00,191.18 C194.08,191.06 194.17,190.93 194.25,190.81 C194.33,190.69 194.42,190.56 194.50,190.44 C194.58,190.32 194.67,190.20 194.75,190.08 C194.83,189.96 194.92,189.84 195.00,189.72 C195.08,189.60 195.17,189.48 195.25,189.36 C195.33,189.24 195.42,189.12 195.50,189.01 C195.58,188.89 195.67,188.78 195.75,188.66 C195.83,188.54 195.92,188.43 196.00,188.32 C196.08,188.20 196.17,188.09 196.25,187.98 C196.33,187.86 196.42,187.75 196.50,187.64 C196.58,187.53 196.67,187.42 196.75,187.31 C196.83,187.20 196.92,187.09 197.00,186.98 C197.08,186.87 197.17,186.76 197.25,186.65 C197.33,186.55 197.42,186.44 197.50,186.33 C197.58,186.23 197.67,186.12 197.75,186.01 C197.83,185.91 197.92,185.80 198.00,185.70 C198.08,185.60 198.17,185.49 198.25,185.39 C198.33,185.29 198.42,185.18 198.50,185.08 C198.58,184.98 198.67,184.88 198.75,184.78 C198.83,184.68 198.92,184.58 199.00,184.48 C199.08,184.38 199.17,184.28 199.25,184.18 C199.33,184.08 199.42,183.98 199.50,183.89 C199.58,183.79 199.67,183.69 199.75,183.59 C199.83,183.50 199.92,183.40 200.00,183.31 C200.08,183.21 200.17,183.12 200.25,183.02 C200.33,182.93 200.42,182.83 200.50,182.74 C200.58,182.65 200.67,182.55 200.75,182.46 C200.83,182.37 200.92,182.28 201.00,182.19 C201.08,182.09 201.17,182.00 201.25,181.91 C201.33,181.82 201.42,181.73 201.50,181.64 C201.58,181.55 201.67,181.47 201.75,181.38 C201.83,181.29 201.92,181.20 202.00,181.11 C202.08,181.02 202.17,180.94 202.25,180.85 C202.33,180.76 202.42,180.68 202.50,180.59 C202.58,180.51 202.67,180.42 202.75,180.34 C202.83,180.25 202.92,180.17 203.00,180.08 C203.08,180.00 203.17,179.92 203.25,179.83 C203.33,179.75 203.42,179.67 203.50,179.59 C203.58,179.50 203.67,179.42 203.75,179.34 C203.83,179.26 203.92,179.18 204.00,179.10 C204.08,179.02 204.17,178.94 204.25,178.86 C204.33,178.78 204.42,178.70 204.50,178.62 C204.58,178.54 204.67,178.46 204.75,178.38 C204.83,178.31 204.88,178.26 205.00,178.15 C205.35,177.83 206.33,176.95 207.00,176.37 C207.66,175.81 208.33,175.26 209.00,174.73 C209.66,174.21 210.33,173.70 211.00,173.21 C211.66,172.73 212.33,172.26 213.00,171.81 C213.66,171.36 214.33,170.93 215.00,170.51 C215.66,170.10 216.33,169.70 217.00,169.31 C217.66,168.92 218.33,168.55 219.00,168.19 C219.66,167.83 220.33,167.48 221.00,167.15 C221.66,166.81 222.33,166.49 223.00,166.18 C223.66,165.87 224.33,165.56 225.00,165.27 C225.66,164.98 226.33,164.70 227.00,164.43 C227.67,164.16 228.33,163.90 229.00,163.64 C229.67,163.39 230.33,163.14 231.00,162.90 C231.67,162.66 232.33,162.43 233.00,162.21 C233.67,161.99 234.33,161.77 235.00,161.56 C235.67,161.35 236.33,161.15 237.00,160.95 C237.67,160.76 238.33,160.57 239.00,160.38 C239.67,160.19 240.33,160.02 241.00,159.84 C241.67,159.67 242.33,159.50 243.00,159.33 C243.67,159.17 244.33,159.01 245.00,158.85 C245.67,158.70 246.33,158.55 247.00,158.40 C247.67,158.25 248.33,158.11 249.00,157.97 C249.67,157.83 250.33,157.70 251.00,157.57 C251.67,157.44 252.33,157.31 253.00,157.19 C253.67,157.06 254.33,156.94 255.00,156.82 C255.67,156.70 256.33,156.59 257.00,156.48 C257.67,156.37 258.33,156.26 259.00,156.15 C259.67,156.04 260.33,155.94 261.00,155.84 C261.67,155.74 262.33,155.64 263.00,155.54 C263.67,155.45 264.33,155.35 265.00,155.26 C265.67,155.17 266.33,155.08 267.00,154.99 C267.67,154.91 268.33,154.82 269.00,154.74 C269.67,154.66 270.33,154.58 271.00,154.50 C271.67,154.42 272.33,154.34 273.00,154.26 C273.67,154.19 274.33,154.12 275.00,154.04 C275.67,153.97 276.33,153.90 277.00,153.83 C277.67,153.76 278.33,153.70 279.00,153.63 C279.67,153.57 280.33,153.50 281.00,153.44 C281.67,153.38 282.33,153.32 283.00,153.26 C283.67,153.20 284.33,153.14 285.00,153.08 C285.67,153.03 286.33,152.97 287.00,152.92 C287.67,152.86 288.33,152.81 289.00,152.76 C289.67,152.71 290.33,152.66 291.00,152.61 C291.67,152.56 292.33,152.51 293.00,152.46 C293.67,152.42 294.33,152.37 295.00,152.33 C295.67,152.28 296.33,152.24 297.00,152.20 C297.67,152.16 298.33,152.12 299.00,152.08 C299.67,152.04 300.33,152.00 301.00,151.96 C301.67,151.92 302.33,151.89 303.00,151.85 C303.67,151.81 304.33,151.78 305.00,151.75 C305.67,151.71 306.33,151.68 307.00,151.65 C307.67,151.62 308.33,151.59 309.00,151.56 C309.67,151.53 310.33,151.50 311.00,151.47 C311.67,151.45 312.33,151.42 313.00,151.40 C313.67,151.37 314.33,151.35 315.00,151.32 C315.67,151.30 316.33,151.28 317.00,151.26 C317.67,151.23 318.33,151.21 319.00,151.20 C319.67,151.18 320.33,151.16 321.00,151.14 C321.67,151.12 322.33,151.11 323.00,151.09 C323.67,151.08 324.33,151.06 325.00,151.05 C325.67,151.04 326.33,151.02 327.00,151.01 C327.67,151.00 328.33,150.99 329.00,150.98 C329.67,150.97 330.33,150.97 331.00,150.96 C331.67,150.95 332.33,150.95 333.00,150.94 C333.67,150.94 334.33,150.93 335.00,150.93 C335.67,150.93 336.33,150.92 337.00,150.92 C337.67,150.92 338.10,150.87 339.00,150.93 C340.92,151.05 344.44,151.93 348.00,152.10 C353.16,152.34 360.75,151.32 367.00,151.40 C373.08,151.47 378.95,151.80 385.00,152.50 C391.22,153.22 397.97,154.77 403.80,155.70 C408.86,156.50 413.32,157.14 418.00,157.80 C422.55,158.44 427.00,158.93 431.50,159.60 C436.00,160.27 440.45,161.23 445.00,161.80 C449.61,162.37 454.42,162.98 459.00,163.00 C463.41,163.02 467.54,162.56 472.00,162.00 C476.79,161.40 481.62,160.41 486.80,159.40 C492.56,158.28 498.51,156.80 505.00,155.50 C512.44,154.01 521.00,152.50 529.00,151.00" fill="none" stroke="#0c0cc4" stroke-width="3.0" stroke-linecap="round" stroke-linejoin="round" clip-path="url(#ca)"/>
<text x="62.5" y="148.7" font-size="20.4" text-anchor="end" font-family="'Liberation Sans', sans-serif" >0</text>
<text x="62.5" y="212.2" font-size="20.4" text-anchor="end" font-family="'Liberation Sans', sans-serif" >-10</text>
<text x="62.5" y="275.7" font-size="20.4" text-anchor="end" font-family="'Liberation Sans', sans-serif" >-20</text>
<text x="62.5" y="339.2" font-size="20.4" text-anchor="end" font-family="'Liberation Sans', sans-serif" >-30</text>
<text x="62.5" y="402.7" font-size="20.4" text-anchor="end" font-family="'Liberation Sans', sans-serif" >-40</text>
<text x="62.5" y="466.2" font-size="20.4" text-anchor="end" font-family="'Liberation Sans', sans-serif" >-50</text>
<text x="77.0" y="491.3" font-size="20.4" text-anchor="middle" font-family="'Liberation Sans', sans-serif" >0.2</text>
<text x="167.4" y="491.3" font-size="20.4" text-anchor="middle" font-family="'Liberation Sans', sans-serif" >0.4</text>
<text x="257.8" y="491.3" font-size="20.4" text-anchor="middle" font-family="'Liberation Sans', sans-serif" >0.6</text>
<text x="348.2" y="491.3" font-size="20.4" text-anchor="middle" font-family="'Liberation Sans', sans-serif" >0.8</text>
<text x="438.6" y="491.3" font-size="20.4" text-anchor="middle" font-family="'Liberation Sans', sans-serif" >1.0</text>
<text x="529.0" y="491.3" font-size="20.4" text-anchor="middle" font-family="'Liberation Sans', sans-serif" >1.2</text>
<text x="305" y="526.2" font-size="20.3" text-anchor="middle" font-family="'Liberation Sans', sans-serif" >Frquency (GHz)</text>
<text x="0" y="0" font-size="20.3" text-anchor="middle" font-family="'Liberation Sans', sans-serif" transform="translate(17.7,299.3) rotate(-90)">S-Parameters (dB)</text>
<text x="271" y="578" font-size="34" text-anchor="middle" font-family="'Liberation Serif', serif">(a)</text>
<line x1="2.6" y1="52.5" x2="85.8" y2="52.5" stroke="#000000" stroke-width="3.8" stroke-linecap="round"/>
<line x1="2.6" y1="83.8" x2="82.5" y2="83.8" stroke="#000000" stroke-width="3.8" stroke-linecap="round" stroke-dasharray="9.4 8.0"/>
<line x1="2.6" y1="114.5" x2="80.5" y2="114.5" stroke="#000000" stroke-width="3.8" stroke-linecap="round" stroke-dasharray="12.9 7.5 0.01 7.5"/>
<line x1="271" y1="52.5" x2="354.5" y2="52.5" stroke="#cf1119" stroke-width="3.8" stroke-linecap="round"/>
<line x1="271" y1="83.8" x2="350.5" y2="83.8" stroke="#cf1119" stroke-width="3.8" stroke-linecap="round" stroke-dasharray="9.4 8.0"/>
<line x1="271" y1="114.5" x2="348.5" y2="114.5" stroke="#cf1119" stroke-width="3.8" stroke-linecap="round" stroke-dasharray="12.9 7.5 0.01 7.5"/>
<text x="106.5" y="58.9" font-size="22.5" font-family="'Liberation Sans', sans-serif"><tspan font-size="23.8">S</tspan><tspan dx="-0.6" dy="4.3" font-size="22.6">11</tspan><tspan dy="-4.3" dx="7.0">(Stomach)</tspan></text>
<text x="374.5" y="58.9" font-size="22.5" font-family="'Liberation Sans', sans-serif"><tspan font-size="23.8">S</tspan><tspan dx="-0.6" dy="4.3" font-size="22.6">11</tspan><tspan dy="-4.3" dx="7.0">(Small Intestine)</tspan></text>
<text x="106.5" y="90.2" font-size="22.5" font-family="'Liberation Sans', sans-serif"><tspan font-size="23.8">S</tspan><tspan dx="-0.6" dy="4.3" font-size="22.6">22</tspan><tspan dy="-4.3" dx="7.0">(Stomach)</tspan></text>
<text x="374.5" y="90.2" font-size="22.5" font-family="'Liberation Sans', sans-serif"><tspan font-size="23.8">S</tspan><tspan dx="-0.6" dy="4.3" font-size="22.6">22</tspan><tspan dy="-4.3" dx="7.0">(Small Intestine)</tspan></text>
<text x="106.5" y="120.9" font-size="22.5" font-family="'Liberation Sans', sans-serif"><tspan font-size="23.8">S</tspan><tspan dx="-0.6" dy="4.3" font-size="22.6">21</tspan><tspan dy="-4.3" dx="7.0">(Stomach)</tspan></text>
<text x="374.5" y="120.9" font-size="22.5" font-family="'Liberation Sans', sans-serif"><tspan font-size="23.8">S</tspan><tspan dx="-0.6" dy="4.3" font-size="22.6">21</tspan><tspan dy="-4.3" dx="7.0">(Small Intestine)</tspan></text>
<line x1="220.5" y1="358" x2="304.5" y2="358" stroke="#0c0cc4" stroke-width="3.8" stroke-linecap="round"/>
<line x1="220.5" y1="389.9" x2="300.5" y2="389.9" stroke="#0c0cc4" stroke-width="3.8" stroke-linecap="round" stroke-dasharray="9.4 8.0"/>
<line x1="220.5" y1="421" x2="298" y2="421" stroke="#0c0cc4" stroke-width="3.8" stroke-linecap="round" stroke-dasharray="12.9 7.5 0.01 7.5"/>
<text x="324.5" y="364.4" font-size="22.5" font-family="'Liberation Sans', sans-serif"><tspan font-size="23.8">S</tspan><tspan dx="-0.6" dy="4.3" font-size="22.6">11</tspan><tspan dy="-4.3" dx="7.0">(Colon)</tspan></text>
<text x="324.5" y="396.29999999999995" font-size="22.5" font-family="'Liberation Sans', sans-serif"><tspan font-size="23.8">S</tspan><tspan dx="-0.6" dy="4.3" font-size="22.6">22</tspan><tspan dy="-4.3" dx="7.0">(Colon)</tspan></text>
<text x="324.5" y="427.4" font-size="22.5" font-family="'Liberation Sans', sans-serif"><tspan font-size="23.8">S</tspan><tspan dx="-0.6" dy="4.3" font-size="22.6">21</tspan><tspan dy="-4.3" dx="7.0">(Colon)</tspan></text>
<g stroke="#2a2a2a" stroke-width="1.6" fill="none">
<rect x="614.5" y="141.5" width="454.20000000000005" height="318.8"/>
<line x1="609.5" y1="460.30" x2="614.5" y2="460.30"/>
<line x1="609.5" y1="396.54" x2="614.5" y2="396.54"/>
<line x1="609.5" y1="332.78" x2="614.5" y2="332.78"/>
<line x1="609.5" y1="269.02" x2="614.5" y2="269.02"/>
<line x1="609.5" y1="205.26" x2="614.5" y2="205.26"/>
<line x1="609.5" y1="141.50" x2="614.5" y2="141.50"/>
<line x1="614.50" y1="460.3" x2="614.50" y2="464.8"/>
<line x1="705.34" y1="460.3" x2="705.34" y2="464.8"/>
<line x1="796.18" y1="460.3" x2="796.18" y2="464.8"/>
<line x1="887.02" y1="460.3" x2="887.02" y2="464.8"/>
<line x1="977.86" y1="460.3" x2="977.86" y2="464.8"/>
<line x1="1068.70" y1="460.3" x2="1068.70" y2="464.8"/>
</g>
<line x1="614.5" y1="364" x2="1068.7" y2="364" stroke="#000" stroke-width="2"/>
<path d="M887.20,418.40 C887.73,419.27 888.15,420.50 888.80,421.00 C889.30,421.38 889.99,421.72 890.50,421.50 C891.31,421.15 891.78,419.00 892.50,417.50 C893.41,415.60 894.39,413.04 895.50,411.00 C896.56,409.05 897.76,406.91 899.00,405.50 C899.96,404.41 900.98,403.42 902.00,403.00 C902.82,402.67 903.61,402.69 904.50,402.80 C905.58,402.94 906.86,403.48 908.00,404.00 C909.19,404.54 910.36,405.30 911.50,406.00 C912.63,406.70 913.75,407.22 914.80,408.20 C916.10,409.42 917.34,411.27 918.50,413.00 C919.75,414.85 920.73,416.82 922.00,419.00 C923.52,421.61 925.23,424.78 927.00,427.60 C928.79,430.45 931.13,432.98 932.70,436.00 C934.31,439.10 935.16,443.06 936.50,446.00 C937.61,448.44 938.62,450.92 940.00,452.50 C941.07,453.72 942.42,454.94 943.60,455.10 C944.58,455.23 945.66,454.79 946.50,454.00 C947.78,452.80 948.48,450.22 949.50,447.50 C951.11,443.23 952.64,435.83 954.50,430.60 C956.17,425.91 958.21,421.96 960.00,417.50 C961.85,412.90 963.68,408.22 965.40,403.40 C967.18,398.40 968.80,393.49 970.50,388.00 C972.43,381.79 974.56,374.31 976.30,368.00 C977.85,362.38 979.10,357.14 980.50,352.00 C981.80,347.20 983.11,343.18 984.40,338.10 C985.94,332.03 987.40,324.68 989.00,318.00 C990.60,311.32 992.45,305.25 994.00,298.00 C995.82,289.48 997.44,280.06 999.00,270.00 C1000.81,258.32 1002.32,244.58 1004.00,232.00 C1005.66,219.58 1007.43,206.69 1009.00,195.00 C1010.41,184.48 1011.77,174.74 1013.00,165.00 C1014.16,155.77 1015.13,147.00 1016.20,138.00 M1056.60,138.00 C1057.23,145.33 1057.87,152.43 1058.50,160.00 C1059.17,168.07 1059.83,177.13 1060.50,185.00 C1061.10,192.04 1061.70,198.92 1062.30,205.00 C1062.80,210.11 1063.25,213.94 1063.80,219.10 C1064.46,225.38 1065.17,233.01 1066.00,240.00 C1066.84,247.05 1067.87,254.13 1068.80,261.20" fill="none" stroke="#cf1119" stroke-width="3.0" stroke-linecap="round" stroke-linejoin="round" stroke-dasharray="7.0 6.6" clip-path="url(#cb)"/>
<path d="M886.80,272.60 C887.97,278.40 888.58,284.07 890.30,290.00 C892.19,296.51 895.44,303.35 898.00,310.00 C900.54,316.62 903.22,323.32 905.60,329.80 C907.87,335.98 909.74,341.93 912.00,348.00 C914.30,354.16 916.90,361.11 919.30,366.50 C921.22,370.83 923.12,374.41 925.00,378.00 C926.69,381.23 928.29,383.78 930.00,387.10 C932.01,391.00 934.12,396.15 936.20,400.00 C937.96,403.26 939.56,406.28 941.50,408.80 C943.20,411.02 944.98,413.08 947.00,414.50 C948.84,415.80 951.11,417.27 953.00,417.20 C954.76,417.14 956.42,415.74 958.00,414.50 C959.85,413.06 961.69,411.26 963.20,408.80 C965.20,405.53 966.34,400.39 968.00,396.00 C969.76,391.34 971.64,386.32 973.50,381.60 C975.31,376.99 977.18,372.54 979.00,368.00 C980.82,363.47 982.59,359.00 984.40,354.40 C986.26,349.67 988.21,344.91 990.00,340.00 C991.85,334.95 993.61,329.59 995.30,324.50 C996.93,319.59 998.52,314.38 1000.00,310.00 C1001.23,306.35 1002.32,304.09 1003.50,300.00 C1005.30,293.76 1007.06,283.90 1009.00,276.00 C1010.90,268.24 1012.81,260.35 1015.00,253.00 C1017.06,246.09 1019.39,239.24 1021.70,233.10 C1023.74,227.68 1025.77,223.32 1028.00,218.00 C1030.50,212.03 1033.32,205.34 1036.00,199.00 C1038.69,192.64 1041.73,186.21 1044.10,179.90 C1046.36,173.88 1048.22,167.37 1050.00,162.00 C1051.46,157.60 1052.85,154.02 1054.00,150.00 C1055.14,146.02 1055.93,142.00 1056.90,138.00" fill="none" stroke="#0c0cc4" stroke-width="3.0" stroke-linecap="round" stroke-linejoin="round" stroke-dasharray="7.0 6.6" clip-path="url(#cb)"/>
<path d="M886.80,188.40 C888.20,195.60 889.64,202.76 891.00,210.00 C892.37,217.30 893.64,224.36 895.00,232.00 C896.47,240.30 898.01,249.25 899.50,258.00 C901.01,266.91 902.56,276.17 904.00,285.00 C905.39,293.49 906.59,302.14 908.00,310.00 C909.27,317.05 910.59,322.47 912.00,330.00 C913.81,339.70 916.06,352.89 917.80,363.40 C919.35,372.76 920.69,381.36 922.00,390.00 C923.25,398.20 924.40,406.47 925.50,414.00 C926.48,420.70 927.44,427.27 928.30,433.00 C929.01,437.74 929.61,442.42 930.30,446.00 C930.79,448.55 931.21,452.45 931.80,452.50 C932.25,452.54 932.83,450.52 933.30,449.00 C934.11,446.38 934.67,441.98 935.50,438.00 C936.49,433.25 937.88,427.83 938.90,422.40 C940.00,416.53 940.92,410.44 941.80,404.00 C942.77,396.91 943.54,390.71 944.40,381.60 C945.74,367.44 947.08,342.21 948.40,327.20 C949.34,316.57 950.39,309.44 951.20,300.00 C952.08,289.77 952.55,279.12 953.40,268.00 C954.33,255.87 955.55,242.83 956.60,230.00 C957.68,216.84 958.85,202.38 959.80,190.00 C960.62,179.28 961.35,169.23 962.00,160.00 C962.56,152.10 963.00,145.33 963.50,138.00 M987.90,138.00 C988.43,150.33 988.98,162.06 989.50,175.00 C990.08,189.27 990.62,205.00 991.20,220.00 C991.78,235.00 992.30,250.94 993.00,265.00 C993.62,277.40 994.44,287.60 995.10,300.00 C995.85,314.06 996.48,330.78 997.20,345.00 C997.85,357.83 998.67,370.89 999.20,381.60 C999.62,389.98 999.89,397.85 1000.20,404.00 C1000.41,408.31 1000.52,412.00 1000.80,415.00 C1000.99,417.09 1001.27,420.30 1001.50,420.30 C1001.73,420.30 1002.00,417.09 1002.20,415.00 C1002.49,412.00 1002.65,407.89 1002.90,404.00 C1003.18,399.61 1003.43,394.07 1003.80,390.00 C1004.09,386.84 1004.49,385.30 1004.80,381.60 C1005.41,374.44 1005.90,359.68 1006.40,350.00 C1006.82,341.78 1007.20,335.14 1007.60,327.20 C1008.04,318.53 1008.46,309.94 1008.90,300.00 C1009.43,287.95 1009.98,274.08 1010.50,260.00 C1011.08,244.26 1011.66,225.18 1012.20,210.00 C1012.65,197.30 1013.10,186.83 1013.50,175.00 C1013.91,162.84 1014.23,150.33 1014.60,138.00 M1042.50,138.00 C1043.17,145.33 1043.78,152.43 1044.50,160.00 C1045.27,168.07 1046.08,177.13 1047.00,185.00 C1047.83,192.07 1048.66,199.16 1049.70,205.10 C1050.54,209.89 1051.52,214.16 1052.50,218.00 C1053.30,221.14 1053.99,224.60 1055.00,226.50 C1055.60,227.63 1056.20,228.60 1057.00,228.90 C1057.72,229.17 1058.68,228.87 1059.50,228.50 C1060.52,228.04 1061.54,226.95 1062.50,226.00 C1063.55,224.97 1064.39,223.44 1065.50,222.50 C1066.51,221.64 1067.70,221.17 1068.80,220.50" fill="none" stroke="#000000" stroke-width="3.0" stroke-linecap="round" stroke-linejoin="round" stroke-dasharray="7.0 6.6" clip-path="url(#cb)"/>
<path d="M1000.60,412.00 C1000.73,413.83 1000.81,415.98 1001.00,417.50 C1001.14,418.59 1001.33,420.30 1001.50,420.30 C1001.67,420.30 1001.86,418.59 1002.00,417.50 C1002.19,415.98 1002.27,413.83 1002.40,412.00 M930.40,446.00 C930.67,447.50 930.92,449.31 931.20,450.50 C931.39,451.31 931.57,452.49 931.80,452.50 C932.03,452.51 932.35,451.31 932.60,450.50 C932.97,449.31 933.27,447.50 933.60,446.00" fill="none" stroke="#000000" stroke-width="3.0" stroke-linecap="round" stroke-linejoin="round" clip-path="url(#cb)"/>
<path d="M631.60,138.00 C631.80,155.33 632.00,172.84 632.20,190.00 C632.40,206.83 632.59,223.77 632.80,240.00 C633.00,255.40 633.17,272.82 633.40,285.00 C633.55,293.32 633.66,300.76 633.90,306.00 C634.04,309.13 634.20,313.50 634.40,313.50 C634.57,313.50 634.83,310.37 635.00,308.00 C635.30,303.73 635.41,296.76 635.60,290.00 C635.85,281.27 636.01,269.83 636.30,260.00 C636.58,250.50 636.84,241.25 637.30,232.00 C637.75,222.92 638.35,213.64 639.00,205.00 C639.60,197.02 640.34,189.09 641.00,182.00 C641.57,175.90 642.22,170.49 642.70,165.00 C643.15,159.85 643.49,154.72 643.80,150.00 C644.08,145.78 644.27,142.00 644.50,138.00 M647.40,138.00 C647.70,142.67 647.97,147.33 648.30,152.00 C648.63,156.67 649.01,161.18 649.40,166.00 C649.81,171.16 650.28,176.67 650.70,182.00 C651.12,187.33 651.31,193.96 651.90,198.00 C652.26,200.50 652.72,202.21 653.20,204.00 C653.60,205.48 654.09,206.26 654.50,208.00 C655.23,211.07 655.84,216.37 656.50,221.00 C657.25,226.28 657.89,233.40 658.70,238.00 C659.26,241.18 659.72,243.56 660.50,246.00 C661.19,248.18 662.06,250.31 663.00,252.00 C663.76,253.37 664.91,255.60 665.50,255.50 C666.04,255.41 666.23,253.53 666.50,252.00 C666.99,249.21 667.07,244.90 667.30,240.00 C667.66,232.25 667.86,220.72 668.10,210.00 C668.37,197.62 668.57,182.59 668.80,170.00 C669.00,158.74 669.20,148.67 669.40,138.00 M676.40,138.00 C676.67,165.33 676.95,192.84 677.20,220.00 C677.45,246.83 677.62,274.22 677.90,300.00 C678.16,324.11 678.35,353.24 678.80,370.00 C679.05,379.40 679.07,387.63 679.70,392.00 C679.97,393.89 680.40,396.02 680.70,396.00 C681.14,395.97 681.47,390.00 681.80,387.00 C682.13,384.00 682.27,380.06 682.70,378.00 C682.93,376.89 683.16,375.55 683.50,375.50 C683.78,375.46 684.21,376.33 684.50,377.00 C684.97,378.07 685.23,379.80 685.60,381.50 C686.07,383.68 686.31,386.67 687.00,389.00 C687.64,391.15 688.60,393.11 689.50,395.00 C690.34,396.76 691.27,398.06 692.20,400.00 C693.42,402.54 694.67,405.93 696.00,409.00 C697.40,412.25 698.98,415.42 700.40,419.00 C701.99,423.02 703.67,427.94 705.00,432.00 C706.16,435.54 707.04,439.26 708.00,442.00 C708.69,443.97 709.19,446.83 710.00,447.00 C710.59,447.12 711.38,445.93 712.00,445.00 C712.94,443.60 713.68,441.05 714.50,439.00 C715.35,436.88 716.20,434.51 717.00,432.50 C717.69,430.75 718.48,429.62 719.00,427.60 C719.78,424.59 720.02,420.30 720.40,416.00 C720.87,410.66 721.12,405.11 721.40,398.00 C721.81,387.68 722.04,374.11 722.30,360.00 C722.63,342.27 722.85,320.00 723.10,300.00 C723.35,280.00 723.58,260.00 723.80,240.00 C724.02,220.00 724.20,198.22 724.40,180.00 C724.57,164.75 724.73,152.00 724.90,138.00 M729.90,138.00 C730.03,152.00 730.18,164.75 730.30,180.00 C730.45,198.22 730.55,220.00 730.70,240.00 C730.85,260.00 730.98,281.44 731.20,300.00 C731.39,316.08 731.68,331.52 731.90,345.00 C732.08,356.01 732.00,366.42 732.40,375.00 C732.70,381.47 733.04,388.04 733.70,392.00 C734.06,394.18 734.61,397.02 735.00,397.00 C735.51,396.97 735.91,390.91 736.30,388.00 C736.67,385.26 736.86,381.82 737.30,380.00 C737.54,379.02 737.79,377.82 738.10,377.80 C738.42,377.78 738.86,379.10 739.20,380.00 C739.69,381.31 739.93,383.65 740.50,385.00 C740.93,386.01 741.35,387.01 742.00,387.50 C742.53,387.90 743.22,387.87 743.90,388.00 C744.67,388.15 745.53,388.50 746.40,388.30 C747.54,388.04 748.77,387.09 750.00,386.00 C751.73,384.47 753.80,381.78 755.40,379.50 C756.96,377.27 758.27,375.02 759.50,372.50 C760.83,369.78 761.83,366.86 763.00,363.70 C764.33,360.09 765.76,356.08 767.00,352.00 C768.34,347.61 769.48,342.55 770.70,338.20 C771.81,334.26 772.96,330.78 774.00,327.00 C775.06,323.15 775.86,319.68 777.00,315.30 C778.47,309.67 780.63,302.68 782.10,296.00 C783.66,288.94 784.73,281.65 786.00,274.00 C787.37,265.70 788.76,256.76 790.00,248.00 C791.26,239.09 792.41,229.92 793.50,221.00 C794.57,212.26 795.50,203.67 796.50,195.00" fill="none" stroke="#000000" stroke-width="3.0" stroke-linecap="round" stroke-linejoin="round" clip-path="url(#cb)"/>
<path d="M614.60,138.00 C614.70,158.67 614.79,178.02 614.90,200.00 C615.02,224.97 615.11,255.25 615.30,280.00 C615.46,301.44 615.62,321.44 615.90,340.00 C616.14,356.08 616.28,373.58 616.80,385.00 C617.12,392.02 617.16,398.34 618.00,402.00 C618.42,403.84 619.13,406.04 619.60,406.00 C620.16,405.96 620.58,402.36 621.00,400.00 C621.59,396.70 621.92,391.22 622.50,388.00 C622.90,385.80 623.37,382.49 623.80,382.50 C624.30,382.51 624.78,387.46 625.30,390.00 C625.84,392.63 626.52,398.02 627.00,398.00 C627.59,397.97 628.02,391.20 628.40,386.00 C629.10,376.41 629.24,358.99 629.60,345.00 C629.98,330.35 630.31,315.40 630.60,300.00 C630.91,283.77 631.16,267.43 631.40,250.00 C631.66,230.91 631.88,209.28 632.10,190.00 C632.31,172.05 632.50,155.33 632.70,138.00 M640.60,138.00 C640.80,158.67 640.96,179.95 641.20,200.00 C641.43,218.88 641.61,239.90 642.00,255.00 C642.27,265.59 642.51,275.42 643.00,282.00 C643.28,285.81 643.40,289.11 644.00,291.00 C644.30,291.95 644.72,292.26 645.10,293.00 C645.55,293.89 646.03,294.74 646.50,296.00 C647.23,297.97 648.00,300.91 648.70,303.80 C649.55,307.33 650.36,311.39 651.10,315.70 C651.98,320.78 652.70,326.84 653.50,332.40 C654.30,337.94 654.99,344.24 655.90,349.00 C656.60,352.65 657.50,354.95 658.20,358.60 C659.11,363.36 659.98,370.12 660.60,375.20 C661.13,379.49 661.41,383.05 661.80,387.10 C662.21,391.31 662.54,396.98 663.00,400.00 C663.25,401.65 663.52,403.80 663.80,403.80 C664.08,403.80 664.46,401.66 664.70,400.00 C665.14,396.97 665.14,391.98 665.40,387.00 C665.75,380.28 666.23,372.01 666.60,363.30 C667.05,352.62 667.47,340.36 667.80,327.60 C668.19,312.87 668.48,296.06 668.70,280.00 C668.92,263.54 668.98,246.67 669.10,230.00 C669.22,213.33 669.31,195.94 669.40,180.00 C669.48,165.39 669.53,152.00 669.60,138.00 M677.20,138.00 C677.47,158.67 677.71,179.50 678.00,200.00 C678.28,220.16 678.55,242.68 678.90,260.00 C679.17,273.23 679.33,286.39 679.80,295.00 C680.08,300.05 680.30,303.88 680.80,307.00 C681.13,309.04 681.64,310.13 682.00,312.00 C682.46,314.35 682.84,317.30 683.20,320.00 C683.57,322.76 683.77,325.17 684.20,328.40 C684.79,332.81 685.71,338.72 686.50,344.00 C687.31,349.45 688.11,355.09 689.00,360.60 C689.88,366.09 690.88,371.58 691.80,377.00 C692.71,382.34 693.47,387.98 694.50,392.90 C695.40,397.23 696.50,401.11 697.50,405.00 C698.43,408.63 699.34,412.20 700.30,415.50 C701.17,418.49 702.16,421.24 703.00,424.00 C703.79,426.60 704.37,429.20 705.20,431.60 C705.98,433.85 706.94,436.07 707.80,438.00 C708.54,439.65 709.24,441.17 710.00,442.50 C710.65,443.63 711.40,444.68 712.00,445.50 C712.44,446.10 712.76,446.95 713.20,447.00 C713.60,447.05 714.11,446.50 714.50,446.00 C715.10,445.23 715.43,443.35 716.00,442.50 C716.40,441.91 716.94,441.11 717.30,441.20 C717.80,441.32 718.10,443.20 718.40,444.50 C718.82,446.29 719.04,448.79 719.30,451.00 C719.57,453.29 719.76,455.76 720.00,458.00 C720.23,460.08 720.24,462.57 720.70,464.00 C720.98,464.88 721.43,466.00 721.80,466.00 C722.17,466.00 722.62,464.95 722.90,464.00 C723.45,462.11 723.34,458.38 723.50,455.00 C723.70,450.64 723.79,445.64 723.90,440.00 C724.04,432.73 724.10,424.55 724.20,415.00 C724.33,402.19 724.45,387.14 724.60,370.00 C724.80,347.14 725.00,312.86 725.30,290.00 C725.53,272.86 725.80,257.51 726.10,245.00 C726.32,236.06 726.29,226.50 726.80,222.00 C727.02,220.11 727.08,218.62 727.60,218.00 C727.87,217.68 728.27,217.60 728.60,217.60 C728.93,217.60 729.34,217.66 729.60,218.00 C730.21,218.82 730.04,221.29 730.20,224.00 C730.53,229.62 730.55,240.40 730.70,250.00 C730.89,261.90 731.02,276.67 731.20,290.00 C731.38,303.33 731.57,318.23 731.80,330.00 C731.98,339.31 732.14,346.88 732.40,355.00 C732.65,362.72 732.93,370.39 733.30,377.60 C733.64,384.24 733.80,396.63 734.50,396.70 C734.86,396.74 735.42,393.67 735.80,392.00 C736.23,390.13 736.09,386.68 736.90,386.00 C737.32,385.65 738.01,385.72 738.50,386.00 C739.28,386.45 739.72,388.21 740.50,389.50 C741.49,391.14 742.85,393.04 744.00,395.00 C745.26,397.15 746.26,399.41 747.70,401.90 C749.48,404.97 751.78,408.73 754.00,412.00 C756.21,415.26 758.89,418.79 761.00,421.50 C762.64,423.61 763.98,425.43 765.50,427.00 C766.82,428.36 768.12,430.39 769.50,430.50 C770.80,430.60 772.25,429.29 773.50,428.00 C775.28,426.16 776.85,422.89 778.30,419.70 C780.09,415.78 781.44,410.99 783.00,406.00 C784.84,400.12 786.93,392.62 788.50,386.60 C789.86,381.40 790.79,377.07 792.00,372.00 C793.31,366.50 794.73,360.53 796.10,354.80" fill="none" stroke="#cf1119" stroke-width="3.0" stroke-linecap="round" stroke-linejoin="round" clip-path="url(#cb)"/>
<path d="M726.3,300 L726.7,245 L727.4,218 L729.8,218 L730.5,245 L731,300 Z" fill="#cf1119" clip-path="url(#cb)"/>
<path d="M633.20,138.00 C633.53,145.33 633.86,152.43 634.20,160.00 C634.56,168.07 634.90,176.67 635.30,185.00 C635.70,193.33 636.20,201.29 636.60,210.00 C637.04,219.54 637.43,230.17 637.80,240.00 C638.16,249.49 638.48,259.23 638.80,268.00 C639.08,275.77 639.33,283.77 639.60,290.00 C639.80,294.60 639.99,298.96 640.20,302.00 C640.33,303.86 640.38,306.48 640.60,306.50 C640.80,306.51 641.17,304.50 641.40,303.00 C641.79,300.37 641.98,296.30 642.20,292.00 C642.52,285.93 642.70,277.90 642.90,270.00 C643.14,260.77 643.33,250.72 643.50,240.00 C643.70,227.62 643.85,213.33 644.00,200.00 C644.15,186.67 644.27,171.36 644.40,160.00 C644.50,151.58 644.60,145.33 644.70,138.00 M647.00,138.00 C647.30,141.00 647.59,143.92 647.90,147.00 C648.22,150.25 648.57,153.59 648.90,157.00 C649.24,160.58 649.58,164.11 649.90,168.00 C650.26,172.38 650.58,177.18 650.90,182.00 C651.25,187.15 651.61,192.84 651.90,198.00 C652.17,202.82 652.33,207.91 652.60,212.00 C652.81,215.19 652.77,218.86 653.30,220.50 C653.54,221.24 653.92,222.04 654.20,222.00 C654.67,221.93 654.94,218.51 655.40,217.00 C655.79,215.72 656.06,213.80 656.70,213.50 C657.11,213.30 657.78,213.60 658.20,214.00 C658.85,214.61 659.21,216.09 659.60,217.50 C660.15,219.50 660.36,222.65 660.80,225.00 C661.20,227.12 661.64,230.98 662.10,231.00 C662.45,231.02 662.91,229.05 663.20,227.50 C663.75,224.64 663.86,219.88 664.10,215.00 C664.44,208.10 664.61,198.71 664.80,190.00 C665.01,180.46 665.16,169.23 665.30,160.00 C665.42,152.10 665.50,145.33 665.60,138.00 M674.30,138.00 C674.60,158.67 674.91,178.71 675.20,200.00 C675.51,222.63 675.79,247.57 676.10,270.00 C676.39,290.77 676.69,313.12 677.00,330.00 C677.23,342.33 677.42,352.21 677.70,362.00 C677.94,370.30 678.17,378.28 678.50,385.00 C678.76,390.25 678.92,395.64 679.40,399.00 C679.67,400.93 680.01,403.47 680.40,403.50 C680.70,403.52 681.11,402.06 681.40,401.00 C681.87,399.27 682.16,396.24 682.50,394.00 C682.82,391.92 682.97,389.31 683.40,388.00 C683.63,387.31 683.91,386.51 684.20,386.50 C684.50,386.49 684.86,387.37 685.20,388.00 C685.71,388.94 686.14,390.45 686.80,391.70 C687.54,393.11 688.64,394.45 689.50,396.00 C690.45,397.70 691.16,399.42 692.20,401.50 C693.56,404.24 695.45,407.74 697.00,411.00 C698.62,414.39 700.30,417.88 701.70,421.50 C703.14,425.21 704.40,429.39 705.50,433.00 C706.46,436.17 707.16,439.38 708.00,442.00 C708.66,444.07 709.08,447.13 710.00,447.50 C710.57,447.73 711.39,447.08 712.00,446.50 C712.88,445.67 713.65,444.14 714.30,442.50 C715.19,440.25 715.70,436.87 716.30,434.00 C716.90,431.10 717.40,428.17 717.90,425.20 C718.41,422.17 718.91,419.21 719.30,416.00 C719.72,412.50 720.03,409.41 720.30,405.00 C720.71,398.36 720.86,389.31 721.10,380.00 C721.41,368.23 721.65,353.33 721.90,340.00 C722.15,326.67 722.39,314.08 722.60,300.00 C722.83,284.26 723.01,267.43 723.20,250.00 C723.41,230.91 723.61,209.28 723.80,190.00 C723.98,172.05 724.13,155.33 724.30,138.00 M732.00,138.00 C732.20,147.00 732.38,156.17 732.60,165.00 C732.81,173.49 732.93,182.73 733.30,190.00 C733.59,195.64 733.88,200.95 734.40,205.00 C734.76,207.78 735.01,210.43 735.70,212.00 C736.11,212.93 736.73,213.28 737.20,214.00 C737.70,214.77 738.19,215.47 738.60,216.50 C739.18,217.95 739.53,220.09 740.00,222.00 C740.50,224.05 740.68,228.15 741.50,228.40 C742.03,228.56 742.82,227.19 743.50,226.50 C744.25,225.74 745.10,225.13 745.80,224.00 C746.84,222.32 747.53,219.37 748.50,217.00 C749.52,214.51 750.81,212.17 751.80,209.40 C752.94,206.24 753.82,202.47 754.80,199.00 C755.78,195.54 756.74,192.17 757.70,188.60 C758.71,184.84 759.71,180.92 760.70,177.00 C761.71,172.99 762.67,168.74 763.70,164.80 C764.67,161.08 765.70,157.54 766.70,154.00 C767.67,150.57 768.98,146.84 769.60,143.90 C770.06,141.69 770.13,139.97 770.40,138.00" fill="none" stroke="#0c0cc4" stroke-width="3.0" stroke-linecap="round" stroke-linejoin="round" clip-path="url(#cb)"/>
<text x="600.3" y="467.5" font-size="20.4" text-anchor="end" font-family="'Liberation Sans', sans-serif" >0</text>
<text x="600.3" y="403.7" font-size="20.4" text-anchor="end" font-family="'Liberation Sans', sans-serif" >2</text>
<text x="600.3" y="340.0" font-size="20.4" text-anchor="end" font-family="'Liberation Sans', sans-serif" >4</text>
<text x="600.3" y="276.2" font-size="20.4" text-anchor="end" font-family="'Liberation Sans', sans-serif" >6</text>
<text x="600.3" y="212.5" font-size="20.4" text-anchor="end" font-family="'Liberation Sans', sans-serif" >8</text>
<text x="600.3" y="148.7" font-size="20.4" text-anchor="end" font-family="'Liberation Sans', sans-serif" >10</text>
<text x="614.5" y="493.3" font-size="20.4" text-anchor="middle" font-family="'Liberation Sans', sans-serif" >0.2</text>
<text x="705.3" y="493.3" font-size="20.4" text-anchor="middle" font-family="'Liberation Sans', sans-serif" >0.4</text>
<text x="796.2" y="493.3" font-size="20.4" text-anchor="middle" font-family="'Liberation Sans', sans-serif" >0.6</text>
<text x="887.0" y="493.3" font-size="20.4" text-anchor="middle" font-family="'Liberation Sans', sans-serif" >0.8</text>
<text x="977.9" y="493.3" font-size="20.4" text-anchor="middle" font-family="'Liberation Sans', sans-serif" >1.0</text>
<text x="1068.7" y="493.3" font-size="20.4" text-anchor="middle" font-family="'Liberation Sans', sans-serif" >1.2</text>
<text x="844" y="527.6" font-size="20.3" text-anchor="middle" font-family="'Liberation Sans', sans-serif" >Frequency (GHz)</text>
<text x="0" y="0" font-size="20.3" text-anchor="middle" font-family="'Liberation Sans', sans-serif" transform="translate(561.0,299.3) rotate(-90)">Axial Ratio (dB)</text>
<text x="817" y="579" font-size="34" text-anchor="middle" font-family="'Liberation Serif', serif">(b)</text>
<line x1="730.8" y1="10.6" x2="775.2" y2="10.6" stroke="#000000" stroke-width="3.2" stroke-linecap="round"/>
<text x="786.5" y="18.8" font-size="19.95" text-anchor="start" font-family="'Liberation Sans', sans-serif" >P1 (Stomach)</text>
<line x1="730.8" y1="33.2" x2="775.2" y2="33.2" stroke="#cf1119" stroke-width="3.2" stroke-linecap="round"/>
<text x="786.5" y="41.4" font-size="19.95" text-anchor="start" font-family="'Liberation Sans', sans-serif" >P1 (Small Intestine)</text>
<line x1="730.8" y1="55.4" x2="775.2" y2="55.4" stroke="#0c0cc4" stroke-width="3.2" stroke-linecap="round"/>
<text x="786.5" y="63.6" font-size="19.95" text-anchor="start" font-family="'Liberation Sans', sans-serif" >P1 (Colon)</text>
<line x1="730.8" y1="77.3" x2="770.7" y2="77.3" stroke="#000000" stroke-width="3.2" stroke-linecap="round" stroke-dasharray="9.0 6.5"/>
<text x="786.5" y="85.5" font-size="19.95" text-anchor="start" font-family="'Liberation Sans', sans-serif" >P2 (Stomach)</text>
<line x1="730.8" y1="100.3" x2="770.7" y2="100.3" stroke="#cf1119" stroke-width="3.2" stroke-linecap="round" stroke-dasharray="9.0 6.5"/>
<text x="786.5" y="108.5" font-size="19.95" text-anchor="start" font-family="'Liberation Sans', sans-serif" >P2 (Small Intestine)</text>
<line x1="730.8" y1="122.8" x2="770.7" y2="122.8" stroke="#0c0cc4" stroke-width="3.2" stroke-linecap="round" stroke-dasharray="9.0 6.5"/>
<text x="786.5" y="131.0" font-size="19.95" text-anchor="start" font-family="'Liberation Sans', sans-serif" >P2 (Colon)</text>
</svg></body></html>
